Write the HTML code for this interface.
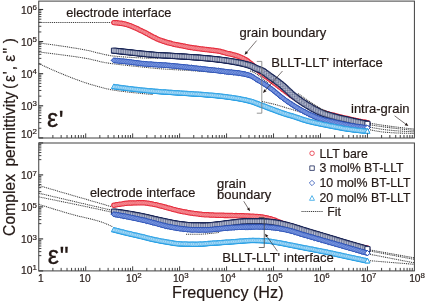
<!DOCTYPE html>
<html><head><meta charset="utf-8"><title>Complex permittivity</title>
<style>html,body{margin:0;padding:0;background:#fff;}svg{display:block;will-change:transform;}text{stroke:#231815;stroke-width:0.18px;}</style></head>
<body>
<svg width="425" height="304" viewBox="0 0 425 304" font-family="Liberation Sans, sans-serif" fill="#231815">
<rect width="425" height="304" fill="#fff"/>
<g id="fit-top">
<polyline points="38.75,22.50 111.50,22.50" fill="none" stroke="#3c3c3c" stroke-width="1.05" stroke-dasharray="1.05 0.85"/>
<polyline points="38.75,43.00 40.74,43.23 42.73,43.47 44.71,43.72 46.70,43.97 48.69,44.23 50.67,44.50 52.66,44.77 54.65,45.04 56.64,45.32 58.62,45.61 60.61,45.90 62.60,46.19 64.59,46.49 66.58,46.79 68.56,47.10 70.55,47.41 72.54,47.73 74.53,48.05 76.51,48.38 78.50,48.72 80.49,49.07 82.47,49.44 84.46,49.81 86.45,50.19 88.44,50.59 90.43,51.03 92.41,51.50 94.40,52.01 96.39,52.53 98.38,53.04 100.36,53.55 102.35,54.03 104.34,54.47 106.33,54.87 108.31,55.26 110.30,55.63 112.29,55.92 114.28,56.13 116.26,56.32 118.25,56.50 120.24,56.67 122.23,56.82 124.21,56.97 126.20,57.11 128.19,57.24 130.18,57.36 132.16,57.47 134.15,57.57 136.14,57.67 138.12,57.76 140.11,57.85 142.10,57.93 144.09,58.00 146.07,58.08 148.06,58.14 150.05,58.21 152.04,58.27 154.03,58.32 156.01,58.36 158.00,58.40" fill="none" stroke="#3c3c3c" stroke-width="1.05" stroke-dasharray="1.05 0.85"/>
<polyline points="38.75,52.00 40.74,52.22 42.73,52.45 44.72,52.68 46.72,52.92 48.71,53.16 50.70,53.40 52.69,53.65 54.68,53.90 56.67,54.16 58.67,54.42 60.66,54.68 62.65,54.95 64.64,55.22 66.63,55.49 68.62,55.76 70.62,56.04 72.61,56.31 74.60,56.60 76.59,56.89 78.58,57.19 80.57,57.49 82.56,57.81 84.56,58.14 86.55,58.49 88.54,58.85 90.53,59.26 92.52,59.72 94.51,60.20 96.51,60.70 98.50,61.20 100.49,61.67 102.48,62.12 104.47,62.51 106.46,62.84 108.46,63.14 110.45,63.42 112.44,63.68 114.43,63.93 116.42,64.18 118.41,64.42 120.40,64.66 122.40,64.89 124.39,65.11 126.38,65.34 128.37,65.55 130.36,65.77 132.35,65.98 134.35,66.19 136.34,66.40 138.33,66.61 140.32,66.82 142.31,67.02 144.30,67.23 146.29,67.44 148.29,67.66 150.28,67.87 152.27,68.07 154.26,68.27 156.25,68.45 158.24,68.62 160.24,68.77 162.23,68.92 164.22,69.06 166.21,69.19 168.20,69.31 170.19,69.43 172.19,69.55 174.18,69.66 176.17,69.77 178.16,69.88 180.15,69.99 182.14,70.10 184.13,70.21 186.13,70.32 188.12,70.43 190.11,70.55 192.10,70.67 194.09,70.79 196.08,70.92 198.08,71.06 200.07,71.21 202.06,71.36 204.05,71.52 206.04,71.69 208.03,71.86 210.03,72.04 212.02,72.23 214.01,72.41 216.00,72.60" fill="none" stroke="#3c3c3c" stroke-width="1.05" stroke-dasharray="1.05 0.85"/>
<polyline points="38.75,63.50 40.72,64.46 42.69,65.40 44.66,66.33 46.63,67.25 48.60,68.15 50.57,69.03 52.54,69.90 54.51,70.75 56.48,71.59 58.45,72.42 60.42,73.24 62.39,74.05 64.36,74.85 66.33,75.64 68.30,76.43 70.27,77.20 72.24,77.96 74.21,78.70 76.18,79.44 78.15,80.17 80.12,80.89 82.09,81.60 84.06,82.30 86.03,82.96 88.00,83.60 89.97,84.20 91.94,84.79 93.91,85.35 95.88,85.89 97.84,86.43 99.81,86.95 101.78,87.48 103.75,88.01 105.72,88.53 107.69,89.01 109.66,89.44 111.63,89.81 113.60,90.14 115.57,90.45 117.54,90.73 119.51,91.00 121.48,91.26 123.45,91.51 125.42,91.75 127.39,91.99 129.36,92.21 131.33,92.43 133.30,92.64 135.27,92.84 137.24,93.04 139.21,93.24 141.18,93.43 143.15,93.62 145.12,93.81 147.09,93.99 149.06,94.16 151.03,94.33 153.00,94.50" fill="none" stroke="#3c3c3c" stroke-width="1.05" stroke-dasharray="1.05 0.85"/>
<polyline points="370.00,123.20 371.91,123.52 373.83,123.83 375.74,124.14 377.65,124.44 379.57,124.74 381.48,125.03 383.39,125.31 385.30,125.59 387.22,125.86 389.13,126.12 391.04,126.38 392.96,126.62 394.87,126.87 396.78,127.10 398.70,127.34 400.61,127.57 402.52,127.79 404.43,128.01 406.35,128.22 408.26,128.42 410.17,128.62 412.09,128.81 414.00,129.00" fill="none" stroke="#3c3c3c" stroke-width="1.05" stroke-dasharray="1.05 0.85"/>
<polyline points="370.00,124.80 371.91,125.11 373.83,125.42 375.74,125.73 377.65,126.02 379.57,126.31 381.48,126.59 383.39,126.87 385.30,127.13 387.22,127.39 389.13,127.64 391.04,127.88 392.96,128.12 394.87,128.34 396.78,128.57 398.70,128.78 400.61,129.00 402.52,129.20 404.43,129.40 406.35,129.60 408.26,129.78 410.17,129.96 412.09,130.14 414.00,130.30" fill="none" stroke="#3c3c3c" stroke-width="1.05" stroke-dasharray="1.05 0.85"/>
<polyline points="370.00,127.20 371.91,127.56 373.83,127.90 375.74,128.24 377.65,128.56 379.57,128.87 381.48,129.16 383.39,129.43 385.30,129.69 387.22,129.92 389.13,130.13 391.04,130.32 392.96,130.48 394.87,130.64 396.78,130.79 398.70,130.94 400.61,131.08 402.52,131.21 404.43,131.33 406.35,131.43 408.26,131.52 410.17,131.60 412.09,131.66 414.00,131.70" fill="none" stroke="#3c3c3c" stroke-width="1.05" stroke-dasharray="1.05 0.85"/>
<polyline points="370.00,129.80 371.91,130.19 373.83,130.57 375.74,130.93 377.65,131.26 379.57,131.55 381.48,131.82 383.39,132.04 385.30,132.23 387.22,132.38 389.13,132.53 391.04,132.66 392.96,132.78 394.87,132.89 396.78,132.98 398.70,133.06 400.61,133.12 402.52,133.18 404.43,133.23 406.35,133.28 408.26,133.33 410.17,133.36 412.09,133.39 414.00,133.40" fill="none" stroke="#3c3c3c" stroke-width="1.05" stroke-dasharray="1.05 0.85"/>
<polyline points="250.00,71.00 251.80,71.51 253.60,72.26 255.40,73.17 257.20,74.29 259.00,75.79 260.80,77.34 262.60,78.77 264.40,80.19 266.20,81.60 268.00,83.00" fill="none" stroke="#3c3c3c" stroke-width="1.05" stroke-dasharray="1.05 0.85"/>
<polyline points="262.00,101.50 263.90,101.89 265.80,102.29 267.70,102.72 269.60,103.16 271.50,103.62 273.40,104.09 275.30,104.58 277.20,105.09 279.10,105.64 281.00,106.20 282.90,106.77 284.80,107.34 286.70,107.91 288.60,108.48 290.50,109.05 292.40,109.63 294.30,110.22 296.20,110.81 298.10,111.40 300.00,112.00" fill="none" stroke="#3c3c3c" stroke-width="1.05" stroke-dasharray="1.05 0.85"/>
<polyline points="300.00,101.00 301.97,102.43 303.94,103.81 305.91,105.12 307.89,106.37 309.86,107.55 311.83,108.64 313.80,109.68 315.77,110.68 317.74,111.65 319.71,112.56 321.69,113.38 323.66,114.09 325.63,114.68 327.60,115.19 329.57,115.67 331.54,116.10 333.51,116.50 335.49,116.87 337.46,117.23 339.43,117.57 341.40,117.90 343.37,118.23 345.34,118.56 347.31,118.89 349.29,119.21 351.26,119.53 353.23,119.84 355.20,120.14 357.17,120.43 359.14,120.72 361.11,121.00 363.09,121.26 365.06,121.52 367.03,121.77 369.00,122.00" fill="none" stroke="#3c3c3c" stroke-width="1.05" stroke-dasharray="1.05 0.85"/>
</g>
<g id="t-red"><path fill="#e62f3f" stroke="#e62f3f" stroke-width="1.05" d="M111.7 22.6a2.2 2.2 0 1 0 4.4 0a2.2 2.2 0 1 0 -4.4 0zM112.9 22.7a2.2 2.2 0 1 0 4.4 0a2.2 2.2 0 1 0 -4.4 0zM114 22.8a2.2 2.2 0 1 0 4.4 0a2.2 2.2 0 1 0 -4.4 0zM115.2 22.9a2.2 2.2 0 1 0 4.4 0a2.2 2.2 0 1 0 -4.4 0zM116.4 23a2.2 2.2 0 1 0 4.4 0a2.2 2.2 0 1 0 -4.4 0zM117.5 23.2a2.2 2.2 0 1 0 4.4 0a2.2 2.2 0 1 0 -4.4 0zM118.7 23.3a2.2 2.2 0 1 0 4.4 0a2.2 2.2 0 1 0 -4.4 0zM119.9 23.5a2.2 2.2 0 1 0 4.4 0a2.2 2.2 0 1 0 -4.4 0zM121.1 23.8a2.2 2.2 0 1 0 4.4 0a2.2 2.2 0 1 0 -4.4 0zM122.2 24a2.2 2.2 0 1 0 4.4 0a2.2 2.2 0 1 0 -4.4 0zM123.4 24.3a2.2 2.2 0 1 0 4.4 0a2.2 2.2 0 1 0 -4.4 0zM124.6 24.6a2.2 2.2 0 1 0 4.4 0a2.2 2.2 0 1 0 -4.4 0zM125.8 25a2.2 2.2 0 1 0 4.4 0a2.2 2.2 0 1 0 -4.4 0zM126.9 25.4a2.2 2.2 0 1 0 4.4 0a2.2 2.2 0 1 0 -4.4 0zM128.1 25.8a2.2 2.2 0 1 0 4.4 0a2.2 2.2 0 1 0 -4.4 0zM129.3 26.2a2.2 2.2 0 1 0 4.4 0a2.2 2.2 0 1 0 -4.4 0zM130.5 26.7a2.2 2.2 0 1 0 4.4 0a2.2 2.2 0 1 0 -4.4 0zM131.6 27.2a2.2 2.2 0 1 0 4.4 0a2.2 2.2 0 1 0 -4.4 0zM132.8 27.7a2.2 2.2 0 1 0 4.4 0a2.2 2.2 0 1 0 -4.4 0zM134 28.3a2.2 2.2 0 1 0 4.4 0a2.2 2.2 0 1 0 -4.4 0zM135.2 28.8a2.2 2.2 0 1 0 4.4 0a2.2 2.2 0 1 0 -4.4 0zM136.3 29.4a2.2 2.2 0 1 0 4.4 0a2.2 2.2 0 1 0 -4.4 0zM137.5 30a2.2 2.2 0 1 0 4.4 0a2.2 2.2 0 1 0 -4.4 0zM138.7 30.5a2.2 2.2 0 1 0 4.4 0a2.2 2.2 0 1 0 -4.4 0zM139.9 31.1a2.2 2.2 0 1 0 4.4 0a2.2 2.2 0 1 0 -4.4 0zM141 31.6a2.2 2.2 0 1 0 4.4 0a2.2 2.2 0 1 0 -4.4 0zM142.2 32.2a2.2 2.2 0 1 0 4.4 0a2.2 2.2 0 1 0 -4.4 0zM143.4 32.8a2.2 2.2 0 1 0 4.4 0a2.2 2.2 0 1 0 -4.4 0zM144.5 33.5a2.2 2.2 0 1 0 4.4 0a2.2 2.2 0 1 0 -4.4 0zM145.7 34.1a2.2 2.2 0 1 0 4.4 0a2.2 2.2 0 1 0 -4.4 0zM146.9 34.8a2.2 2.2 0 1 0 4.4 0a2.2 2.2 0 1 0 -4.4 0zM148.1 35.5a2.2 2.2 0 1 0 4.4 0a2.2 2.2 0 1 0 -4.4 0zM149.2 36.1a2.2 2.2 0 1 0 4.4 0a2.2 2.2 0 1 0 -4.4 0zM150.4 36.7a2.2 2.2 0 1 0 4.4 0a2.2 2.2 0 1 0 -4.4 0zM151.6 37.3a2.2 2.2 0 1 0 4.4 0a2.2 2.2 0 1 0 -4.4 0zM152.8 37.8a2.2 2.2 0 1 0 4.4 0a2.2 2.2 0 1 0 -4.4 0zM153.9 38.4a2.2 2.2 0 1 0 4.4 0a2.2 2.2 0 1 0 -4.4 0zM155.1 38.9a2.2 2.2 0 1 0 4.4 0a2.2 2.2 0 1 0 -4.4 0zM156.3 39.4a2.2 2.2 0 1 0 4.4 0a2.2 2.2 0 1 0 -4.4 0zM157.5 39.9a2.2 2.2 0 1 0 4.4 0a2.2 2.2 0 1 0 -4.4 0zM158.6 40.3a2.2 2.2 0 1 0 4.4 0a2.2 2.2 0 1 0 -4.4 0zM159.8 40.8a2.2 2.2 0 1 0 4.4 0a2.2 2.2 0 1 0 -4.4 0zM161 41.2a2.2 2.2 0 1 0 4.4 0a2.2 2.2 0 1 0 -4.4 0zM162.2 41.6a2.2 2.2 0 1 0 4.4 0a2.2 2.2 0 1 0 -4.4 0zM163.3 42a2.2 2.2 0 1 0 4.4 0a2.2 2.2 0 1 0 -4.4 0zM164.5 42.3a2.2 2.2 0 1 0 4.4 0a2.2 2.2 0 1 0 -4.4 0zM165.7 42.7a2.2 2.2 0 1 0 4.4 0a2.2 2.2 0 1 0 -4.4 0zM166.9 43a2.2 2.2 0 1 0 4.4 0a2.2 2.2 0 1 0 -4.4 0zM168 43.3a2.2 2.2 0 1 0 4.4 0a2.2 2.2 0 1 0 -4.4 0zM169.2 43.6a2.2 2.2 0 1 0 4.4 0a2.2 2.2 0 1 0 -4.4 0zM170.4 43.9a2.2 2.2 0 1 0 4.4 0a2.2 2.2 0 1 0 -4.4 0zM171.5 44.2a2.2 2.2 0 1 0 4.4 0a2.2 2.2 0 1 0 -4.4 0zM172.7 44.4a2.2 2.2 0 1 0 4.4 0a2.2 2.2 0 1 0 -4.4 0zM173.9 44.7a2.2 2.2 0 1 0 4.4 0a2.2 2.2 0 1 0 -4.4 0zM175.1 44.9a2.2 2.2 0 1 0 4.4 0a2.2 2.2 0 1 0 -4.4 0zM176.2 45.1a2.2 2.2 0 1 0 4.4 0a2.2 2.2 0 1 0 -4.4 0zM177.4 45.4a2.2 2.2 0 1 0 4.4 0a2.2 2.2 0 1 0 -4.4 0zM178.6 45.6a2.2 2.2 0 1 0 4.4 0a2.2 2.2 0 1 0 -4.4 0zM179.8 45.8a2.2 2.2 0 1 0 4.4 0a2.2 2.2 0 1 0 -4.4 0zM180.9 46.1a2.2 2.2 0 1 0 4.4 0a2.2 2.2 0 1 0 -4.4 0zM182.1 46.3a2.2 2.2 0 1 0 4.4 0a2.2 2.2 0 1 0 -4.4 0zM183.3 46.5a2.2 2.2 0 1 0 4.4 0a2.2 2.2 0 1 0 -4.4 0zM184.5 46.7a2.2 2.2 0 1 0 4.4 0a2.2 2.2 0 1 0 -4.4 0zM185.6 47a2.2 2.2 0 1 0 4.4 0a2.2 2.2 0 1 0 -4.4 0zM186.8 47.2a2.2 2.2 0 1 0 4.4 0a2.2 2.2 0 1 0 -4.4 0zM188 47.4a2.2 2.2 0 1 0 4.4 0a2.2 2.2 0 1 0 -4.4 0zM189.2 47.6a2.2 2.2 0 1 0 4.4 0a2.2 2.2 0 1 0 -4.4 0zM190.3 47.8a2.2 2.2 0 1 0 4.4 0a2.2 2.2 0 1 0 -4.4 0zM191.5 48a2.2 2.2 0 1 0 4.4 0a2.2 2.2 0 1 0 -4.4 0zM192.7 48.1a2.2 2.2 0 1 0 4.4 0a2.2 2.2 0 1 0 -4.4 0zM193.9 48.3a2.2 2.2 0 1 0 4.4 0a2.2 2.2 0 1 0 -4.4 0zM195 48.5a2.2 2.2 0 1 0 4.4 0a2.2 2.2 0 1 0 -4.4 0zM196.2 48.6a2.2 2.2 0 1 0 4.4 0a2.2 2.2 0 1 0 -4.4 0zM197.4 48.8a2.2 2.2 0 1 0 4.4 0a2.2 2.2 0 1 0 -4.4 0zM198.5 48.9a2.2 2.2 0 1 0 4.4 0a2.2 2.2 0 1 0 -4.4 0zM199.7 49a2.2 2.2 0 1 0 4.4 0a2.2 2.2 0 1 0 -4.4 0zM200.9 49.2a2.2 2.2 0 1 0 4.4 0a2.2 2.2 0 1 0 -4.4 0zM202.1 49.3a2.2 2.2 0 1 0 4.4 0a2.2 2.2 0 1 0 -4.4 0zM203.2 49.5a2.2 2.2 0 1 0 4.4 0a2.2 2.2 0 1 0 -4.4 0zM204.4 49.6a2.2 2.2 0 1 0 4.4 0a2.2 2.2 0 1 0 -4.4 0zM205.6 49.8a2.2 2.2 0 1 0 4.4 0a2.2 2.2 0 1 0 -4.4 0zM206.8 49.9a2.2 2.2 0 1 0 4.4 0a2.2 2.2 0 1 0 -4.4 0zM207.9 50a2.2 2.2 0 1 0 4.4 0a2.2 2.2 0 1 0 -4.4 0zM209.1 50.2a2.2 2.2 0 1 0 4.4 0a2.2 2.2 0 1 0 -4.4 0zM210.3 50.3a2.2 2.2 0 1 0 4.4 0a2.2 2.2 0 1 0 -4.4 0zM211.5 50.4a2.2 2.2 0 1 0 4.4 0a2.2 2.2 0 1 0 -4.4 0zM212.6 50.6a2.2 2.2 0 1 0 4.4 0a2.2 2.2 0 1 0 -4.4 0zM213.8 50.7a2.2 2.2 0 1 0 4.4 0a2.2 2.2 0 1 0 -4.4 0zM215 50.9a2.2 2.2 0 1 0 4.4 0a2.2 2.2 0 1 0 -4.4 0zM216.2 51.1a2.2 2.2 0 1 0 4.4 0a2.2 2.2 0 1 0 -4.4 0zM217.3 51.3a2.2 2.2 0 1 0 4.4 0a2.2 2.2 0 1 0 -4.4 0zM218.5 51.6a2.2 2.2 0 1 0 4.4 0a2.2 2.2 0 1 0 -4.4 0zM219.7 51.9a2.2 2.2 0 1 0 4.4 0a2.2 2.2 0 1 0 -4.4 0zM220.9 52.3a2.2 2.2 0 1 0 4.4 0a2.2 2.2 0 1 0 -4.4 0zM222 52.6a2.2 2.2 0 1 0 4.4 0a2.2 2.2 0 1 0 -4.4 0zM223.2 52.9a2.2 2.2 0 1 0 4.4 0a2.2 2.2 0 1 0 -4.4 0zM224.4 53.2a2.2 2.2 0 1 0 4.4 0a2.2 2.2 0 1 0 -4.4 0zM225.5 53.5a2.2 2.2 0 1 0 4.4 0a2.2 2.2 0 1 0 -4.4 0zM226.7 53.8a2.2 2.2 0 1 0 4.4 0a2.2 2.2 0 1 0 -4.4 0zM227.9 54a2.2 2.2 0 1 0 4.4 0a2.2 2.2 0 1 0 -4.4 0zM229.1 54.3a2.2 2.2 0 1 0 4.4 0a2.2 2.2 0 1 0 -4.4 0zM230.2 54.6a2.2 2.2 0 1 0 4.4 0a2.2 2.2 0 1 0 -4.4 0zM231.4 54.9a2.2 2.2 0 1 0 4.4 0a2.2 2.2 0 1 0 -4.4 0zM232.6 55.2a2.2 2.2 0 1 0 4.4 0a2.2 2.2 0 1 0 -4.4 0zM233.8 55.5a2.2 2.2 0 1 0 4.4 0a2.2 2.2 0 1 0 -4.4 0zM234.9 55.9a2.2 2.2 0 1 0 4.4 0a2.2 2.2 0 1 0 -4.4 0zM236.1 56.2a2.2 2.2 0 1 0 4.4 0a2.2 2.2 0 1 0 -4.4 0zM237.3 56.7a2.2 2.2 0 1 0 4.4 0a2.2 2.2 0 1 0 -4.4 0zM238.5 57.2a2.2 2.2 0 1 0 4.4 0a2.2 2.2 0 1 0 -4.4 0zM239.6 57.7a2.2 2.2 0 1 0 4.4 0a2.2 2.2 0 1 0 -4.4 0zM240.8 58.3a2.2 2.2 0 1 0 4.4 0a2.2 2.2 0 1 0 -4.4 0zM242 58.9a2.2 2.2 0 1 0 4.4 0a2.2 2.2 0 1 0 -4.4 0zM243.2 59.6a2.2 2.2 0 1 0 4.4 0a2.2 2.2 0 1 0 -4.4 0zM244.3 60.3a2.2 2.2 0 1 0 4.4 0a2.2 2.2 0 1 0 -4.4 0zM245.5 61.1a2.2 2.2 0 1 0 4.4 0a2.2 2.2 0 1 0 -4.4 0zM246.7 62a2.2 2.2 0 1 0 4.4 0a2.2 2.2 0 1 0 -4.4 0zM247.9 62.9a2.2 2.2 0 1 0 4.4 0a2.2 2.2 0 1 0 -4.4 0zM249 63.8a2.2 2.2 0 1 0 4.4 0a2.2 2.2 0 1 0 -4.4 0zM250.2 64.9a2.2 2.2 0 1 0 4.4 0a2.2 2.2 0 1 0 -4.4 0zM251.4 66a2.2 2.2 0 1 0 4.4 0a2.2 2.2 0 1 0 -4.4 0zM252.5 67.1a2.2 2.2 0 1 0 4.4 0a2.2 2.2 0 1 0 -4.4 0zM253.7 68.3a2.2 2.2 0 1 0 4.4 0a2.2 2.2 0 1 0 -4.4 0zM254.9 69.5a2.2 2.2 0 1 0 4.4 0a2.2 2.2 0 1 0 -4.4 0zM256.1 70.5a2.2 2.2 0 1 0 4.4 0a2.2 2.2 0 1 0 -4.4 0zM257.2 71.5a2.2 2.2 0 1 0 4.4 0a2.2 2.2 0 1 0 -4.4 0zM258.4 72.5a2.2 2.2 0 1 0 4.4 0a2.2 2.2 0 1 0 -4.4 0zM259.6 73.4a2.2 2.2 0 1 0 4.4 0a2.2 2.2 0 1 0 -4.4 0zM260.8 74.3a2.2 2.2 0 1 0 4.4 0a2.2 2.2 0 1 0 -4.4 0zM261.9 75.2a2.2 2.2 0 1 0 4.4 0a2.2 2.2 0 1 0 -4.4 0zM263.1 76.1a2.2 2.2 0 1 0 4.4 0a2.2 2.2 0 1 0 -4.4 0zM264.3 76.9a2.2 2.2 0 1 0 4.4 0a2.2 2.2 0 1 0 -4.4 0zM265.5 77.8a2.2 2.2 0 1 0 4.4 0a2.2 2.2 0 1 0 -4.4 0zM266.6 78.7a2.2 2.2 0 1 0 4.4 0a2.2 2.2 0 1 0 -4.4 0zM267.8 79.6a2.2 2.2 0 1 0 4.4 0a2.2 2.2 0 1 0 -4.4 0zM269 80.5a2.2 2.2 0 1 0 4.4 0a2.2 2.2 0 1 0 -4.4 0zM270.2 81.4a2.2 2.2 0 1 0 4.4 0a2.2 2.2 0 1 0 -4.4 0zM271.3 82.3a2.2 2.2 0 1 0 4.4 0a2.2 2.2 0 1 0 -4.4 0zM272.5 83.2a2.2 2.2 0 1 0 4.4 0a2.2 2.2 0 1 0 -4.4 0zM273.7 84.1a2.2 2.2 0 1 0 4.4 0a2.2 2.2 0 1 0 -4.4 0zM274.9 85a2.2 2.2 0 1 0 4.4 0a2.2 2.2 0 1 0 -4.4 0zM276 85.9a2.2 2.2 0 1 0 4.4 0a2.2 2.2 0 1 0 -4.4 0zM277.2 86.8a2.2 2.2 0 1 0 4.4 0a2.2 2.2 0 1 0 -4.4 0zM278.4 87.7a2.2 2.2 0 1 0 4.4 0a2.2 2.2 0 1 0 -4.4 0zM279.5 88.5a2.2 2.2 0 1 0 4.4 0a2.2 2.2 0 1 0 -4.4 0zM280.7 89.4a2.2 2.2 0 1 0 4.4 0a2.2 2.2 0 1 0 -4.4 0zM281.9 90.3a2.2 2.2 0 1 0 4.4 0a2.2 2.2 0 1 0 -4.4 0zM283.1 91.2a2.2 2.2 0 1 0 4.4 0a2.2 2.2 0 1 0 -4.4 0zM284.2 92a2.2 2.2 0 1 0 4.4 0a2.2 2.2 0 1 0 -4.4 0zM285.4 92.9a2.2 2.2 0 1 0 4.4 0a2.2 2.2 0 1 0 -4.4 0zM286.6 93.8a2.2 2.2 0 1 0 4.4 0a2.2 2.2 0 1 0 -4.4 0zM287.8 94.6a2.2 2.2 0 1 0 4.4 0a2.2 2.2 0 1 0 -4.4 0zM288.9 95.4a2.2 2.2 0 1 0 4.4 0a2.2 2.2 0 1 0 -4.4 0zM290.1 96.3a2.2 2.2 0 1 0 4.4 0a2.2 2.2 0 1 0 -4.4 0zM291.3 97a2.2 2.2 0 1 0 4.4 0a2.2 2.2 0 1 0 -4.4 0zM292.5 97.8a2.2 2.2 0 1 0 4.4 0a2.2 2.2 0 1 0 -4.4 0zM293.6 98.5a2.2 2.2 0 1 0 4.4 0a2.2 2.2 0 1 0 -4.4 0zM294.8 99.3a2.2 2.2 0 1 0 4.4 0a2.2 2.2 0 1 0 -4.4 0zM296 100a2.2 2.2 0 1 0 4.4 0a2.2 2.2 0 1 0 -4.4 0zM297.2 100.7a2.2 2.2 0 1 0 4.4 0a2.2 2.2 0 1 0 -4.4 0zM298.3 101.4a2.2 2.2 0 1 0 4.4 0a2.2 2.2 0 1 0 -4.4 0zM299.5 102.1a2.2 2.2 0 1 0 4.4 0a2.2 2.2 0 1 0 -4.4 0zM300.7 102.7a2.2 2.2 0 1 0 4.4 0a2.2 2.2 0 1 0 -4.4 0zM301.9 103.4a2.2 2.2 0 1 0 4.4 0a2.2 2.2 0 1 0 -4.4 0zM303 104a2.2 2.2 0 1 0 4.4 0a2.2 2.2 0 1 0 -4.4 0zM304.2 104.7a2.2 2.2 0 1 0 4.4 0a2.2 2.2 0 1 0 -4.4 0zM305.4 105.3a2.2 2.2 0 1 0 4.4 0a2.2 2.2 0 1 0 -4.4 0zM306.5 105.9a2.2 2.2 0 1 0 4.4 0a2.2 2.2 0 1 0 -4.4 0zM307.7 106.5a2.2 2.2 0 1 0 4.4 0a2.2 2.2 0 1 0 -4.4 0zM308.9 107.1a2.2 2.2 0 1 0 4.4 0a2.2 2.2 0 1 0 -4.4 0zM310.1 107.7a2.2 2.2 0 1 0 4.4 0a2.2 2.2 0 1 0 -4.4 0zM311.2 108.3a2.2 2.2 0 1 0 4.4 0a2.2 2.2 0 1 0 -4.4 0zM312.4 108.9a2.2 2.2 0 1 0 4.4 0a2.2 2.2 0 1 0 -4.4 0zM313.6 109.5a2.2 2.2 0 1 0 4.4 0a2.2 2.2 0 1 0 -4.4 0zM314.8 110a2.2 2.2 0 1 0 4.4 0a2.2 2.2 0 1 0 -4.4 0zM315.9 110.5a2.2 2.2 0 1 0 4.4 0a2.2 2.2 0 1 0 -4.4 0zM317.1 111a2.2 2.2 0 1 0 4.4 0a2.2 2.2 0 1 0 -4.4 0zM318.3 111.5a2.2 2.2 0 1 0 4.4 0a2.2 2.2 0 1 0 -4.4 0zM319.5 111.9a2.2 2.2 0 1 0 4.4 0a2.2 2.2 0 1 0 -4.4 0zM320.6 112.3a2.2 2.2 0 1 0 4.4 0a2.2 2.2 0 1 0 -4.4 0zM321.8 112.7a2.2 2.2 0 1 0 4.4 0a2.2 2.2 0 1 0 -4.4 0zM323 113.1a2.2 2.2 0 1 0 4.4 0a2.2 2.2 0 1 0 -4.4 0zM324.2 113.4a2.2 2.2 0 1 0 4.4 0a2.2 2.2 0 1 0 -4.4 0zM325.3 113.8a2.2 2.2 0 1 0 4.4 0a2.2 2.2 0 1 0 -4.4 0zM326.5 114.1a2.2 2.2 0 1 0 4.4 0a2.2 2.2 0 1 0 -4.4 0zM327.7 114.4a2.2 2.2 0 1 0 4.4 0a2.2 2.2 0 1 0 -4.4 0zM328.9 114.7a2.2 2.2 0 1 0 4.4 0a2.2 2.2 0 1 0 -4.4 0zM330 115a2.2 2.2 0 1 0 4.4 0a2.2 2.2 0 1 0 -4.4 0zM331.2 115.3a2.2 2.2 0 1 0 4.4 0a2.2 2.2 0 1 0 -4.4 0zM332.4 115.6a2.2 2.2 0 1 0 4.4 0a2.2 2.2 0 1 0 -4.4 0zM333.5 115.9a2.2 2.2 0 1 0 4.4 0a2.2 2.2 0 1 0 -4.4 0zM334.7 116.2a2.2 2.2 0 1 0 4.4 0a2.2 2.2 0 1 0 -4.4 0zM335.9 116.5a2.2 2.2 0 1 0 4.4 0a2.2 2.2 0 1 0 -4.4 0zM337.1 116.8a2.2 2.2 0 1 0 4.4 0a2.2 2.2 0 1 0 -4.4 0zM338.2 117.1a2.2 2.2 0 1 0 4.4 0a2.2 2.2 0 1 0 -4.4 0zM339.4 117.3a2.2 2.2 0 1 0 4.4 0a2.2 2.2 0 1 0 -4.4 0zM340.6 117.6a2.2 2.2 0 1 0 4.4 0a2.2 2.2 0 1 0 -4.4 0zM341.8 117.9a2.2 2.2 0 1 0 4.4 0a2.2 2.2 0 1 0 -4.4 0zM342.9 118.1a2.2 2.2 0 1 0 4.4 0a2.2 2.2 0 1 0 -4.4 0zM344.1 118.4a2.2 2.2 0 1 0 4.4 0a2.2 2.2 0 1 0 -4.4 0zM345.3 118.6a2.2 2.2 0 1 0 4.4 0a2.2 2.2 0 1 0 -4.4 0zM346.5 118.9a2.2 2.2 0 1 0 4.4 0a2.2 2.2 0 1 0 -4.4 0zM347.6 119.2a2.2 2.2 0 1 0 4.4 0a2.2 2.2 0 1 0 -4.4 0zM348.8 119.4a2.2 2.2 0 1 0 4.4 0a2.2 2.2 0 1 0 -4.4 0zM350 119.7a2.2 2.2 0 1 0 4.4 0a2.2 2.2 0 1 0 -4.4 0zM351.2 119.9a2.2 2.2 0 1 0 4.4 0a2.2 2.2 0 1 0 -4.4 0zM352.3 120.2a2.2 2.2 0 1 0 4.4 0a2.2 2.2 0 1 0 -4.4 0zM353.5 120.5a2.2 2.2 0 1 0 4.4 0a2.2 2.2 0 1 0 -4.4 0zM354.7 120.7a2.2 2.2 0 1 0 4.4 0a2.2 2.2 0 1 0 -4.4 0zM355.9 120.9a2.2 2.2 0 1 0 4.4 0a2.2 2.2 0 1 0 -4.4 0zM357 121.2a2.2 2.2 0 1 0 4.4 0a2.2 2.2 0 1 0 -4.4 0zM358.2 121.4a2.2 2.2 0 1 0 4.4 0a2.2 2.2 0 1 0 -4.4 0zM359.4 121.7a2.2 2.2 0 1 0 4.4 0a2.2 2.2 0 1 0 -4.4 0zM360.5 121.9a2.2 2.2 0 1 0 4.4 0a2.2 2.2 0 1 0 -4.4 0zM361.7 122.1a2.2 2.2 0 1 0 4.4 0a2.2 2.2 0 1 0 -4.4 0zM362.9 122.3a2.2 2.2 0 1 0 4.4 0a2.2 2.2 0 1 0 -4.4 0zM364.1 122.5a2.2 2.2 0 1 0 4.4 0a2.2 2.2 0 1 0 -4.4 0zM365.2 122.7a2.2 2.2 0 1 0 4.4 0a2.2 2.2 0 1 0 -4.4 0z"/>
<path fill="#f6979d" d="M112.2 22.6a1.7 1.7 0 1 0 3.4 0a1.7 1.7 0 1 0 -3.4 0zM113.4 22.7a1.7 1.7 0 1 0 3.4 0a1.7 1.7 0 1 0 -3.4 0zM114.6 22.8a1.7 1.7 0 1 0 3.4 0a1.7 1.7 0 1 0 -3.4 0zM115.7 22.9a1.7 1.7 0 1 0 3.4 0a1.7 1.7 0 1 0 -3.4 0zM116.9 23a1.7 1.7 0 1 0 3.4 0a1.7 1.7 0 1 0 -3.4 0zM118.1 23.2a1.7 1.7 0 1 0 3.4 0a1.7 1.7 0 1 0 -3.4 0zM119.2 23.3a1.7 1.7 0 1 0 3.4 0a1.7 1.7 0 1 0 -3.4 0zM120.4 23.5a1.7 1.7 0 1 0 3.4 0a1.7 1.7 0 1 0 -3.4 0zM121.6 23.8a1.7 1.7 0 1 0 3.4 0a1.7 1.7 0 1 0 -3.4 0zM122.8 24a1.7 1.7 0 1 0 3.4 0a1.7 1.7 0 1 0 -3.4 0zM123.9 24.3a1.7 1.7 0 1 0 3.4 0a1.7 1.7 0 1 0 -3.4 0zM125.1 24.6a1.7 1.7 0 1 0 3.4 0a1.7 1.7 0 1 0 -3.4 0zM126.3 25a1.7 1.7 0 1 0 3.4 0a1.7 1.7 0 1 0 -3.4 0zM127.5 25.4a1.7 1.7 0 1 0 3.4 0a1.7 1.7 0 1 0 -3.4 0zM128.6 25.8a1.7 1.7 0 1 0 3.4 0a1.7 1.7 0 1 0 -3.4 0zM129.8 26.2a1.7 1.7 0 1 0 3.4 0a1.7 1.7 0 1 0 -3.4 0zM131 26.7a1.7 1.7 0 1 0 3.4 0a1.7 1.7 0 1 0 -3.4 0zM132.2 27.2a1.7 1.7 0 1 0 3.4 0a1.7 1.7 0 1 0 -3.4 0zM133.3 27.7a1.7 1.7 0 1 0 3.4 0a1.7 1.7 0 1 0 -3.4 0zM134.5 28.3a1.7 1.7 0 1 0 3.4 0a1.7 1.7 0 1 0 -3.4 0zM135.7 28.8a1.7 1.7 0 1 0 3.4 0a1.7 1.7 0 1 0 -3.4 0zM136.9 29.4a1.7 1.7 0 1 0 3.4 0a1.7 1.7 0 1 0 -3.4 0zM138 30a1.7 1.7 0 1 0 3.4 0a1.7 1.7 0 1 0 -3.4 0zM139.2 30.5a1.7 1.7 0 1 0 3.4 0a1.7 1.7 0 1 0 -3.4 0zM140.4 31.1a1.7 1.7 0 1 0 3.4 0a1.7 1.7 0 1 0 -3.4 0zM141.6 31.6a1.7 1.7 0 1 0 3.4 0a1.7 1.7 0 1 0 -3.4 0zM142.7 32.2a1.7 1.7 0 1 0 3.4 0a1.7 1.7 0 1 0 -3.4 0zM143.9 32.8a1.7 1.7 0 1 0 3.4 0a1.7 1.7 0 1 0 -3.4 0zM145.1 33.5a1.7 1.7 0 1 0 3.4 0a1.7 1.7 0 1 0 -3.4 0zM146.2 34.1a1.7 1.7 0 1 0 3.4 0a1.7 1.7 0 1 0 -3.4 0zM147.4 34.8a1.7 1.7 0 1 0 3.4 0a1.7 1.7 0 1 0 -3.4 0zM148.6 35.5a1.7 1.7 0 1 0 3.4 0a1.7 1.7 0 1 0 -3.4 0zM149.8 36.1a1.7 1.7 0 1 0 3.4 0a1.7 1.7 0 1 0 -3.4 0zM150.9 36.7a1.7 1.7 0 1 0 3.4 0a1.7 1.7 0 1 0 -3.4 0zM152.1 37.3a1.7 1.7 0 1 0 3.4 0a1.7 1.7 0 1 0 -3.4 0zM153.3 37.8a1.7 1.7 0 1 0 3.4 0a1.7 1.7 0 1 0 -3.4 0zM154.5 38.4a1.7 1.7 0 1 0 3.4 0a1.7 1.7 0 1 0 -3.4 0zM155.6 38.9a1.7 1.7 0 1 0 3.4 0a1.7 1.7 0 1 0 -3.4 0zM156.8 39.4a1.7 1.7 0 1 0 3.4 0a1.7 1.7 0 1 0 -3.4 0zM158 39.9a1.7 1.7 0 1 0 3.4 0a1.7 1.7 0 1 0 -3.4 0zM159.2 40.3a1.7 1.7 0 1 0 3.4 0a1.7 1.7 0 1 0 -3.4 0zM160.3 40.8a1.7 1.7 0 1 0 3.4 0a1.7 1.7 0 1 0 -3.4 0zM161.5 41.2a1.7 1.7 0 1 0 3.4 0a1.7 1.7 0 1 0 -3.4 0zM162.7 41.6a1.7 1.7 0 1 0 3.4 0a1.7 1.7 0 1 0 -3.4 0zM163.9 42a1.7 1.7 0 1 0 3.4 0a1.7 1.7 0 1 0 -3.4 0zM165 42.3a1.7 1.7 0 1 0 3.4 0a1.7 1.7 0 1 0 -3.4 0zM166.2 42.7a1.7 1.7 0 1 0 3.4 0a1.7 1.7 0 1 0 -3.4 0zM167.4 43a1.7 1.7 0 1 0 3.4 0a1.7 1.7 0 1 0 -3.4 0zM168.6 43.3a1.7 1.7 0 1 0 3.4 0a1.7 1.7 0 1 0 -3.4 0zM169.7 43.6a1.7 1.7 0 1 0 3.4 0a1.7 1.7 0 1 0 -3.4 0zM170.9 43.9a1.7 1.7 0 1 0 3.4 0a1.7 1.7 0 1 0 -3.4 0zM172.1 44.2a1.7 1.7 0 1 0 3.4 0a1.7 1.7 0 1 0 -3.4 0zM173.2 44.4a1.7 1.7 0 1 0 3.4 0a1.7 1.7 0 1 0 -3.4 0zM174.4 44.7a1.7 1.7 0 1 0 3.4 0a1.7 1.7 0 1 0 -3.4 0zM175.6 44.9a1.7 1.7 0 1 0 3.4 0a1.7 1.7 0 1 0 -3.4 0zM176.8 45.1a1.7 1.7 0 1 0 3.4 0a1.7 1.7 0 1 0 -3.4 0zM177.9 45.4a1.7 1.7 0 1 0 3.4 0a1.7 1.7 0 1 0 -3.4 0zM179.1 45.6a1.7 1.7 0 1 0 3.4 0a1.7 1.7 0 1 0 -3.4 0zM180.3 45.8a1.7 1.7 0 1 0 3.4 0a1.7 1.7 0 1 0 -3.4 0zM181.5 46.1a1.7 1.7 0 1 0 3.4 0a1.7 1.7 0 1 0 -3.4 0zM182.6 46.3a1.7 1.7 0 1 0 3.4 0a1.7 1.7 0 1 0 -3.4 0zM183.8 46.5a1.7 1.7 0 1 0 3.4 0a1.7 1.7 0 1 0 -3.4 0zM185 46.7a1.7 1.7 0 1 0 3.4 0a1.7 1.7 0 1 0 -3.4 0zM186.2 47a1.7 1.7 0 1 0 3.4 0a1.7 1.7 0 1 0 -3.4 0zM187.3 47.2a1.7 1.7 0 1 0 3.4 0a1.7 1.7 0 1 0 -3.4 0zM188.5 47.4a1.7 1.7 0 1 0 3.4 0a1.7 1.7 0 1 0 -3.4 0zM189.7 47.6a1.7 1.7 0 1 0 3.4 0a1.7 1.7 0 1 0 -3.4 0zM190.9 47.8a1.7 1.7 0 1 0 3.4 0a1.7 1.7 0 1 0 -3.4 0zM192 48a1.7 1.7 0 1 0 3.4 0a1.7 1.7 0 1 0 -3.4 0zM193.2 48.1a1.7 1.7 0 1 0 3.4 0a1.7 1.7 0 1 0 -3.4 0zM194.4 48.3a1.7 1.7 0 1 0 3.4 0a1.7 1.7 0 1 0 -3.4 0zM195.6 48.5a1.7 1.7 0 1 0 3.4 0a1.7 1.7 0 1 0 -3.4 0zM196.7 48.6a1.7 1.7 0 1 0 3.4 0a1.7 1.7 0 1 0 -3.4 0zM197.9 48.8a1.7 1.7 0 1 0 3.4 0a1.7 1.7 0 1 0 -3.4 0zM199.1 48.9a1.7 1.7 0 1 0 3.4 0a1.7 1.7 0 1 0 -3.4 0zM200.2 49a1.7 1.7 0 1 0 3.4 0a1.7 1.7 0 1 0 -3.4 0zM201.4 49.2a1.7 1.7 0 1 0 3.4 0a1.7 1.7 0 1 0 -3.4 0zM202.6 49.3a1.7 1.7 0 1 0 3.4 0a1.7 1.7 0 1 0 -3.4 0zM203.8 49.5a1.7 1.7 0 1 0 3.4 0a1.7 1.7 0 1 0 -3.4 0zM204.9 49.6a1.7 1.7 0 1 0 3.4 0a1.7 1.7 0 1 0 -3.4 0zM206.1 49.8a1.7 1.7 0 1 0 3.4 0a1.7 1.7 0 1 0 -3.4 0zM207.3 49.9a1.7 1.7 0 1 0 3.4 0a1.7 1.7 0 1 0 -3.4 0zM208.5 50a1.7 1.7 0 1 0 3.4 0a1.7 1.7 0 1 0 -3.4 0zM209.6 50.2a1.7 1.7 0 1 0 3.4 0a1.7 1.7 0 1 0 -3.4 0zM210.8 50.3a1.7 1.7 0 1 0 3.4 0a1.7 1.7 0 1 0 -3.4 0zM212 50.4a1.7 1.7 0 1 0 3.4 0a1.7 1.7 0 1 0 -3.4 0zM213.2 50.6a1.7 1.7 0 1 0 3.4 0a1.7 1.7 0 1 0 -3.4 0zM214.3 50.7a1.7 1.7 0 1 0 3.4 0a1.7 1.7 0 1 0 -3.4 0zM215.5 50.9a1.7 1.7 0 1 0 3.4 0a1.7 1.7 0 1 0 -3.4 0zM216.7 51.1a1.7 1.7 0 1 0 3.4 0a1.7 1.7 0 1 0 -3.4 0zM217.9 51.3a1.7 1.7 0 1 0 3.4 0a1.7 1.7 0 1 0 -3.4 0zM219 51.6a1.7 1.7 0 1 0 3.4 0a1.7 1.7 0 1 0 -3.4 0zM220.2 51.9a1.7 1.7 0 1 0 3.4 0a1.7 1.7 0 1 0 -3.4 0zM221.4 52.3a1.7 1.7 0 1 0 3.4 0a1.7 1.7 0 1 0 -3.4 0zM222.6 52.6a1.7 1.7 0 1 0 3.4 0a1.7 1.7 0 1 0 -3.4 0zM223.7 52.9a1.7 1.7 0 1 0 3.4 0a1.7 1.7 0 1 0 -3.4 0zM224.9 53.2a1.7 1.7 0 1 0 3.4 0a1.7 1.7 0 1 0 -3.4 0zM226.1 53.5a1.7 1.7 0 1 0 3.4 0a1.7 1.7 0 1 0 -3.4 0zM227.2 53.8a1.7 1.7 0 1 0 3.4 0a1.7 1.7 0 1 0 -3.4 0zM228.4 54a1.7 1.7 0 1 0 3.4 0a1.7 1.7 0 1 0 -3.4 0zM229.6 54.3a1.7 1.7 0 1 0 3.4 0a1.7 1.7 0 1 0 -3.4 0zM230.8 54.6a1.7 1.7 0 1 0 3.4 0a1.7 1.7 0 1 0 -3.4 0zM231.9 54.9a1.7 1.7 0 1 0 3.4 0a1.7 1.7 0 1 0 -3.4 0zM233.1 55.2a1.7 1.7 0 1 0 3.4 0a1.7 1.7 0 1 0 -3.4 0zM234.3 55.5a1.7 1.7 0 1 0 3.4 0a1.7 1.7 0 1 0 -3.4 0zM235.5 55.9a1.7 1.7 0 1 0 3.4 0a1.7 1.7 0 1 0 -3.4 0zM236.6 56.2a1.7 1.7 0 1 0 3.4 0a1.7 1.7 0 1 0 -3.4 0zM237.8 56.7a1.7 1.7 0 1 0 3.4 0a1.7 1.7 0 1 0 -3.4 0zM239 57.2a1.7 1.7 0 1 0 3.4 0a1.7 1.7 0 1 0 -3.4 0zM240.2 57.7a1.7 1.7 0 1 0 3.4 0a1.7 1.7 0 1 0 -3.4 0zM241.3 58.3a1.7 1.7 0 1 0 3.4 0a1.7 1.7 0 1 0 -3.4 0zM242.5 58.9a1.7 1.7 0 1 0 3.4 0a1.7 1.7 0 1 0 -3.4 0zM243.7 59.6a1.7 1.7 0 1 0 3.4 0a1.7 1.7 0 1 0 -3.4 0zM244.9 60.3a1.7 1.7 0 1 0 3.4 0a1.7 1.7 0 1 0 -3.4 0zM246 61.1a1.7 1.7 0 1 0 3.4 0a1.7 1.7 0 1 0 -3.4 0zM247.2 62a1.7 1.7 0 1 0 3.4 0a1.7 1.7 0 1 0 -3.4 0zM248.4 62.9a1.7 1.7 0 1 0 3.4 0a1.7 1.7 0 1 0 -3.4 0zM249.6 63.8a1.7 1.7 0 1 0 3.4 0a1.7 1.7 0 1 0 -3.4 0zM250.7 64.9a1.7 1.7 0 1 0 3.4 0a1.7 1.7 0 1 0 -3.4 0zM251.9 66a1.7 1.7 0 1 0 3.4 0a1.7 1.7 0 1 0 -3.4 0zM253.1 67.1a1.7 1.7 0 1 0 3.4 0a1.7 1.7 0 1 0 -3.4 0zM254.2 68.3a1.7 1.7 0 1 0 3.4 0a1.7 1.7 0 1 0 -3.4 0zM255.4 69.5a1.7 1.7 0 1 0 3.4 0a1.7 1.7 0 1 0 -3.4 0zM256.6 70.5a1.7 1.7 0 1 0 3.4 0a1.7 1.7 0 1 0 -3.4 0zM257.8 71.5a1.7 1.7 0 1 0 3.4 0a1.7 1.7 0 1 0 -3.4 0zM258.9 72.5a1.7 1.7 0 1 0 3.4 0a1.7 1.7 0 1 0 -3.4 0zM260.1 73.4a1.7 1.7 0 1 0 3.4 0a1.7 1.7 0 1 0 -3.4 0zM261.3 74.3a1.7 1.7 0 1 0 3.4 0a1.7 1.7 0 1 0 -3.4 0zM262.5 75.2a1.7 1.7 0 1 0 3.4 0a1.7 1.7 0 1 0 -3.4 0zM263.6 76.1a1.7 1.7 0 1 0 3.4 0a1.7 1.7 0 1 0 -3.4 0zM264.8 76.9a1.7 1.7 0 1 0 3.4 0a1.7 1.7 0 1 0 -3.4 0zM266 77.8a1.7 1.7 0 1 0 3.4 0a1.7 1.7 0 1 0 -3.4 0zM267.2 78.7a1.7 1.7 0 1 0 3.4 0a1.7 1.7 0 1 0 -3.4 0zM268.3 79.6a1.7 1.7 0 1 0 3.4 0a1.7 1.7 0 1 0 -3.4 0zM269.5 80.5a1.7 1.7 0 1 0 3.4 0a1.7 1.7 0 1 0 -3.4 0zM270.7 81.4a1.7 1.7 0 1 0 3.4 0a1.7 1.7 0 1 0 -3.4 0zM271.9 82.3a1.7 1.7 0 1 0 3.4 0a1.7 1.7 0 1 0 -3.4 0zM273 83.2a1.7 1.7 0 1 0 3.4 0a1.7 1.7 0 1 0 -3.4 0zM274.2 84.1a1.7 1.7 0 1 0 3.4 0a1.7 1.7 0 1 0 -3.4 0zM275.4 85a1.7 1.7 0 1 0 3.4 0a1.7 1.7 0 1 0 -3.4 0zM276.6 85.9a1.7 1.7 0 1 0 3.4 0a1.7 1.7 0 1 0 -3.4 0zM277.7 86.8a1.7 1.7 0 1 0 3.4 0a1.7 1.7 0 1 0 -3.4 0zM278.9 87.7a1.7 1.7 0 1 0 3.4 0a1.7 1.7 0 1 0 -3.4 0zM280.1 88.5a1.7 1.7 0 1 0 3.4 0a1.7 1.7 0 1 0 -3.4 0zM281.2 89.4a1.7 1.7 0 1 0 3.4 0a1.7 1.7 0 1 0 -3.4 0zM282.4 90.3a1.7 1.7 0 1 0 3.4 0a1.7 1.7 0 1 0 -3.4 0zM283.6 91.2a1.7 1.7 0 1 0 3.4 0a1.7 1.7 0 1 0 -3.4 0zM284.8 92a1.7 1.7 0 1 0 3.4 0a1.7 1.7 0 1 0 -3.4 0zM285.9 92.9a1.7 1.7 0 1 0 3.4 0a1.7 1.7 0 1 0 -3.4 0zM287.1 93.8a1.7 1.7 0 1 0 3.4 0a1.7 1.7 0 1 0 -3.4 0zM288.3 94.6a1.7 1.7 0 1 0 3.4 0a1.7 1.7 0 1 0 -3.4 0zM289.5 95.4a1.7 1.7 0 1 0 3.4 0a1.7 1.7 0 1 0 -3.4 0zM290.6 96.3a1.7 1.7 0 1 0 3.4 0a1.7 1.7 0 1 0 -3.4 0zM291.8 97a1.7 1.7 0 1 0 3.4 0a1.7 1.7 0 1 0 -3.4 0zM293 97.8a1.7 1.7 0 1 0 3.4 0a1.7 1.7 0 1 0 -3.4 0zM294.2 98.5a1.7 1.7 0 1 0 3.4 0a1.7 1.7 0 1 0 -3.4 0zM295.3 99.3a1.7 1.7 0 1 0 3.4 0a1.7 1.7 0 1 0 -3.4 0zM296.5 100a1.7 1.7 0 1 0 3.4 0a1.7 1.7 0 1 0 -3.4 0zM297.7 100.7a1.7 1.7 0 1 0 3.4 0a1.7 1.7 0 1 0 -3.4 0zM298.9 101.4a1.7 1.7 0 1 0 3.4 0a1.7 1.7 0 1 0 -3.4 0zM300 102.1a1.7 1.7 0 1 0 3.4 0a1.7 1.7 0 1 0 -3.4 0zM301.2 102.7a1.7 1.7 0 1 0 3.4 0a1.7 1.7 0 1 0 -3.4 0zM302.4 103.4a1.7 1.7 0 1 0 3.4 0a1.7 1.7 0 1 0 -3.4 0zM303.6 104a1.7 1.7 0 1 0 3.4 0a1.7 1.7 0 1 0 -3.4 0zM304.7 104.7a1.7 1.7 0 1 0 3.4 0a1.7 1.7 0 1 0 -3.4 0zM305.9 105.3a1.7 1.7 0 1 0 3.4 0a1.7 1.7 0 1 0 -3.4 0zM307.1 105.9a1.7 1.7 0 1 0 3.4 0a1.7 1.7 0 1 0 -3.4 0zM308.2 106.5a1.7 1.7 0 1 0 3.4 0a1.7 1.7 0 1 0 -3.4 0zM309.4 107.1a1.7 1.7 0 1 0 3.4 0a1.7 1.7 0 1 0 -3.4 0zM310.6 107.7a1.7 1.7 0 1 0 3.4 0a1.7 1.7 0 1 0 -3.4 0zM311.8 108.3a1.7 1.7 0 1 0 3.4 0a1.7 1.7 0 1 0 -3.4 0zM312.9 108.9a1.7 1.7 0 1 0 3.4 0a1.7 1.7 0 1 0 -3.4 0zM314.1 109.5a1.7 1.7 0 1 0 3.4 0a1.7 1.7 0 1 0 -3.4 0zM315.3 110a1.7 1.7 0 1 0 3.4 0a1.7 1.7 0 1 0 -3.4 0zM316.5 110.5a1.7 1.7 0 1 0 3.4 0a1.7 1.7 0 1 0 -3.4 0zM317.6 111a1.7 1.7 0 1 0 3.4 0a1.7 1.7 0 1 0 -3.4 0zM318.8 111.5a1.7 1.7 0 1 0 3.4 0a1.7 1.7 0 1 0 -3.4 0zM320 111.9a1.7 1.7 0 1 0 3.4 0a1.7 1.7 0 1 0 -3.4 0zM321.2 112.3a1.7 1.7 0 1 0 3.4 0a1.7 1.7 0 1 0 -3.4 0zM322.3 112.7a1.7 1.7 0 1 0 3.4 0a1.7 1.7 0 1 0 -3.4 0zM323.5 113.1a1.7 1.7 0 1 0 3.4 0a1.7 1.7 0 1 0 -3.4 0zM324.7 113.4a1.7 1.7 0 1 0 3.4 0a1.7 1.7 0 1 0 -3.4 0zM325.9 113.8a1.7 1.7 0 1 0 3.4 0a1.7 1.7 0 1 0 -3.4 0zM327 114.1a1.7 1.7 0 1 0 3.4 0a1.7 1.7 0 1 0 -3.4 0zM328.2 114.4a1.7 1.7 0 1 0 3.4 0a1.7 1.7 0 1 0 -3.4 0zM329.4 114.7a1.7 1.7 0 1 0 3.4 0a1.7 1.7 0 1 0 -3.4 0zM330.6 115a1.7 1.7 0 1 0 3.4 0a1.7 1.7 0 1 0 -3.4 0zM331.7 115.3a1.7 1.7 0 1 0 3.4 0a1.7 1.7 0 1 0 -3.4 0zM332.9 115.6a1.7 1.7 0 1 0 3.4 0a1.7 1.7 0 1 0 -3.4 0zM334.1 115.9a1.7 1.7 0 1 0 3.4 0a1.7 1.7 0 1 0 -3.4 0zM335.2 116.2a1.7 1.7 0 1 0 3.4 0a1.7 1.7 0 1 0 -3.4 0zM336.4 116.5a1.7 1.7 0 1 0 3.4 0a1.7 1.7 0 1 0 -3.4 0zM337.6 116.8a1.7 1.7 0 1 0 3.4 0a1.7 1.7 0 1 0 -3.4 0zM338.8 117.1a1.7 1.7 0 1 0 3.4 0a1.7 1.7 0 1 0 -3.4 0zM339.9 117.3a1.7 1.7 0 1 0 3.4 0a1.7 1.7 0 1 0 -3.4 0zM341.1 117.6a1.7 1.7 0 1 0 3.4 0a1.7 1.7 0 1 0 -3.4 0zM342.3 117.9a1.7 1.7 0 1 0 3.4 0a1.7 1.7 0 1 0 -3.4 0zM343.5 118.1a1.7 1.7 0 1 0 3.4 0a1.7 1.7 0 1 0 -3.4 0zM344.6 118.4a1.7 1.7 0 1 0 3.4 0a1.7 1.7 0 1 0 -3.4 0zM345.8 118.6a1.7 1.7 0 1 0 3.4 0a1.7 1.7 0 1 0 -3.4 0zM347 118.9a1.7 1.7 0 1 0 3.4 0a1.7 1.7 0 1 0 -3.4 0zM348.2 119.2a1.7 1.7 0 1 0 3.4 0a1.7 1.7 0 1 0 -3.4 0zM349.3 119.4a1.7 1.7 0 1 0 3.4 0a1.7 1.7 0 1 0 -3.4 0zM350.5 119.7a1.7 1.7 0 1 0 3.4 0a1.7 1.7 0 1 0 -3.4 0zM351.7 119.9a1.7 1.7 0 1 0 3.4 0a1.7 1.7 0 1 0 -3.4 0zM352.9 120.2a1.7 1.7 0 1 0 3.4 0a1.7 1.7 0 1 0 -3.4 0zM354 120.5a1.7 1.7 0 1 0 3.4 0a1.7 1.7 0 1 0 -3.4 0zM355.2 120.7a1.7 1.7 0 1 0 3.4 0a1.7 1.7 0 1 0 -3.4 0zM356.4 120.9a1.7 1.7 0 1 0 3.4 0a1.7 1.7 0 1 0 -3.4 0zM357.6 121.2a1.7 1.7 0 1 0 3.4 0a1.7 1.7 0 1 0 -3.4 0zM358.7 121.4a1.7 1.7 0 1 0 3.4 0a1.7 1.7 0 1 0 -3.4 0zM359.9 121.7a1.7 1.7 0 1 0 3.4 0a1.7 1.7 0 1 0 -3.4 0zM361.1 121.9a1.7 1.7 0 1 0 3.4 0a1.7 1.7 0 1 0 -3.4 0zM362.2 122.1a1.7 1.7 0 1 0 3.4 0a1.7 1.7 0 1 0 -3.4 0zM363.4 122.3a1.7 1.7 0 1 0 3.4 0a1.7 1.7 0 1 0 -3.4 0zM364.6 122.5a1.7 1.7 0 1 0 3.4 0a1.7 1.7 0 1 0 -3.4 0zM365.8 122.7a1.7 1.7 0 1 0 3.4 0a1.7 1.7 0 1 0 -3.4 0z"/>
<path fill="none" stroke="#e62f3f" stroke-opacity="0.45" stroke-width="0.6" d="M111.9 22.6a2 2 0 1 0 4 0a2 2 0 1 0 -4 0zM114.2 22.8a2 2 0 1 0 4 0a2 2 0 1 0 -4 0zM116.6 23a2 2 0 1 0 4 0a2 2 0 1 0 -4 0zM118.9 23.3a2 2 0 1 0 4 0a2 2 0 1 0 -4 0zM121.3 23.8a2 2 0 1 0 4 0a2 2 0 1 0 -4 0zM123.6 24.3a2 2 0 1 0 4 0a2 2 0 1 0 -4 0zM126 25a2 2 0 1 0 4 0a2 2 0 1 0 -4 0zM128.3 25.8a2 2 0 1 0 4 0a2 2 0 1 0 -4 0zM130.7 26.7a2 2 0 1 0 4 0a2 2 0 1 0 -4 0zM133 27.7a2 2 0 1 0 4 0a2 2 0 1 0 -4 0zM135.4 28.8a2 2 0 1 0 4 0a2 2 0 1 0 -4 0zM137.7 30a2 2 0 1 0 4 0a2 2 0 1 0 -4 0zM140.1 31.1a2 2 0 1 0 4 0a2 2 0 1 0 -4 0zM142.4 32.2a2 2 0 1 0 4 0a2 2 0 1 0 -4 0zM144.7 33.5a2 2 0 1 0 4 0a2 2 0 1 0 -4 0zM147.1 34.8a2 2 0 1 0 4 0a2 2 0 1 0 -4 0zM149.4 36.1a2 2 0 1 0 4 0a2 2 0 1 0 -4 0zM151.8 37.3a2 2 0 1 0 4 0a2 2 0 1 0 -4 0zM154.1 38.4a2 2 0 1 0 4 0a2 2 0 1 0 -4 0zM156.5 39.4a2 2 0 1 0 4 0a2 2 0 1 0 -4 0zM158.8 40.3a2 2 0 1 0 4 0a2 2 0 1 0 -4 0zM161.2 41.2a2 2 0 1 0 4 0a2 2 0 1 0 -4 0zM163.5 42a2 2 0 1 0 4 0a2 2 0 1 0 -4 0zM165.9 42.7a2 2 0 1 0 4 0a2 2 0 1 0 -4 0zM168.2 43.3a2 2 0 1 0 4 0a2 2 0 1 0 -4 0zM170.6 43.9a2 2 0 1 0 4 0a2 2 0 1 0 -4 0zM172.9 44.4a2 2 0 1 0 4 0a2 2 0 1 0 -4 0zM175.3 44.9a2 2 0 1 0 4 0a2 2 0 1 0 -4 0zM177.6 45.4a2 2 0 1 0 4 0a2 2 0 1 0 -4 0zM180 45.8a2 2 0 1 0 4 0a2 2 0 1 0 -4 0zM182.3 46.3a2 2 0 1 0 4 0a2 2 0 1 0 -4 0zM184.7 46.7a2 2 0 1 0 4 0a2 2 0 1 0 -4 0zM187 47.2a2 2 0 1 0 4 0a2 2 0 1 0 -4 0zM189.4 47.6a2 2 0 1 0 4 0a2 2 0 1 0 -4 0zM191.7 48a2 2 0 1 0 4 0a2 2 0 1 0 -4 0zM194.1 48.3a2 2 0 1 0 4 0a2 2 0 1 0 -4 0zM196.4 48.6a2 2 0 1 0 4 0a2 2 0 1 0 -4 0zM198.7 48.9a2 2 0 1 0 4 0a2 2 0 1 0 -4 0zM201.1 49.2a2 2 0 1 0 4 0a2 2 0 1 0 -4 0zM203.4 49.5a2 2 0 1 0 4 0a2 2 0 1 0 -4 0zM205.8 49.8a2 2 0 1 0 4 0a2 2 0 1 0 -4 0zM208.1 50a2 2 0 1 0 4 0a2 2 0 1 0 -4 0zM210.5 50.3a2 2 0 1 0 4 0a2 2 0 1 0 -4 0zM212.8 50.6a2 2 0 1 0 4 0a2 2 0 1 0 -4 0zM215.2 50.9a2 2 0 1 0 4 0a2 2 0 1 0 -4 0zM217.5 51.3a2 2 0 1 0 4 0a2 2 0 1 0 -4 0zM219.9 51.9a2 2 0 1 0 4 0a2 2 0 1 0 -4 0zM222.2 52.6a2 2 0 1 0 4 0a2 2 0 1 0 -4 0zM224.6 53.2a2 2 0 1 0 4 0a2 2 0 1 0 -4 0zM226.9 53.8a2 2 0 1 0 4 0a2 2 0 1 0 -4 0zM229.3 54.3a2 2 0 1 0 4 0a2 2 0 1 0 -4 0zM231.6 54.9a2 2 0 1 0 4 0a2 2 0 1 0 -4 0zM234 55.5a2 2 0 1 0 4 0a2 2 0 1 0 -4 0zM236.3 56.2a2 2 0 1 0 4 0a2 2 0 1 0 -4 0zM238.7 57.2a2 2 0 1 0 4 0a2 2 0 1 0 -4 0zM241 58.3a2 2 0 1 0 4 0a2 2 0 1 0 -4 0zM243.4 59.6a2 2 0 1 0 4 0a2 2 0 1 0 -4 0zM245.7 61.1a2 2 0 1 0 4 0a2 2 0 1 0 -4 0zM248.1 62.9a2 2 0 1 0 4 0a2 2 0 1 0 -4 0zM250.4 64.9a2 2 0 1 0 4 0a2 2 0 1 0 -4 0zM252.7 67.1a2 2 0 1 0 4 0a2 2 0 1 0 -4 0zM255.1 69.5a2 2 0 1 0 4 0a2 2 0 1 0 -4 0zM257.4 71.5a2 2 0 1 0 4 0a2 2 0 1 0 -4 0zM259.8 73.4a2 2 0 1 0 4 0a2 2 0 1 0 -4 0zM262.1 75.2a2 2 0 1 0 4 0a2 2 0 1 0 -4 0zM264.5 76.9a2 2 0 1 0 4 0a2 2 0 1 0 -4 0zM266.8 78.7a2 2 0 1 0 4 0a2 2 0 1 0 -4 0zM269.2 80.5a2 2 0 1 0 4 0a2 2 0 1 0 -4 0zM271.5 82.3a2 2 0 1 0 4 0a2 2 0 1 0 -4 0zM273.9 84.1a2 2 0 1 0 4 0a2 2 0 1 0 -4 0zM276.2 85.9a2 2 0 1 0 4 0a2 2 0 1 0 -4 0zM278.6 87.7a2 2 0 1 0 4 0a2 2 0 1 0 -4 0zM280.9 89.4a2 2 0 1 0 4 0a2 2 0 1 0 -4 0zM283.3 91.2a2 2 0 1 0 4 0a2 2 0 1 0 -4 0zM285.6 92.9a2 2 0 1 0 4 0a2 2 0 1 0 -4 0zM288 94.6a2 2 0 1 0 4 0a2 2 0 1 0 -4 0zM290.3 96.3a2 2 0 1 0 4 0a2 2 0 1 0 -4 0zM292.7 97.8a2 2 0 1 0 4 0a2 2 0 1 0 -4 0zM295 99.3a2 2 0 1 0 4 0a2 2 0 1 0 -4 0zM297.4 100.7a2 2 0 1 0 4 0a2 2 0 1 0 -4 0zM299.7 102.1a2 2 0 1 0 4 0a2 2 0 1 0 -4 0zM302.1 103.4a2 2 0 1 0 4 0a2 2 0 1 0 -4 0zM304.4 104.7a2 2 0 1 0 4 0a2 2 0 1 0 -4 0zM306.7 105.9a2 2 0 1 0 4 0a2 2 0 1 0 -4 0zM309.1 107.1a2 2 0 1 0 4 0a2 2 0 1 0 -4 0zM311.4 108.3a2 2 0 1 0 4 0a2 2 0 1 0 -4 0zM313.8 109.5a2 2 0 1 0 4 0a2 2 0 1 0 -4 0zM316.1 110.5a2 2 0 1 0 4 0a2 2 0 1 0 -4 0zM318.5 111.5a2 2 0 1 0 4 0a2 2 0 1 0 -4 0zM320.8 112.3a2 2 0 1 0 4 0a2 2 0 1 0 -4 0zM323.2 113.1a2 2 0 1 0 4 0a2 2 0 1 0 -4 0zM325.5 113.8a2 2 0 1 0 4 0a2 2 0 1 0 -4 0zM327.9 114.4a2 2 0 1 0 4 0a2 2 0 1 0 -4 0zM330.2 115a2 2 0 1 0 4 0a2 2 0 1 0 -4 0zM332.6 115.6a2 2 0 1 0 4 0a2 2 0 1 0 -4 0zM334.9 116.2a2 2 0 1 0 4 0a2 2 0 1 0 -4 0zM337.3 116.8a2 2 0 1 0 4 0a2 2 0 1 0 -4 0zM339.6 117.3a2 2 0 1 0 4 0a2 2 0 1 0 -4 0zM342 117.9a2 2 0 1 0 4 0a2 2 0 1 0 -4 0zM344.3 118.4a2 2 0 1 0 4 0a2 2 0 1 0 -4 0zM346.7 118.9a2 2 0 1 0 4 0a2 2 0 1 0 -4 0zM349 119.4a2 2 0 1 0 4 0a2 2 0 1 0 -4 0zM351.4 119.9a2 2 0 1 0 4 0a2 2 0 1 0 -4 0zM353.7 120.5a2 2 0 1 0 4 0a2 2 0 1 0 -4 0zM356.1 120.9a2 2 0 1 0 4 0a2 2 0 1 0 -4 0zM358.4 121.4a2 2 0 1 0 4 0a2 2 0 1 0 -4 0zM360.7 121.9a2 2 0 1 0 4 0a2 2 0 1 0 -4 0zM363.1 122.3a2 2 0 1 0 4 0a2 2 0 1 0 -4 0zM365.4 122.7a2 2 0 1 0 4 0a2 2 0 1 0 -4 0z"/>
<path d="M365.2 122.7a2.2 2.2 0 1 0 4.4 0a2.2 2.2 0 1 0 -4.4 0z" fill="#fff" stroke="#e62f3f" stroke-width="1.05"/></g>
<g id="t-navy"><path fill="#1b2759" stroke="#1b2759" stroke-width="0.95" d="M111.4 48.2h5v5h-5zM112.6 48.3h5v5h-5zM113.7 48.4h5v5h-5zM114.9 48.5h5v5h-5zM116.1 48.7h5v5h-5zM117.2 48.8h5v5h-5zM118.4 48.9h5v5h-5zM119.6 49h5v5h-5zM120.8 49.2h5v5h-5zM121.9 49.3h5v5h-5zM123.1 49.4h5v5h-5zM124.3 49.6h5v5h-5zM125.5 49.7h5v5h-5zM126.6 49.8h5v5h-5zM127.8 49.9h5v5h-5zM129 50.1h5v5h-5zM130.2 50.2h5v5h-5zM131.3 50.3h5v5h-5zM132.5 50.5h5v5h-5zM133.7 50.6h5v5h-5zM134.9 50.7h5v5h-5zM136 50.8h5v5h-5zM137.2 51h5v5h-5zM138.4 51.1h5v5h-5zM139.6 51.2h5v5h-5zM140.7 51.3h5v5h-5zM141.9 51.4h5v5h-5zM143.1 51.5h5v5h-5zM144.2 51.7h5v5h-5zM145.4 51.8h5v5h-5zM146.6 51.9h5v5h-5zM147.8 52h5v5h-5zM148.9 52.1h5v5h-5zM150.1 52.2h5v5h-5zM151.3 52.3h5v5h-5zM152.5 52.4h5v5h-5zM153.6 52.5h5v5h-5zM154.8 52.6h5v5h-5zM156 52.6h5v5h-5zM157.2 52.7h5v5h-5zM158.3 52.8h5v5h-5zM159.5 52.8h5v5h-5zM160.7 52.9h5v5h-5zM161.9 53h5v5h-5zM163 53h5v5h-5zM164.2 53.1h5v5h-5zM165.4 53.1h5v5h-5zM166.6 53.2h5v5h-5zM167.7 53.3h5v5h-5zM168.9 53.3h5v5h-5zM170.1 53.4h5v5h-5zM171.2 53.5h5v5h-5zM172.4 53.6h5v5h-5zM173.6 53.6h5v5h-5zM174.8 53.7h5v5h-5zM175.9 53.8h5v5h-5zM177.1 53.8h5v5h-5zM178.3 53.9h5v5h-5zM179.5 54h5v5h-5zM180.6 54.1h5v5h-5zM181.8 54.1h5v5h-5zM183 54.2h5v5h-5zM184.2 54.3h5v5h-5zM185.3 54.4h5v5h-5zM186.5 54.5h5v5h-5zM187.7 54.5h5v5h-5zM188.9 54.6h5v5h-5zM190 54.7h5v5h-5zM191.2 54.8h5v5h-5zM192.4 54.9h5v5h-5zM193.6 54.9h5v5h-5zM194.7 55h5v5h-5zM195.9 55.1h5v5h-5zM197.1 55.2h5v5h-5zM198.2 55.3h5v5h-5zM199.4 55.4h5v5h-5zM200.6 55.5h5v5h-5zM201.8 55.6h5v5h-5zM202.9 55.7h5v5h-5zM204.1 55.8h5v5h-5zM205.3 55.9h5v5h-5zM206.5 56h5v5h-5zM207.6 56.1h5v5h-5zM208.8 56.3h5v5h-5zM210 56.4h5v5h-5zM211.2 56.5h5v5h-5zM212.3 56.6h5v5h-5zM213.5 56.8h5v5h-5zM214.7 56.9h5v5h-5zM215.9 57h5v5h-5zM217 57.2h5v5h-5zM218.2 57.3h5v5h-5zM219.4 57.5h5v5h-5zM220.6 57.6h5v5h-5zM221.7 57.8h5v5h-5zM222.9 58h5v5h-5zM224.1 58.1h5v5h-5zM225.2 58.3h5v5h-5zM226.4 58.5h5v5h-5zM227.6 58.7h5v5h-5zM228.8 58.9h5v5h-5zM229.9 59h5v5h-5zM231.1 59.2h5v5h-5zM232.3 59.5h5v5h-5zM233.5 59.7h5v5h-5zM234.6 59.9h5v5h-5zM235.8 60.1h5v5h-5zM237 60.4h5v5h-5zM238.2 60.6h5v5h-5zM239.3 60.9h5v5h-5zM240.5 61.1h5v5h-5zM241.7 61.4h5v5h-5zM242.9 61.7h5v5h-5zM244 62h5v5h-5zM245.2 62.3h5v5h-5zM246.4 62.7h5v5h-5zM247.6 63.1h5v5h-5zM248.7 63.5h5v5h-5zM249.9 64h5v5h-5zM251.1 64.6h5v5h-5zM252.2 65.3h5v5h-5zM253.4 65.8h5v5h-5zM254.6 66.3h5v5h-5zM255.8 66.7h5v5h-5zM256.9 67.2h5v5h-5zM258.1 67.6h5v5h-5zM259.3 68.2h5v5h-5zM260.5 68.8h5v5h-5zM261.6 69.6h5v5h-5zM262.8 70.5h5v5h-5zM264 71.3h5v5h-5zM265.2 72.2h5v5h-5zM266.3 73.1h5v5h-5zM267.5 73.9h5v5h-5zM268.7 74.7h5v5h-5zM269.9 75.5h5v5h-5zM271 76.4h5v5h-5zM272.2 77.2h5v5h-5zM273.4 78.1h5v5h-5zM274.6 78.9h5v5h-5zM275.7 79.8h5v5h-5zM276.9 80.7h5v5h-5zM278.1 81.6h5v5h-5zM279.2 82.6h5v5h-5zM280.4 83.6h5v5h-5zM281.6 84.6h5v5h-5zM282.8 85.7h5v5h-5zM283.9 86.8h5v5h-5zM285.1 87.9h5v5h-5zM286.3 89h5v5h-5zM287.5 90.1h5v5h-5zM288.6 91.2h5v5h-5zM289.8 92.2h5v5h-5zM291 93.2h5v5h-5zM292.2 94.1h5v5h-5zM293.3 95h5v5h-5zM294.5 95.9h5v5h-5zM295.7 96.7h5v5h-5zM296.9 97.6h5v5h-5zM298 98.4h5v5h-5zM299.2 99.2h5v5h-5zM300.4 100h5v5h-5zM301.6 100.7h5v5h-5zM302.7 101.5h5v5h-5zM303.9 102.2h5v5h-5zM305.1 102.9h5v5h-5zM306.2 103.6h5v5h-5zM307.4 104.3h5v5h-5zM308.6 105h5v5h-5zM309.8 105.7h5v5h-5zM310.9 106.4h5v5h-5zM312.1 107h5v5h-5zM313.3 107.6h5v5h-5zM314.5 108.2h5v5h-5zM315.6 108.8h5v5h-5zM316.8 109.4h5v5h-5zM318 109.9h5v5h-5zM319.2 110.3h5v5h-5zM320.3 110.8h5v5h-5zM321.5 111.2h5v5h-5zM322.7 111.6h5v5h-5zM323.9 112h5v5h-5zM325 112.3h5v5h-5zM326.2 112.7h5v5h-5zM327.4 113h5v5h-5zM328.6 113.4h5v5h-5zM329.7 113.7h5v5h-5zM330.9 114h5v5h-5zM332.1 114.3h5v5h-5zM333.2 114.6h5v5h-5zM334.4 114.9h5v5h-5zM335.6 115.2h5v5h-5zM336.8 115.5h5v5h-5zM337.9 115.8h5v5h-5zM339.1 116h5v5h-5zM340.3 116.3h5v5h-5zM341.5 116.6h5v5h-5zM342.6 116.8h5v5h-5zM343.8 117.1h5v5h-5zM345 117.3h5v5h-5zM346.2 117.6h5v5h-5zM347.3 117.9h5v5h-5zM348.5 118.1h5v5h-5zM349.7 118.4h5v5h-5zM350.9 118.6h5v5h-5zM352 118.9h5v5h-5zM353.2 119.2h5v5h-5zM354.4 119.4h5v5h-5zM355.6 119.6h5v5h-5zM356.7 119.9h5v5h-5zM357.9 120.1h5v5h-5zM359.1 120.4h5v5h-5zM360.2 120.6h5v5h-5zM361.4 120.8h5v5h-5zM362.6 121h5v5h-5zM363.8 121.2h5v5h-5zM364.9 121.4h5v5h-5z"/>
<path fill="#b4bace" d="M111.9 48.6h4v4h-4zM113 48.8h4v4h-4zM114.2 48.9h4v4h-4zM115.4 49h4v4h-4zM116.6 49.1h4v4h-4zM117.7 49.3h4v4h-4zM118.9 49.4h4v4h-4zM120.1 49.5h4v4h-4zM121.2 49.6h4v4h-4zM122.4 49.8h4v4h-4zM123.6 49.9h4v4h-4zM124.8 50h4v4h-4zM125.9 50.2h4v4h-4zM127.1 50.3h4v4h-4zM128.3 50.4h4v4h-4zM129.5 50.5h4v4h-4zM130.6 50.7h4v4h-4zM131.8 50.8h4v4h-4zM133 50.9h4v4h-4zM134.2 51.1h4v4h-4zM135.3 51.2h4v4h-4zM136.5 51.3h4v4h-4zM137.7 51.4h4v4h-4zM138.9 51.6h4v4h-4zM140 51.7h4v4h-4zM141.2 51.8h4v4h-4zM142.4 51.9h4v4h-4zM143.6 52h4v4h-4zM144.7 52.1h4v4h-4zM145.9 52.2h4v4h-4zM147.1 52.4h4v4h-4zM148.2 52.5h4v4h-4zM149.4 52.6h4v4h-4zM150.6 52.7h4v4h-4zM151.8 52.8h4v4h-4zM152.9 52.9h4v4h-4zM154.1 52.9h4v4h-4zM155.3 53h4v4h-4zM156.5 53.1h4v4h-4zM157.6 53.2h4v4h-4zM158.8 53.2h4v4h-4zM160 53.3h4v4h-4zM161.2 53.4h4v4h-4zM162.3 53.4h4v4h-4zM163.5 53.5h4v4h-4zM164.7 53.5h4v4h-4zM165.9 53.6h4v4h-4zM167 53.7h4v4h-4zM168.2 53.7h4v4h-4zM169.4 53.8h4v4h-4zM170.6 53.9h4v4h-4zM171.7 54h4v4h-4zM172.9 54h4v4h-4zM174.1 54.1h4v4h-4zM175.2 54.2h4v4h-4zM176.4 54.2h4v4h-4zM177.6 54.3h4v4h-4zM178.8 54.4h4v4h-4zM179.9 54.5h4v4h-4zM181.1 54.5h4v4h-4zM182.3 54.6h4v4h-4zM183.5 54.7h4v4h-4zM184.6 54.8h4v4h-4zM185.8 54.8h4v4h-4zM187 54.9h4v4h-4zM188.2 55h4v4h-4zM189.3 55.1h4v4h-4zM190.5 55.2h4v4h-4zM191.7 55.3h4v4h-4zM192.9 55.3h4v4h-4zM194 55.4h4v4h-4zM195.2 55.5h4v4h-4zM196.4 55.6h4v4h-4zM197.6 55.7h4v4h-4zM198.7 55.8h4v4h-4zM199.9 55.9h4v4h-4zM201.1 56h4v4h-4zM202.2 56.1h4v4h-4zM203.4 56.2h4v4h-4zM204.6 56.3h4v4h-4zM205.8 56.4h4v4h-4zM206.9 56.5h4v4h-4zM208.1 56.6h4v4h-4zM209.3 56.7h4v4h-4zM210.5 56.9h4v4h-4zM211.6 57h4v4h-4zM212.8 57.1h4v4h-4zM214 57.2h4v4h-4zM215.2 57.4h4v4h-4zM216.3 57.5h4v4h-4zM217.5 57.6h4v4h-4zM218.7 57.8h4v4h-4zM219.9 57.9h4v4h-4zM221 58.1h4v4h-4zM222.2 58.3h4v4h-4zM223.4 58.4h4v4h-4zM224.5 58.6h4v4h-4zM225.7 58.8h4v4h-4zM226.9 59h4v4h-4zM228.1 59.1h4v4h-4zM229.2 59.3h4v4h-4zM230.4 59.5h4v4h-4zM231.6 59.7h4v4h-4zM232.8 59.9h4v4h-4zM233.9 60.1h4v4h-4zM235.1 60.4h4v4h-4zM236.3 60.6h4v4h-4zM237.5 60.8h4v4h-4zM238.6 61.1h4v4h-4zM239.8 61.3h4v4h-4zM241 61.6h4v4h-4zM242.2 61.9h4v4h-4zM243.3 62.2h4v4h-4zM244.5 62.5h4v4h-4zM245.7 62.8h4v4h-4zM246.9 63.2h4v4h-4zM248 63.5h4v4h-4zM249.2 63.9h4v4h-4zM250.4 64.5h4v4h-4zM251.5 65.1h4v4h-4zM252.7 65.8h4v4h-4zM253.9 66.3h4v4h-4zM255.1 66.7h4v4h-4zM256.2 67.2h4v4h-4zM257.4 67.6h4v4h-4zM258.6 68.1h4v4h-4zM259.8 68.7h4v4h-4zM260.9 69.3h4v4h-4zM262.1 70.1h4v4h-4zM263.3 70.9h4v4h-4zM264.5 71.8h4v4h-4zM265.6 72.7h4v4h-4zM266.8 73.5h4v4h-4zM268 74.4h4v4h-4zM269.2 75.2h4v4h-4zM270.3 76h4v4h-4zM271.5 76.8h4v4h-4zM272.7 77.7h4v4h-4zM273.9 78.5h4v4h-4zM275 79.4h4v4h-4zM276.2 80.3h4v4h-4zM277.4 81.2h4v4h-4zM278.5 82.1h4v4h-4zM279.7 83h4v4h-4zM280.9 84h4v4h-4zM282.1 85.1h4v4h-4zM283.2 86.2h4v4h-4zM284.4 87.3h4v4h-4zM285.6 88.4h4v4h-4zM286.8 89.5h4v4h-4zM287.9 90.6h4v4h-4zM289.1 91.6h4v4h-4zM290.3 92.7h4v4h-4zM291.5 93.7h4v4h-4zM292.6 94.6h4v4h-4zM293.8 95.5h4v4h-4zM295 96.4h4v4h-4zM296.2 97.2h4v4h-4zM297.3 98.1h4v4h-4zM298.5 98.9h4v4h-4zM299.7 99.7h4v4h-4zM300.9 100.5h4v4h-4zM302 101.2h4v4h-4zM303.2 102h4v4h-4zM304.4 102.7h4v4h-4zM305.5 103.4h4v4h-4zM306.7 104.1h4v4h-4zM307.9 104.8h4v4h-4zM309.1 105.5h4v4h-4zM310.2 106.2h4v4h-4zM311.4 106.8h4v4h-4zM312.6 107.5h4v4h-4zM313.8 108.1h4v4h-4zM314.9 108.7h4v4h-4zM316.1 109.3h4v4h-4zM317.3 109.8h4v4h-4zM318.5 110.3h4v4h-4zM319.6 110.8h4v4h-4zM320.8 111.3h4v4h-4zM322 111.7h4v4h-4zM323.2 112.1h4v4h-4zM324.3 112.5h4v4h-4zM325.5 112.8h4v4h-4zM326.7 113.2h4v4h-4zM327.9 113.5h4v4h-4zM329 113.8h4v4h-4zM330.2 114.2h4v4h-4zM331.4 114.5h4v4h-4zM332.5 114.8h4v4h-4zM333.7 115.1h4v4h-4zM334.9 115.4h4v4h-4zM336.1 115.7h4v4h-4zM337.2 116h4v4h-4zM338.4 116.2h4v4h-4zM339.6 116.5h4v4h-4zM340.8 116.8h4v4h-4zM341.9 117h4v4h-4zM343.1 117.3h4v4h-4zM344.3 117.6h4v4h-4zM345.5 117.8h4v4h-4zM346.6 118.1h4v4h-4zM347.8 118.3h4v4h-4zM349 118.6h4v4h-4zM350.2 118.9h4v4h-4zM351.3 119.1h4v4h-4zM352.5 119.4h4v4h-4zM353.7 119.6h4v4h-4zM354.9 119.9h4v4h-4zM356 120.1h4v4h-4zM357.2 120.4h4v4h-4zM358.4 120.6h4v4h-4zM359.5 120.8h4v4h-4zM360.7 121h4v4h-4zM361.9 121.3h4v4h-4zM363.1 121.5h4v4h-4zM364.2 121.7h4v4h-4zM365.4 121.9h4v4h-4z"/>
<path fill="none" stroke="#1b2759" stroke-opacity="0.42" stroke-width="0.6" d="M111.6 48.4h4.6v4.6h-4.6zM113.9 48.6h4.6v4.6h-4.6zM116.3 48.9h4.6v4.6h-4.6zM118.6 49.1h4.6v4.6h-4.6zM121 49.4h4.6v4.6h-4.6zM123.3 49.6h4.6v4.6h-4.6zM125.7 49.9h4.6v4.6h-4.6zM128 50.1h4.6v4.6h-4.6zM130.4 50.4h4.6v4.6h-4.6zM132.7 50.7h4.6v4.6h-4.6zM135.1 50.9h4.6v4.6h-4.6zM137.4 51.2h4.6v4.6h-4.6zM139.8 51.4h4.6v4.6h-4.6zM142.1 51.6h4.6v4.6h-4.6zM144.4 51.9h4.6v4.6h-4.6zM146.8 52.1h4.6v4.6h-4.6zM149.1 52.3h4.6v4.6h-4.6zM151.5 52.5h4.6v4.6h-4.6zM153.8 52.7h4.6v4.6h-4.6zM156.2 52.8h4.6v4.6h-4.6zM158.5 53h4.6v4.6h-4.6zM160.9 53.1h4.6v4.6h-4.6zM163.2 53.2h4.6v4.6h-4.6zM165.6 53.3h4.6v4.6h-4.6zM167.9 53.5h4.6v4.6h-4.6zM170.3 53.6h4.6v4.6h-4.6zM172.6 53.8h4.6v4.6h-4.6zM175 53.9h4.6v4.6h-4.6zM177.3 54h4.6v4.6h-4.6zM179.7 54.2h4.6v4.6h-4.6zM182 54.3h4.6v4.6h-4.6zM184.4 54.5h4.6v4.6h-4.6zM186.7 54.7h4.6v4.6h-4.6zM189.1 54.8h4.6v4.6h-4.6zM191.4 55h4.6v4.6h-4.6zM193.8 55.1h4.6v4.6h-4.6zM196.1 55.3h4.6v4.6h-4.6zM198.4 55.5h4.6v4.6h-4.6zM200.8 55.7h4.6v4.6h-4.6zM203.1 55.9h4.6v4.6h-4.6zM205.5 56.1h4.6v4.6h-4.6zM207.8 56.3h4.6v4.6h-4.6zM210.2 56.6h4.6v4.6h-4.6zM212.5 56.8h4.6v4.6h-4.6zM214.9 57.1h4.6v4.6h-4.6zM217.2 57.4h4.6v4.6h-4.6zM219.6 57.7h4.6v4.6h-4.6zM221.9 58h4.6v4.6h-4.6zM224.3 58.3h4.6v4.6h-4.6zM226.6 58.7h4.6v4.6h-4.6zM229 59.1h4.6v4.6h-4.6zM231.3 59.4h4.6v4.6h-4.6zM233.7 59.9h4.6v4.6h-4.6zM236 60.3h4.6v4.6h-4.6zM238.4 60.8h4.6v4.6h-4.6zM240.7 61.3h4.6v4.6h-4.6zM243.1 61.9h4.6v4.6h-4.6zM245.4 62.5h4.6v4.6h-4.6zM247.8 63.3h4.6v4.6h-4.6zM250.1 64.2h4.6v4.6h-4.6zM252.4 65.5h4.6v4.6h-4.6zM254.8 66.5h4.6v4.6h-4.6zM257.1 67.4h4.6v4.6h-4.6zM259.5 68.4h4.6v4.6h-4.6zM261.8 69.8h4.6v4.6h-4.6zM264.2 71.5h4.6v4.6h-4.6zM266.5 73.3h4.6v4.6h-4.6zM268.9 74.9h4.6v4.6h-4.6zM271.2 76.6h4.6v4.6h-4.6zM273.6 78.3h4.6v4.6h-4.6zM275.9 80h4.6v4.6h-4.6zM278.3 81.8h4.6v4.6h-4.6zM280.6 83.8h4.6v4.6h-4.6zM283 85.9h4.6v4.6h-4.6zM285.3 88.1h4.6v4.6h-4.6zM287.7 90.3h4.6v4.6h-4.6zM290 92.4h4.6v4.6h-4.6zM292.4 94.3h4.6v4.6h-4.6zM294.7 96.1h4.6v4.6h-4.6zM297.1 97.8h4.6v4.6h-4.6zM299.4 99.4h4.6v4.6h-4.6zM301.8 100.9h4.6v4.6h-4.6zM304.1 102.4h4.6v4.6h-4.6zM306.4 103.8h4.6v4.6h-4.6zM308.8 105.2h4.6v4.6h-4.6zM311.1 106.6h4.6v4.6h-4.6zM313.5 107.8h4.6v4.6h-4.6zM315.8 109h4.6v4.6h-4.6zM318.2 110.1h4.6v4.6h-4.6zM320.5 111h4.6v4.6h-4.6zM322.9 111.8h4.6v4.6h-4.6zM325.2 112.5h4.6v4.6h-4.6zM327.6 113.2h4.6v4.6h-4.6zM329.9 113.9h4.6v4.6h-4.6zM332.3 114.5h4.6v4.6h-4.6zM334.6 115.1h4.6v4.6h-4.6zM337 115.7h4.6v4.6h-4.6zM339.3 116.2h4.6v4.6h-4.6zM341.7 116.8h4.6v4.6h-4.6zM344 117.3h4.6v4.6h-4.6zM346.4 117.8h4.6v4.6h-4.6zM348.7 118.3h4.6v4.6h-4.6zM351.1 118.8h4.6v4.6h-4.6zM353.4 119.4h4.6v4.6h-4.6zM355.8 119.8h4.6v4.6h-4.6zM358.1 120.3h4.6v4.6h-4.6zM360.4 120.8h4.6v4.6h-4.6zM362.8 121.2h4.6v4.6h-4.6zM365.1 121.6h4.6v4.6h-4.6z"/>
<path d="M364.9 121.4h5v5h-5z" fill="#fff" stroke="#1b2759" stroke-width="0.95"/></g>
<g id="t-blue"><path fill="#2f55b8" stroke="#2f55b8" stroke-width="1.0" d="M111.2 60.4l2.7 -2.7l2.7 2.7l-2.7 2.7zM112.4 60.5l2.7 -2.7l2.7 2.7l-2.7 2.7zM113.5 60.6l2.7 -2.7l2.7 2.7l-2.7 2.7zM114.7 60.7l2.7 -2.7l2.7 2.7l-2.7 2.7zM115.9 60.8l2.7 -2.7l2.7 2.7l-2.7 2.7zM117 61l2.7 -2.7l2.7 2.7l-2.7 2.7zM118.2 61.1l2.7 -2.7l2.7 2.7l-2.7 2.7zM119.4 61.2l2.7 -2.7l2.7 2.7l-2.7 2.7zM120.6 61.3l2.7 -2.7l2.7 2.7l-2.7 2.7zM121.7 61.4l2.7 -2.7l2.7 2.7l-2.7 2.7zM122.9 61.5l2.7 -2.7l2.7 2.7l-2.7 2.7zM124.1 61.7l2.7 -2.7l2.7 2.7l-2.7 2.7zM125.3 61.8l2.7 -2.7l2.7 2.7l-2.7 2.7zM126.4 61.9l2.7 -2.7l2.7 2.7l-2.7 2.7zM127.6 62.1l2.7 -2.7l2.7 2.7l-2.7 2.7zM128.8 62.2l2.7 -2.7l2.7 2.7l-2.7 2.7zM130 62.4l2.7 -2.7l2.7 2.7l-2.7 2.7zM131.1 62.5l2.7 -2.7l2.7 2.7l-2.7 2.7zM132.3 62.7l2.7 -2.7l2.7 2.7l-2.7 2.7zM133.5 62.8l2.7 -2.7l2.7 2.7l-2.7 2.7zM134.7 63l2.7 -2.7l2.7 2.7l-2.7 2.7zM135.8 63.1l2.7 -2.7l2.7 2.7l-2.7 2.7zM137 63.3l2.7 -2.7l2.7 2.7l-2.7 2.7zM138.2 63.4l2.7 -2.7l2.7 2.7l-2.7 2.7zM139.4 63.6l2.7 -2.7l2.7 2.7l-2.7 2.7zM140.5 63.7l2.7 -2.7l2.7 2.7l-2.7 2.7zM141.7 63.8l2.7 -2.7l2.7 2.7l-2.7 2.7zM142.9 63.9l2.7 -2.7l2.7 2.7l-2.7 2.7zM144 64l2.7 -2.7l2.7 2.7l-2.7 2.7zM145.2 64.1l2.7 -2.7l2.7 2.7l-2.7 2.7zM146.4 64.2l2.7 -2.7l2.7 2.7l-2.7 2.7zM147.6 64.2l2.7 -2.7l2.7 2.7l-2.7 2.7zM148.7 64.3l2.7 -2.7l2.7 2.7l-2.7 2.7zM149.9 64.4l2.7 -2.7l2.7 2.7l-2.7 2.7zM151.1 64.5l2.7 -2.7l2.7 2.7l-2.7 2.7zM152.3 64.6l2.7 -2.7l2.7 2.7l-2.7 2.7zM153.4 64.6l2.7 -2.7l2.7 2.7l-2.7 2.7zM154.6 64.7l2.7 -2.7l2.7 2.7l-2.7 2.7zM155.8 64.8l2.7 -2.7l2.7 2.7l-2.7 2.7zM157 64.8l2.7 -2.7l2.7 2.7l-2.7 2.7zM158.1 64.9l2.7 -2.7l2.7 2.7l-2.7 2.7zM159.3 65l2.7 -2.7l2.7 2.7l-2.7 2.7zM160.5 65.1l2.7 -2.7l2.7 2.7l-2.7 2.7zM161.7 65.2l2.7 -2.7l2.7 2.7l-2.7 2.7zM162.8 65.2l2.7 -2.7l2.7 2.7l-2.7 2.7zM164 65.3l2.7 -2.7l2.7 2.7l-2.7 2.7zM165.2 65.4l2.7 -2.7l2.7 2.7l-2.7 2.7zM166.4 65.5l2.7 -2.7l2.7 2.7l-2.7 2.7zM167.5 65.6l2.7 -2.7l2.7 2.7l-2.7 2.7zM168.7 65.7l2.7 -2.7l2.7 2.7l-2.7 2.7zM169.9 65.8l2.7 -2.7l2.7 2.7l-2.7 2.7zM171 65.9l2.7 -2.7l2.7 2.7l-2.7 2.7zM172.2 66l2.7 -2.7l2.7 2.7l-2.7 2.7zM173.4 66.1l2.7 -2.7l2.7 2.7l-2.7 2.7zM174.6 66.3l2.7 -2.7l2.7 2.7l-2.7 2.7zM175.7 66.4l2.7 -2.7l2.7 2.7l-2.7 2.7zM176.9 66.5l2.7 -2.7l2.7 2.7l-2.7 2.7zM178.1 66.6l2.7 -2.7l2.7 2.7l-2.7 2.7zM179.3 66.7l2.7 -2.7l2.7 2.7l-2.7 2.7zM180.4 66.8l2.7 -2.7l2.7 2.7l-2.7 2.7zM181.6 67l2.7 -2.7l2.7 2.7l-2.7 2.7zM182.8 67.1l2.7 -2.7l2.7 2.7l-2.7 2.7zM184 67.2l2.7 -2.7l2.7 2.7l-2.7 2.7zM185.1 67.3l2.7 -2.7l2.7 2.7l-2.7 2.7zM186.3 67.5l2.7 -2.7l2.7 2.7l-2.7 2.7zM187.5 67.6l2.7 -2.7l2.7 2.7l-2.7 2.7zM188.7 67.7l2.7 -2.7l2.7 2.7l-2.7 2.7zM189.8 67.8l2.7 -2.7l2.7 2.7l-2.7 2.7zM191 68l2.7 -2.7l2.7 2.7l-2.7 2.7zM192.2 68.1l2.7 -2.7l2.7 2.7l-2.7 2.7zM193.4 68.2l2.7 -2.7l2.7 2.7l-2.7 2.7zM194.5 68.4l2.7 -2.7l2.7 2.7l-2.7 2.7zM195.7 68.5l2.7 -2.7l2.7 2.7l-2.7 2.7zM196.9 68.6l2.7 -2.7l2.7 2.7l-2.7 2.7zM198 68.7l2.7 -2.7l2.7 2.7l-2.7 2.7zM199.2 68.9l2.7 -2.7l2.7 2.7l-2.7 2.7zM200.4 69l2.7 -2.7l2.7 2.7l-2.7 2.7zM201.6 69.1l2.7 -2.7l2.7 2.7l-2.7 2.7zM202.7 69.3l2.7 -2.7l2.7 2.7l-2.7 2.7zM203.9 69.4l2.7 -2.7l2.7 2.7l-2.7 2.7zM205.1 69.5l2.7 -2.7l2.7 2.7l-2.7 2.7zM206.3 69.7l2.7 -2.7l2.7 2.7l-2.7 2.7zM207.4 69.8l2.7 -2.7l2.7 2.7l-2.7 2.7zM208.6 69.9l2.7 -2.7l2.7 2.7l-2.7 2.7zM209.8 70.1l2.7 -2.7l2.7 2.7l-2.7 2.7zM211 70.2l2.7 -2.7l2.7 2.7l-2.7 2.7zM212.1 70.3l2.7 -2.7l2.7 2.7l-2.7 2.7zM213.3 70.4l2.7 -2.7l2.7 2.7l-2.7 2.7zM214.5 70.6l2.7 -2.7l2.7 2.7l-2.7 2.7zM215.7 70.7l2.7 -2.7l2.7 2.7l-2.7 2.7zM216.8 70.9l2.7 -2.7l2.7 2.7l-2.7 2.7zM218 71l2.7 -2.7l2.7 2.7l-2.7 2.7zM219.2 71.2l2.7 -2.7l2.7 2.7l-2.7 2.7zM220.4 71.3l2.7 -2.7l2.7 2.7l-2.7 2.7zM221.5 71.5l2.7 -2.7l2.7 2.7l-2.7 2.7zM222.7 71.6l2.7 -2.7l2.7 2.7l-2.7 2.7zM223.9 71.8l2.7 -2.7l2.7 2.7l-2.7 2.7zM225 71.9l2.7 -2.7l2.7 2.7l-2.7 2.7zM226.2 72l2.7 -2.7l2.7 2.7l-2.7 2.7zM227.4 72.1l2.7 -2.7l2.7 2.7l-2.7 2.7zM228.6 72.2l2.7 -2.7l2.7 2.7l-2.7 2.7zM229.7 72.4l2.7 -2.7l2.7 2.7l-2.7 2.7zM230.9 72.5l2.7 -2.7l2.7 2.7l-2.7 2.7zM232.1 72.6l2.7 -2.7l2.7 2.7l-2.7 2.7zM233.3 72.7l2.7 -2.7l2.7 2.7l-2.7 2.7zM234.4 72.9l2.7 -2.7l2.7 2.7l-2.7 2.7zM235.6 73l2.7 -2.7l2.7 2.7l-2.7 2.7zM236.8 73.2l2.7 -2.7l2.7 2.7l-2.7 2.7zM238 73.4l2.7 -2.7l2.7 2.7l-2.7 2.7zM239.1 73.6l2.7 -2.7l2.7 2.7l-2.7 2.7zM240.3 73.8l2.7 -2.7l2.7 2.7l-2.7 2.7zM241.5 74l2.7 -2.7l2.7 2.7l-2.7 2.7zM242.7 74.3l2.7 -2.7l2.7 2.7l-2.7 2.7zM243.8 74.6l2.7 -2.7l2.7 2.7l-2.7 2.7zM245 74.9l2.7 -2.7l2.7 2.7l-2.7 2.7zM246.2 75.2l2.7 -2.7l2.7 2.7l-2.7 2.7zM247.4 75.6l2.7 -2.7l2.7 2.7l-2.7 2.7zM248.5 76l2.7 -2.7l2.7 2.7l-2.7 2.7zM249.7 76.6l2.7 -2.7l2.7 2.7l-2.7 2.7zM250.9 77.4l2.7 -2.7l2.7 2.7l-2.7 2.7zM252 78.2l2.7 -2.7l2.7 2.7l-2.7 2.7zM253.2 79l2.7 -2.7l2.7 2.7l-2.7 2.7zM254.4 79.7l2.7 -2.7l2.7 2.7l-2.7 2.7zM255.6 80.4l2.7 -2.7l2.7 2.7l-2.7 2.7zM256.7 81.1l2.7 -2.7l2.7 2.7l-2.7 2.7zM257.9 81.8l2.7 -2.7l2.7 2.7l-2.7 2.7zM259.1 82.5l2.7 -2.7l2.7 2.7l-2.7 2.7zM260.3 83.2l2.7 -2.7l2.7 2.7l-2.7 2.7zM261.4 84l2.7 -2.7l2.7 2.7l-2.7 2.7zM262.6 84.7l2.7 -2.7l2.7 2.7l-2.7 2.7zM263.8 85.5l2.7 -2.7l2.7 2.7l-2.7 2.7zM265 86.2l2.7 -2.7l2.7 2.7l-2.7 2.7zM266.1 87l2.7 -2.7l2.7 2.7l-2.7 2.7zM267.3 87.9l2.7 -2.7l2.7 2.7l-2.7 2.7zM268.5 88.8l2.7 -2.7l2.7 2.7l-2.7 2.7zM269.7 89.7l2.7 -2.7l2.7 2.7l-2.7 2.7zM270.8 90.6l2.7 -2.7l2.7 2.7l-2.7 2.7zM272 91.5l2.7 -2.7l2.7 2.7l-2.7 2.7zM273.2 92.5l2.7 -2.7l2.7 2.7l-2.7 2.7zM274.4 93.5l2.7 -2.7l2.7 2.7l-2.7 2.7zM275.5 94.5l2.7 -2.7l2.7 2.7l-2.7 2.7zM276.7 95.5l2.7 -2.7l2.7 2.7l-2.7 2.7zM277.9 96.4l2.7 -2.7l2.7 2.7l-2.7 2.7zM279 97.3l2.7 -2.7l2.7 2.7l-2.7 2.7zM280.2 98.2l2.7 -2.7l2.7 2.7l-2.7 2.7zM281.4 99.1l2.7 -2.7l2.7 2.7l-2.7 2.7zM282.6 99.9l2.7 -2.7l2.7 2.7l-2.7 2.7zM283.7 100.8l2.7 -2.7l2.7 2.7l-2.7 2.7zM284.9 101.6l2.7 -2.7l2.7 2.7l-2.7 2.7zM286.1 102.4l2.7 -2.7l2.7 2.7l-2.7 2.7zM287.3 103.2l2.7 -2.7l2.7 2.7l-2.7 2.7zM288.4 104l2.7 -2.7l2.7 2.7l-2.7 2.7zM289.6 104.7l2.7 -2.7l2.7 2.7l-2.7 2.7zM290.8 105.5l2.7 -2.7l2.7 2.7l-2.7 2.7zM292 106.2l2.7 -2.7l2.7 2.7l-2.7 2.7zM293.1 106.9l2.7 -2.7l2.7 2.7l-2.7 2.7zM294.3 107.6l2.7 -2.7l2.7 2.7l-2.7 2.7zM295.5 108.3l2.7 -2.7l2.7 2.7l-2.7 2.7zM296.7 109l2.7 -2.7l2.7 2.7l-2.7 2.7zM297.8 109.7l2.7 -2.7l2.7 2.7l-2.7 2.7zM299 110.3l2.7 -2.7l2.7 2.7l-2.7 2.7zM300.2 111l2.7 -2.7l2.7 2.7l-2.7 2.7zM301.4 111.6l2.7 -2.7l2.7 2.7l-2.7 2.7zM302.5 112.2l2.7 -2.7l2.7 2.7l-2.7 2.7zM303.7 112.8l2.7 -2.7l2.7 2.7l-2.7 2.7zM304.9 113.4l2.7 -2.7l2.7 2.7l-2.7 2.7zM306 114l2.7 -2.7l2.7 2.7l-2.7 2.7zM307.2 114.5l2.7 -2.7l2.7 2.7l-2.7 2.7zM308.4 115.1l2.7 -2.7l2.7 2.7l-2.7 2.7zM309.6 115.6l2.7 -2.7l2.7 2.7l-2.7 2.7zM310.7 116.2l2.7 -2.7l2.7 2.7l-2.7 2.7zM311.9 116.7l2.7 -2.7l2.7 2.7l-2.7 2.7zM313.1 117.2l2.7 -2.7l2.7 2.7l-2.7 2.7zM314.3 117.7l2.7 -2.7l2.7 2.7l-2.7 2.7zM315.4 118.1l2.7 -2.7l2.7 2.7l-2.7 2.7zM316.6 118.6l2.7 -2.7l2.7 2.7l-2.7 2.7zM317.8 118.9l2.7 -2.7l2.7 2.7l-2.7 2.7zM319 119.3l2.7 -2.7l2.7 2.7l-2.7 2.7zM320.1 119.6l2.7 -2.7l2.7 2.7l-2.7 2.7zM321.3 120l2.7 -2.7l2.7 2.7l-2.7 2.7zM322.5 120.3l2.7 -2.7l2.7 2.7l-2.7 2.7zM323.7 120.5l2.7 -2.7l2.7 2.7l-2.7 2.7zM324.8 120.8l2.7 -2.7l2.7 2.7l-2.7 2.7zM326 121.1l2.7 -2.7l2.7 2.7l-2.7 2.7zM327.2 121.3l2.7 -2.7l2.7 2.7l-2.7 2.7zM328.4 121.6l2.7 -2.7l2.7 2.7l-2.7 2.7zM329.5 121.8l2.7 -2.7l2.7 2.7l-2.7 2.7zM330.7 122.1l2.7 -2.7l2.7 2.7l-2.7 2.7zM331.9 122.3l2.7 -2.7l2.7 2.7l-2.7 2.7zM333 122.6l2.7 -2.7l2.7 2.7l-2.7 2.7zM334.2 122.8l2.7 -2.7l2.7 2.7l-2.7 2.7zM335.4 123.1l2.7 -2.7l2.7 2.7l-2.7 2.7zM336.6 123.4l2.7 -2.7l2.7 2.7l-2.7 2.7zM337.7 123.6l2.7 -2.7l2.7 2.7l-2.7 2.7zM338.9 123.9l2.7 -2.7l2.7 2.7l-2.7 2.7zM340.1 124.1l2.7 -2.7l2.7 2.7l-2.7 2.7zM341.3 124.4l2.7 -2.7l2.7 2.7l-2.7 2.7zM342.4 124.6l2.7 -2.7l2.7 2.7l-2.7 2.7zM343.6 124.9l2.7 -2.7l2.7 2.7l-2.7 2.7zM344.8 125.1l2.7 -2.7l2.7 2.7l-2.7 2.7zM346 125.3l2.7 -2.7l2.7 2.7l-2.7 2.7zM347.1 125.5l2.7 -2.7l2.7 2.7l-2.7 2.7zM348.3 125.7l2.7 -2.7l2.7 2.7l-2.7 2.7zM349.5 125.9l2.7 -2.7l2.7 2.7l-2.7 2.7zM350.7 126.1l2.7 -2.7l2.7 2.7l-2.7 2.7zM351.8 126.3l2.7 -2.7l2.7 2.7l-2.7 2.7zM353 126.5l2.7 -2.7l2.7 2.7l-2.7 2.7zM354.2 126.6l2.7 -2.7l2.7 2.7l-2.7 2.7zM355.4 126.8l2.7 -2.7l2.7 2.7l-2.7 2.7zM356.5 127l2.7 -2.7l2.7 2.7l-2.7 2.7zM357.7 127.1l2.7 -2.7l2.7 2.7l-2.7 2.7zM358.9 127.2l2.7 -2.7l2.7 2.7l-2.7 2.7zM360 127.4l2.7 -2.7l2.7 2.7l-2.7 2.7zM361.2 127.5l2.7 -2.7l2.7 2.7l-2.7 2.7zM362.4 127.6l2.7 -2.7l2.7 2.7l-2.7 2.7zM363.6 127.7l2.7 -2.7l2.7 2.7l-2.7 2.7zM364.7 127.8l2.7 -2.7l2.7 2.7l-2.7 2.7z"/>
<path fill="#7a97e0" d="M111.8 60.4l2.1 -2.1l2.1 2.1l-2.1 2.1zM113 60.5l2.1 -2.1l2.1 2.1l-2.1 2.1zM114.1 60.6l2.1 -2.1l2.1 2.1l-2.1 2.1zM115.3 60.7l2.1 -2.1l2.1 2.1l-2.1 2.1zM116.5 60.8l2.1 -2.1l2.1 2.1l-2.1 2.1zM117.6 61l2.1 -2.1l2.1 2.1l-2.1 2.1zM118.8 61.1l2.1 -2.1l2.1 2.1l-2.1 2.1zM120 61.2l2.1 -2.1l2.1 2.1l-2.1 2.1zM121.2 61.3l2.1 -2.1l2.1 2.1l-2.1 2.1zM122.3 61.4l2.1 -2.1l2.1 2.1l-2.1 2.1zM123.5 61.5l2.1 -2.1l2.1 2.1l-2.1 2.1zM124.7 61.7l2.1 -2.1l2.1 2.1l-2.1 2.1zM125.9 61.8l2.1 -2.1l2.1 2.1l-2.1 2.1zM127 61.9l2.1 -2.1l2.1 2.1l-2.1 2.1zM128.2 62.1l2.1 -2.1l2.1 2.1l-2.1 2.1zM129.4 62.2l2.1 -2.1l2.1 2.1l-2.1 2.1zM130.6 62.4l2.1 -2.1l2.1 2.1l-2.1 2.1zM131.7 62.5l2.1 -2.1l2.1 2.1l-2.1 2.1zM132.9 62.7l2.1 -2.1l2.1 2.1l-2.1 2.1zM134.1 62.8l2.1 -2.1l2.1 2.1l-2.1 2.1zM135.3 63l2.1 -2.1l2.1 2.1l-2.1 2.1zM136.4 63.1l2.1 -2.1l2.1 2.1l-2.1 2.1zM137.6 63.3l2.1 -2.1l2.1 2.1l-2.1 2.1zM138.8 63.4l2.1 -2.1l2.1 2.1l-2.1 2.1zM140 63.6l2.1 -2.1l2.1 2.1l-2.1 2.1zM141.1 63.7l2.1 -2.1l2.1 2.1l-2.1 2.1zM142.3 63.8l2.1 -2.1l2.1 2.1l-2.1 2.1zM143.5 63.9l2.1 -2.1l2.1 2.1l-2.1 2.1zM144.6 64l2.1 -2.1l2.1 2.1l-2.1 2.1zM145.8 64.1l2.1 -2.1l2.1 2.1l-2.1 2.1zM147 64.2l2.1 -2.1l2.1 2.1l-2.1 2.1zM148.2 64.2l2.1 -2.1l2.1 2.1l-2.1 2.1zM149.3 64.3l2.1 -2.1l2.1 2.1l-2.1 2.1zM150.5 64.4l2.1 -2.1l2.1 2.1l-2.1 2.1zM151.7 64.5l2.1 -2.1l2.1 2.1l-2.1 2.1zM152.9 64.6l2.1 -2.1l2.1 2.1l-2.1 2.1zM154 64.6l2.1 -2.1l2.1 2.1l-2.1 2.1zM155.2 64.7l2.1 -2.1l2.1 2.1l-2.1 2.1zM156.4 64.8l2.1 -2.1l2.1 2.1l-2.1 2.1zM157.6 64.8l2.1 -2.1l2.1 2.1l-2.1 2.1zM158.7 64.9l2.1 -2.1l2.1 2.1l-2.1 2.1zM159.9 65l2.1 -2.1l2.1 2.1l-2.1 2.1zM161.1 65.1l2.1 -2.1l2.1 2.1l-2.1 2.1zM162.3 65.2l2.1 -2.1l2.1 2.1l-2.1 2.1zM163.4 65.2l2.1 -2.1l2.1 2.1l-2.1 2.1zM164.6 65.3l2.1 -2.1l2.1 2.1l-2.1 2.1zM165.8 65.4l2.1 -2.1l2.1 2.1l-2.1 2.1zM167 65.5l2.1 -2.1l2.1 2.1l-2.1 2.1zM168.1 65.6l2.1 -2.1l2.1 2.1l-2.1 2.1zM169.3 65.7l2.1 -2.1l2.1 2.1l-2.1 2.1zM170.5 65.8l2.1 -2.1l2.1 2.1l-2.1 2.1zM171.6 65.9l2.1 -2.1l2.1 2.1l-2.1 2.1zM172.8 66l2.1 -2.1l2.1 2.1l-2.1 2.1zM174 66.1l2.1 -2.1l2.1 2.1l-2.1 2.1zM175.2 66.3l2.1 -2.1l2.1 2.1l-2.1 2.1zM176.3 66.4l2.1 -2.1l2.1 2.1l-2.1 2.1zM177.5 66.5l2.1 -2.1l2.1 2.1l-2.1 2.1zM178.7 66.6l2.1 -2.1l2.1 2.1l-2.1 2.1zM179.9 66.7l2.1 -2.1l2.1 2.1l-2.1 2.1zM181 66.8l2.1 -2.1l2.1 2.1l-2.1 2.1zM182.2 67l2.1 -2.1l2.1 2.1l-2.1 2.1zM183.4 67.1l2.1 -2.1l2.1 2.1l-2.1 2.1zM184.6 67.2l2.1 -2.1l2.1 2.1l-2.1 2.1zM185.7 67.3l2.1 -2.1l2.1 2.1l-2.1 2.1zM186.9 67.5l2.1 -2.1l2.1 2.1l-2.1 2.1zM188.1 67.6l2.1 -2.1l2.1 2.1l-2.1 2.1zM189.3 67.7l2.1 -2.1l2.1 2.1l-2.1 2.1zM190.4 67.8l2.1 -2.1l2.1 2.1l-2.1 2.1zM191.6 68l2.1 -2.1l2.1 2.1l-2.1 2.1zM192.8 68.1l2.1 -2.1l2.1 2.1l-2.1 2.1zM194 68.2l2.1 -2.1l2.1 2.1l-2.1 2.1zM195.1 68.4l2.1 -2.1l2.1 2.1l-2.1 2.1zM196.3 68.5l2.1 -2.1l2.1 2.1l-2.1 2.1zM197.5 68.6l2.1 -2.1l2.1 2.1l-2.1 2.1zM198.6 68.7l2.1 -2.1l2.1 2.1l-2.1 2.1zM199.8 68.9l2.1 -2.1l2.1 2.1l-2.1 2.1zM201 69l2.1 -2.1l2.1 2.1l-2.1 2.1zM202.2 69.1l2.1 -2.1l2.1 2.1l-2.1 2.1zM203.3 69.3l2.1 -2.1l2.1 2.1l-2.1 2.1zM204.5 69.4l2.1 -2.1l2.1 2.1l-2.1 2.1zM205.7 69.5l2.1 -2.1l2.1 2.1l-2.1 2.1zM206.9 69.7l2.1 -2.1l2.1 2.1l-2.1 2.1zM208 69.8l2.1 -2.1l2.1 2.1l-2.1 2.1zM209.2 69.9l2.1 -2.1l2.1 2.1l-2.1 2.1zM210.4 70.1l2.1 -2.1l2.1 2.1l-2.1 2.1zM211.6 70.2l2.1 -2.1l2.1 2.1l-2.1 2.1zM212.7 70.3l2.1 -2.1l2.1 2.1l-2.1 2.1zM213.9 70.4l2.1 -2.1l2.1 2.1l-2.1 2.1zM215.1 70.6l2.1 -2.1l2.1 2.1l-2.1 2.1zM216.3 70.7l2.1 -2.1l2.1 2.1l-2.1 2.1zM217.4 70.9l2.1 -2.1l2.1 2.1l-2.1 2.1zM218.6 71l2.1 -2.1l2.1 2.1l-2.1 2.1zM219.8 71.2l2.1 -2.1l2.1 2.1l-2.1 2.1zM221 71.3l2.1 -2.1l2.1 2.1l-2.1 2.1zM222.1 71.5l2.1 -2.1l2.1 2.1l-2.1 2.1zM223.3 71.6l2.1 -2.1l2.1 2.1l-2.1 2.1zM224.5 71.8l2.1 -2.1l2.1 2.1l-2.1 2.1zM225.6 71.9l2.1 -2.1l2.1 2.1l-2.1 2.1zM226.8 72l2.1 -2.1l2.1 2.1l-2.1 2.1zM228 72.1l2.1 -2.1l2.1 2.1l-2.1 2.1zM229.2 72.2l2.1 -2.1l2.1 2.1l-2.1 2.1zM230.3 72.4l2.1 -2.1l2.1 2.1l-2.1 2.1zM231.5 72.5l2.1 -2.1l2.1 2.1l-2.1 2.1zM232.7 72.6l2.1 -2.1l2.1 2.1l-2.1 2.1zM233.9 72.7l2.1 -2.1l2.1 2.1l-2.1 2.1zM235 72.9l2.1 -2.1l2.1 2.1l-2.1 2.1zM236.2 73l2.1 -2.1l2.1 2.1l-2.1 2.1zM237.4 73.2l2.1 -2.1l2.1 2.1l-2.1 2.1zM238.6 73.4l2.1 -2.1l2.1 2.1l-2.1 2.1zM239.7 73.6l2.1 -2.1l2.1 2.1l-2.1 2.1zM240.9 73.8l2.1 -2.1l2.1 2.1l-2.1 2.1zM242.1 74l2.1 -2.1l2.1 2.1l-2.1 2.1zM243.3 74.3l2.1 -2.1l2.1 2.1l-2.1 2.1zM244.4 74.6l2.1 -2.1l2.1 2.1l-2.1 2.1zM245.6 74.9l2.1 -2.1l2.1 2.1l-2.1 2.1zM246.8 75.2l2.1 -2.1l2.1 2.1l-2.1 2.1zM248 75.6l2.1 -2.1l2.1 2.1l-2.1 2.1zM249.1 76l2.1 -2.1l2.1 2.1l-2.1 2.1zM250.3 76.6l2.1 -2.1l2.1 2.1l-2.1 2.1zM251.5 77.4l2.1 -2.1l2.1 2.1l-2.1 2.1zM252.6 78.2l2.1 -2.1l2.1 2.1l-2.1 2.1zM253.8 79l2.1 -2.1l2.1 2.1l-2.1 2.1zM255 79.7l2.1 -2.1l2.1 2.1l-2.1 2.1zM256.2 80.4l2.1 -2.1l2.1 2.1l-2.1 2.1zM257.3 81.1l2.1 -2.1l2.1 2.1l-2.1 2.1zM258.5 81.8l2.1 -2.1l2.1 2.1l-2.1 2.1zM259.7 82.5l2.1 -2.1l2.1 2.1l-2.1 2.1zM260.9 83.2l2.1 -2.1l2.1 2.1l-2.1 2.1zM262 84l2.1 -2.1l2.1 2.1l-2.1 2.1zM263.2 84.7l2.1 -2.1l2.1 2.1l-2.1 2.1zM264.4 85.5l2.1 -2.1l2.1 2.1l-2.1 2.1zM265.6 86.2l2.1 -2.1l2.1 2.1l-2.1 2.1zM266.7 87l2.1 -2.1l2.1 2.1l-2.1 2.1zM267.9 87.9l2.1 -2.1l2.1 2.1l-2.1 2.1zM269.1 88.8l2.1 -2.1l2.1 2.1l-2.1 2.1zM270.3 89.7l2.1 -2.1l2.1 2.1l-2.1 2.1zM271.4 90.6l2.1 -2.1l2.1 2.1l-2.1 2.1zM272.6 91.5l2.1 -2.1l2.1 2.1l-2.1 2.1zM273.8 92.5l2.1 -2.1l2.1 2.1l-2.1 2.1zM275 93.5l2.1 -2.1l2.1 2.1l-2.1 2.1zM276.1 94.5l2.1 -2.1l2.1 2.1l-2.1 2.1zM277.3 95.5l2.1 -2.1l2.1 2.1l-2.1 2.1zM278.5 96.4l2.1 -2.1l2.1 2.1l-2.1 2.1zM279.6 97.3l2.1 -2.1l2.1 2.1l-2.1 2.1zM280.8 98.2l2.1 -2.1l2.1 2.1l-2.1 2.1zM282 99.1l2.1 -2.1l2.1 2.1l-2.1 2.1zM283.2 99.9l2.1 -2.1l2.1 2.1l-2.1 2.1zM284.3 100.8l2.1 -2.1l2.1 2.1l-2.1 2.1zM285.5 101.6l2.1 -2.1l2.1 2.1l-2.1 2.1zM286.7 102.4l2.1 -2.1l2.1 2.1l-2.1 2.1zM287.9 103.2l2.1 -2.1l2.1 2.1l-2.1 2.1zM289 104l2.1 -2.1l2.1 2.1l-2.1 2.1zM290.2 104.7l2.1 -2.1l2.1 2.1l-2.1 2.1zM291.4 105.5l2.1 -2.1l2.1 2.1l-2.1 2.1zM292.6 106.2l2.1 -2.1l2.1 2.1l-2.1 2.1zM293.7 106.9l2.1 -2.1l2.1 2.1l-2.1 2.1zM294.9 107.6l2.1 -2.1l2.1 2.1l-2.1 2.1zM296.1 108.3l2.1 -2.1l2.1 2.1l-2.1 2.1zM297.3 109l2.1 -2.1l2.1 2.1l-2.1 2.1zM298.4 109.7l2.1 -2.1l2.1 2.1l-2.1 2.1zM299.6 110.3l2.1 -2.1l2.1 2.1l-2.1 2.1zM300.8 111l2.1 -2.1l2.1 2.1l-2.1 2.1zM302 111.6l2.1 -2.1l2.1 2.1l-2.1 2.1zM303.1 112.2l2.1 -2.1l2.1 2.1l-2.1 2.1zM304.3 112.8l2.1 -2.1l2.1 2.1l-2.1 2.1zM305.5 113.4l2.1 -2.1l2.1 2.1l-2.1 2.1zM306.6 114l2.1 -2.1l2.1 2.1l-2.1 2.1zM307.8 114.5l2.1 -2.1l2.1 2.1l-2.1 2.1zM309 115.1l2.1 -2.1l2.1 2.1l-2.1 2.1zM310.2 115.6l2.1 -2.1l2.1 2.1l-2.1 2.1zM311.3 116.2l2.1 -2.1l2.1 2.1l-2.1 2.1zM312.5 116.7l2.1 -2.1l2.1 2.1l-2.1 2.1zM313.7 117.2l2.1 -2.1l2.1 2.1l-2.1 2.1zM314.9 117.7l2.1 -2.1l2.1 2.1l-2.1 2.1zM316 118.1l2.1 -2.1l2.1 2.1l-2.1 2.1zM317.2 118.6l2.1 -2.1l2.1 2.1l-2.1 2.1zM318.4 118.9l2.1 -2.1l2.1 2.1l-2.1 2.1zM319.6 119.3l2.1 -2.1l2.1 2.1l-2.1 2.1zM320.7 119.6l2.1 -2.1l2.1 2.1l-2.1 2.1zM321.9 120l2.1 -2.1l2.1 2.1l-2.1 2.1zM323.1 120.3l2.1 -2.1l2.1 2.1l-2.1 2.1zM324.3 120.5l2.1 -2.1l2.1 2.1l-2.1 2.1zM325.4 120.8l2.1 -2.1l2.1 2.1l-2.1 2.1zM326.6 121.1l2.1 -2.1l2.1 2.1l-2.1 2.1zM327.8 121.3l2.1 -2.1l2.1 2.1l-2.1 2.1zM329 121.6l2.1 -2.1l2.1 2.1l-2.1 2.1zM330.1 121.8l2.1 -2.1l2.1 2.1l-2.1 2.1zM331.3 122.1l2.1 -2.1l2.1 2.1l-2.1 2.1zM332.5 122.3l2.1 -2.1l2.1 2.1l-2.1 2.1zM333.6 122.6l2.1 -2.1l2.1 2.1l-2.1 2.1zM334.8 122.8l2.1 -2.1l2.1 2.1l-2.1 2.1zM336 123.1l2.1 -2.1l2.1 2.1l-2.1 2.1zM337.2 123.4l2.1 -2.1l2.1 2.1l-2.1 2.1zM338.3 123.6l2.1 -2.1l2.1 2.1l-2.1 2.1zM339.5 123.9l2.1 -2.1l2.1 2.1l-2.1 2.1zM340.7 124.1l2.1 -2.1l2.1 2.1l-2.1 2.1zM341.9 124.4l2.1 -2.1l2.1 2.1l-2.1 2.1zM343 124.6l2.1 -2.1l2.1 2.1l-2.1 2.1zM344.2 124.9l2.1 -2.1l2.1 2.1l-2.1 2.1zM345.4 125.1l2.1 -2.1l2.1 2.1l-2.1 2.1zM346.6 125.3l2.1 -2.1l2.1 2.1l-2.1 2.1zM347.7 125.5l2.1 -2.1l2.1 2.1l-2.1 2.1zM348.9 125.7l2.1 -2.1l2.1 2.1l-2.1 2.1zM350.1 125.9l2.1 -2.1l2.1 2.1l-2.1 2.1zM351.3 126.1l2.1 -2.1l2.1 2.1l-2.1 2.1zM352.4 126.3l2.1 -2.1l2.1 2.1l-2.1 2.1zM353.6 126.5l2.1 -2.1l2.1 2.1l-2.1 2.1zM354.8 126.6l2.1 -2.1l2.1 2.1l-2.1 2.1zM356 126.8l2.1 -2.1l2.1 2.1l-2.1 2.1zM357.1 127l2.1 -2.1l2.1 2.1l-2.1 2.1zM358.3 127.1l2.1 -2.1l2.1 2.1l-2.1 2.1zM359.5 127.2l2.1 -2.1l2.1 2.1l-2.1 2.1zM360.6 127.4l2.1 -2.1l2.1 2.1l-2.1 2.1zM361.8 127.5l2.1 -2.1l2.1 2.1l-2.1 2.1zM363 127.6l2.1 -2.1l2.1 2.1l-2.1 2.1zM364.2 127.7l2.1 -2.1l2.1 2.1l-2.1 2.1zM365.3 127.8l2.1 -2.1l2.1 2.1l-2.1 2.1z"/>
<path fill="none" stroke="#2f55b8" stroke-opacity="0.5" stroke-width="0.6" d="M111.4 60.4l2.5 -2.5l2.5 2.5l-2.5 2.5zM113.8 60.6l2.5 -2.5l2.5 2.5l-2.5 2.5zM116.1 60.8l2.5 -2.5l2.5 2.5l-2.5 2.5zM118.5 61.1l2.5 -2.5l2.5 2.5l-2.5 2.5zM120.8 61.3l2.5 -2.5l2.5 2.5l-2.5 2.5zM123.2 61.5l2.5 -2.5l2.5 2.5l-2.5 2.5zM125.5 61.8l2.5 -2.5l2.5 2.5l-2.5 2.5zM127.9 62.1l2.5 -2.5l2.5 2.5l-2.5 2.5zM130.2 62.4l2.5 -2.5l2.5 2.5l-2.5 2.5zM132.6 62.7l2.5 -2.5l2.5 2.5l-2.5 2.5zM134.9 63l2.5 -2.5l2.5 2.5l-2.5 2.5zM137.2 63.3l2.5 -2.5l2.5 2.5l-2.5 2.5zM139.6 63.6l2.5 -2.5l2.5 2.5l-2.5 2.5zM141.9 63.8l2.5 -2.5l2.5 2.5l-2.5 2.5zM144.3 64l2.5 -2.5l2.5 2.5l-2.5 2.5zM146.6 64.2l2.5 -2.5l2.5 2.5l-2.5 2.5zM149 64.3l2.5 -2.5l2.5 2.5l-2.5 2.5zM151.3 64.5l2.5 -2.5l2.5 2.5l-2.5 2.5zM153.7 64.6l2.5 -2.5l2.5 2.5l-2.5 2.5zM156 64.8l2.5 -2.5l2.5 2.5l-2.5 2.5zM158.4 64.9l2.5 -2.5l2.5 2.5l-2.5 2.5zM160.7 65.1l2.5 -2.5l2.5 2.5l-2.5 2.5zM163.1 65.2l2.5 -2.5l2.5 2.5l-2.5 2.5zM165.4 65.4l2.5 -2.5l2.5 2.5l-2.5 2.5zM167.8 65.6l2.5 -2.5l2.5 2.5l-2.5 2.5zM170.1 65.8l2.5 -2.5l2.5 2.5l-2.5 2.5zM172.5 66l2.5 -2.5l2.5 2.5l-2.5 2.5zM174.8 66.3l2.5 -2.5l2.5 2.5l-2.5 2.5zM177.2 66.5l2.5 -2.5l2.5 2.5l-2.5 2.5zM179.5 66.7l2.5 -2.5l2.5 2.5l-2.5 2.5zM181.9 67l2.5 -2.5l2.5 2.5l-2.5 2.5zM184.2 67.2l2.5 -2.5l2.5 2.5l-2.5 2.5zM186.5 67.5l2.5 -2.5l2.5 2.5l-2.5 2.5zM188.9 67.7l2.5 -2.5l2.5 2.5l-2.5 2.5zM191.2 68l2.5 -2.5l2.5 2.5l-2.5 2.5zM193.6 68.2l2.5 -2.5l2.5 2.5l-2.5 2.5zM195.9 68.5l2.5 -2.5l2.5 2.5l-2.5 2.5zM198.3 68.7l2.5 -2.5l2.5 2.5l-2.5 2.5zM200.6 69l2.5 -2.5l2.5 2.5l-2.5 2.5zM203 69.3l2.5 -2.5l2.5 2.5l-2.5 2.5zM205.3 69.5l2.5 -2.5l2.5 2.5l-2.5 2.5zM207.7 69.8l2.5 -2.5l2.5 2.5l-2.5 2.5zM210 70.1l2.5 -2.5l2.5 2.5l-2.5 2.5zM212.4 70.3l2.5 -2.5l2.5 2.5l-2.5 2.5zM214.7 70.6l2.5 -2.5l2.5 2.5l-2.5 2.5zM217.1 70.9l2.5 -2.5l2.5 2.5l-2.5 2.5zM219.4 71.2l2.5 -2.5l2.5 2.5l-2.5 2.5zM221.8 71.5l2.5 -2.5l2.5 2.5l-2.5 2.5zM224.1 71.8l2.5 -2.5l2.5 2.5l-2.5 2.5zM226.5 72l2.5 -2.5l2.5 2.5l-2.5 2.5zM228.8 72.2l2.5 -2.5l2.5 2.5l-2.5 2.5zM231.2 72.5l2.5 -2.5l2.5 2.5l-2.5 2.5zM233.5 72.7l2.5 -2.5l2.5 2.5l-2.5 2.5zM235.9 73l2.5 -2.5l2.5 2.5l-2.5 2.5zM238.2 73.4l2.5 -2.5l2.5 2.5l-2.5 2.5zM240.5 73.8l2.5 -2.5l2.5 2.5l-2.5 2.5zM242.9 74.3l2.5 -2.5l2.5 2.5l-2.5 2.5zM245.2 74.9l2.5 -2.5l2.5 2.5l-2.5 2.5zM247.6 75.6l2.5 -2.5l2.5 2.5l-2.5 2.5zM249.9 76.6l2.5 -2.5l2.5 2.5l-2.5 2.5zM252.3 78.2l2.5 -2.5l2.5 2.5l-2.5 2.5zM254.6 79.7l2.5 -2.5l2.5 2.5l-2.5 2.5zM257 81.1l2.5 -2.5l2.5 2.5l-2.5 2.5zM259.3 82.5l2.5 -2.5l2.5 2.5l-2.5 2.5zM261.7 84l2.5 -2.5l2.5 2.5l-2.5 2.5zM264 85.5l2.5 -2.5l2.5 2.5l-2.5 2.5zM266.4 87l2.5 -2.5l2.5 2.5l-2.5 2.5zM268.7 88.8l2.5 -2.5l2.5 2.5l-2.5 2.5zM271.1 90.6l2.5 -2.5l2.5 2.5l-2.5 2.5zM273.4 92.5l2.5 -2.5l2.5 2.5l-2.5 2.5zM275.8 94.5l2.5 -2.5l2.5 2.5l-2.5 2.5zM278.1 96.4l2.5 -2.5l2.5 2.5l-2.5 2.5zM280.5 98.2l2.5 -2.5l2.5 2.5l-2.5 2.5zM282.8 99.9l2.5 -2.5l2.5 2.5l-2.5 2.5zM285.2 101.6l2.5 -2.5l2.5 2.5l-2.5 2.5zM287.5 103.2l2.5 -2.5l2.5 2.5l-2.5 2.5zM289.9 104.7l2.5 -2.5l2.5 2.5l-2.5 2.5zM292.2 106.2l2.5 -2.5l2.5 2.5l-2.5 2.5zM294.5 107.6l2.5 -2.5l2.5 2.5l-2.5 2.5zM296.9 109l2.5 -2.5l2.5 2.5l-2.5 2.5zM299.2 110.3l2.5 -2.5l2.5 2.5l-2.5 2.5zM301.6 111.6l2.5 -2.5l2.5 2.5l-2.5 2.5zM303.9 112.8l2.5 -2.5l2.5 2.5l-2.5 2.5zM306.3 114l2.5 -2.5l2.5 2.5l-2.5 2.5zM308.6 115.1l2.5 -2.5l2.5 2.5l-2.5 2.5zM311 116.2l2.5 -2.5l2.5 2.5l-2.5 2.5zM313.3 117.2l2.5 -2.5l2.5 2.5l-2.5 2.5zM315.7 118.1l2.5 -2.5l2.5 2.5l-2.5 2.5zM318 118.9l2.5 -2.5l2.5 2.5l-2.5 2.5zM320.4 119.6l2.5 -2.5l2.5 2.5l-2.5 2.5zM322.7 120.3l2.5 -2.5l2.5 2.5l-2.5 2.5zM325.1 120.8l2.5 -2.5l2.5 2.5l-2.5 2.5zM327.4 121.3l2.5 -2.5l2.5 2.5l-2.5 2.5zM329.8 121.8l2.5 -2.5l2.5 2.5l-2.5 2.5zM332.1 122.3l2.5 -2.5l2.5 2.5l-2.5 2.5zM334.5 122.8l2.5 -2.5l2.5 2.5l-2.5 2.5zM336.8 123.4l2.5 -2.5l2.5 2.5l-2.5 2.5zM339.2 123.9l2.5 -2.5l2.5 2.5l-2.5 2.5zM341.5 124.4l2.5 -2.5l2.5 2.5l-2.5 2.5zM343.9 124.9l2.5 -2.5l2.5 2.5l-2.5 2.5zM346.2 125.3l2.5 -2.5l2.5 2.5l-2.5 2.5zM348.5 125.7l2.5 -2.5l2.5 2.5l-2.5 2.5zM350.9 126.1l2.5 -2.5l2.5 2.5l-2.5 2.5zM353.2 126.5l2.5 -2.5l2.5 2.5l-2.5 2.5zM355.6 126.8l2.5 -2.5l2.5 2.5l-2.5 2.5zM357.9 127.1l2.5 -2.5l2.5 2.5l-2.5 2.5zM360.3 127.4l2.5 -2.5l2.5 2.5l-2.5 2.5zM362.6 127.6l2.5 -2.5l2.5 2.5l-2.5 2.5zM365 127.8l2.5 -2.5l2.5 2.5l-2.5 2.5z"/>
<path d="M364.7 127.8l2.7 -2.7l2.7 2.7l-2.7 2.7z" fill="#fff" stroke="#2f55b8" stroke-width="1.0"/></g>
<g id="t-lb"><path fill="#2ea3e6" stroke="#2ea3e6" stroke-width="1.0" d="M111.4 88.6l2.5 -4.7l2.5 4.7zM112.5 88.8l2.5 -4.7l2.5 4.7zM113.7 89l2.5 -4.7l2.5 4.7zM114.9 89.1l2.5 -4.7l2.5 4.7zM116.1 89.3l2.5 -4.7l2.5 4.7zM117.2 89.5l2.5 -4.7l2.5 4.7zM118.4 89.6l2.5 -4.7l2.5 4.7zM119.6 89.8l2.5 -4.7l2.5 4.7zM120.8 90l2.5 -4.7l2.5 4.7zM121.9 90.1l2.5 -4.7l2.5 4.7zM123.1 90.3l2.5 -4.7l2.5 4.7zM124.3 90.4l2.5 -4.7l2.5 4.7zM125.4 90.5l2.5 -4.7l2.5 4.7zM126.6 90.7l2.5 -4.7l2.5 4.7zM127.8 90.8l2.5 -4.7l2.5 4.7zM129 91l2.5 -4.7l2.5 4.7zM130.1 91.1l2.5 -4.7l2.5 4.7zM131.3 91.2l2.5 -4.7l2.5 4.7zM132.5 91.4l2.5 -4.7l2.5 4.7zM133.7 91.5l2.5 -4.7l2.5 4.7zM134.8 91.6l2.5 -4.7l2.5 4.7zM136 91.8l2.5 -4.7l2.5 4.7zM137.2 91.9l2.5 -4.7l2.5 4.7zM138.4 92l2.5 -4.7l2.5 4.7zM139.5 92.1l2.5 -4.7l2.5 4.7zM140.7 92.3l2.5 -4.7l2.5 4.7zM141.9 92.4l2.5 -4.7l2.5 4.7zM143.1 92.5l2.5 -4.7l2.5 4.7zM144.2 92.6l2.5 -4.7l2.5 4.7zM145.4 92.7l2.5 -4.7l2.5 4.7zM146.6 92.8l2.5 -4.7l2.5 4.7zM147.8 92.9l2.5 -4.7l2.5 4.7zM148.9 93l2.5 -4.7l2.5 4.7zM150.1 93.1l2.5 -4.7l2.5 4.7zM151.3 93.2l2.5 -4.7l2.5 4.7zM152.4 93.3l2.5 -4.7l2.5 4.7zM153.6 93.4l2.5 -4.7l2.5 4.7zM154.8 93.5l2.5 -4.7l2.5 4.7zM156 93.6l2.5 -4.7l2.5 4.7zM157.1 93.7l2.5 -4.7l2.5 4.7zM158.3 93.8l2.5 -4.7l2.5 4.7zM159.5 93.9l2.5 -4.7l2.5 4.7zM160.7 94l2.5 -4.7l2.5 4.7zM161.8 94l2.5 -4.7l2.5 4.7zM163 94.1l2.5 -4.7l2.5 4.7zM164.2 94.2l2.5 -4.7l2.5 4.7zM165.4 94.3l2.5 -4.7l2.5 4.7zM166.5 94.4l2.5 -4.7l2.5 4.7zM167.7 94.4l2.5 -4.7l2.5 4.7zM168.9 94.5l2.5 -4.7l2.5 4.7zM170.1 94.6l2.5 -4.7l2.5 4.7zM171.2 94.7l2.5 -4.7l2.5 4.7zM172.4 94.8l2.5 -4.7l2.5 4.7zM173.6 94.8l2.5 -4.7l2.5 4.7zM174.8 94.9l2.5 -4.7l2.5 4.7zM175.9 95l2.5 -4.7l2.5 4.7zM177.1 95.1l2.5 -4.7l2.5 4.7zM178.3 95.2l2.5 -4.7l2.5 4.7zM179.4 95.2l2.5 -4.7l2.5 4.7zM180.6 95.3l2.5 -4.7l2.5 4.7zM181.8 95.4l2.5 -4.7l2.5 4.7zM183 95.5l2.5 -4.7l2.5 4.7zM184.1 95.5l2.5 -4.7l2.5 4.7zM185.3 95.6l2.5 -4.7l2.5 4.7zM186.5 95.7l2.5 -4.7l2.5 4.7zM187.7 95.8l2.5 -4.7l2.5 4.7zM188.8 95.8l2.5 -4.7l2.5 4.7zM190 95.9l2.5 -4.7l2.5 4.7zM191.2 96l2.5 -4.7l2.5 4.7zM192.4 96.1l2.5 -4.7l2.5 4.7zM193.5 96.1l2.5 -4.7l2.5 4.7zM194.7 96.2l2.5 -4.7l2.5 4.7zM195.9 96.3l2.5 -4.7l2.5 4.7zM197.1 96.4l2.5 -4.7l2.5 4.7zM198.2 96.4l2.5 -4.7l2.5 4.7zM199.4 96.5l2.5 -4.7l2.5 4.7zM200.6 96.6l2.5 -4.7l2.5 4.7zM201.8 96.7l2.5 -4.7l2.5 4.7zM202.9 96.8l2.5 -4.7l2.5 4.7zM204.1 96.9l2.5 -4.7l2.5 4.7zM205.3 97l2.5 -4.7l2.5 4.7zM206.4 97.1l2.5 -4.7l2.5 4.7zM207.6 97.2l2.5 -4.7l2.5 4.7zM208.8 97.3l2.5 -4.7l2.5 4.7zM210 97.4l2.5 -4.7l2.5 4.7zM211.1 97.5l2.5 -4.7l2.5 4.7zM212.3 97.6l2.5 -4.7l2.5 4.7zM213.5 97.7l2.5 -4.7l2.5 4.7zM214.7 97.8l2.5 -4.7l2.5 4.7zM215.8 97.9l2.5 -4.7l2.5 4.7zM217 98.1l2.5 -4.7l2.5 4.7zM218.2 98.2l2.5 -4.7l2.5 4.7zM219.4 98.3l2.5 -4.7l2.5 4.7zM220.5 98.5l2.5 -4.7l2.5 4.7zM221.7 98.6l2.5 -4.7l2.5 4.7zM222.9 98.7l2.5 -4.7l2.5 4.7zM224.1 98.9l2.5 -4.7l2.5 4.7zM225.2 99l2.5 -4.7l2.5 4.7zM226.4 99.2l2.5 -4.7l2.5 4.7zM227.6 99.4l2.5 -4.7l2.5 4.7zM228.8 99.5l2.5 -4.7l2.5 4.7zM229.9 99.7l2.5 -4.7l2.5 4.7zM231.1 99.9l2.5 -4.7l2.5 4.7zM232.3 100l2.5 -4.7l2.5 4.7zM233.4 100.2l2.5 -4.7l2.5 4.7zM234.6 100.4l2.5 -4.7l2.5 4.7zM235.8 100.6l2.5 -4.7l2.5 4.7zM237 100.8l2.5 -4.7l2.5 4.7zM238.1 101l2.5 -4.7l2.5 4.7zM239.3 101.3l2.5 -4.7l2.5 4.7zM240.5 101.5l2.5 -4.7l2.5 4.7zM241.7 101.7l2.5 -4.7l2.5 4.7zM242.8 102l2.5 -4.7l2.5 4.7zM244 102.2l2.5 -4.7l2.5 4.7zM245.2 102.5l2.5 -4.7l2.5 4.7zM246.4 102.8l2.5 -4.7l2.5 4.7zM247.5 103.1l2.5 -4.7l2.5 4.7zM248.7 103.4l2.5 -4.7l2.5 4.7zM249.9 103.7l2.5 -4.7l2.5 4.7zM251.1 104.1l2.5 -4.7l2.5 4.7zM252.2 104.5l2.5 -4.7l2.5 4.7zM253.4 104.9l2.5 -4.7l2.5 4.7zM254.6 105.4l2.5 -4.7l2.5 4.7zM255.8 105.8l2.5 -4.7l2.5 4.7zM256.9 106.3l2.5 -4.7l2.5 4.7zM258.1 106.7l2.5 -4.7l2.5 4.7zM259.3 107.2l2.5 -4.7l2.5 4.7zM260.4 107.6l2.5 -4.7l2.5 4.7zM261.6 108l2.5 -4.7l2.5 4.7zM262.8 108.5l2.5 -4.7l2.5 4.7zM264 108.9l2.5 -4.7l2.5 4.7zM265.1 109.4l2.5 -4.7l2.5 4.7zM266.3 109.8l2.5 -4.7l2.5 4.7zM267.5 110.3l2.5 -4.7l2.5 4.7zM268.7 110.7l2.5 -4.7l2.5 4.7zM269.8 111.2l2.5 -4.7l2.5 4.7zM271 111.6l2.5 -4.7l2.5 4.7zM272.2 112l2.5 -4.7l2.5 4.7zM273.4 112.5l2.5 -4.7l2.5 4.7zM274.5 112.9l2.5 -4.7l2.5 4.7zM275.7 113.3l2.5 -4.7l2.5 4.7zM276.9 113.8l2.5 -4.7l2.5 4.7zM278.1 114.2l2.5 -4.7l2.5 4.7zM279.2 114.6l2.5 -4.7l2.5 4.7zM280.4 115l2.5 -4.7l2.5 4.7zM281.6 115.4l2.5 -4.7l2.5 4.7zM282.8 115.8l2.5 -4.7l2.5 4.7zM283.9 116.2l2.5 -4.7l2.5 4.7zM285.1 116.6l2.5 -4.7l2.5 4.7zM286.3 116.9l2.5 -4.7l2.5 4.7zM287.4 117.3l2.5 -4.7l2.5 4.7zM288.6 117.6l2.5 -4.7l2.5 4.7zM289.8 117.9l2.5 -4.7l2.5 4.7zM291 118.3l2.5 -4.7l2.5 4.7zM292.1 118.6l2.5 -4.7l2.5 4.7zM293.3 119l2.5 -4.7l2.5 4.7zM294.5 119.4l2.5 -4.7l2.5 4.7zM295.7 119.8l2.5 -4.7l2.5 4.7zM296.8 120.2l2.5 -4.7l2.5 4.7zM298 120.6l2.5 -4.7l2.5 4.7zM299.2 121l2.5 -4.7l2.5 4.7zM300.4 121.4l2.5 -4.7l2.5 4.7zM301.5 121.8l2.5 -4.7l2.5 4.7zM302.7 122.2l2.5 -4.7l2.5 4.7zM303.9 122.5l2.5 -4.7l2.5 4.7zM305.1 122.9l2.5 -4.7l2.5 4.7zM306.2 123.2l2.5 -4.7l2.5 4.7zM307.4 123.5l2.5 -4.7l2.5 4.7zM308.6 123.8l2.5 -4.7l2.5 4.7zM309.8 124.1l2.5 -4.7l2.5 4.7zM310.9 124.3l2.5 -4.7l2.5 4.7zM312.1 124.6l2.5 -4.7l2.5 4.7zM313.3 124.9l2.5 -4.7l2.5 4.7zM314.4 125.1l2.5 -4.7l2.5 4.7zM315.6 125.4l2.5 -4.7l2.5 4.7zM316.8 125.6l2.5 -4.7l2.5 4.7zM318 125.9l2.5 -4.7l2.5 4.7zM319.1 126.1l2.5 -4.7l2.5 4.7zM320.3 126.4l2.5 -4.7l2.5 4.7zM321.5 126.6l2.5 -4.7l2.5 4.7zM322.7 126.8l2.5 -4.7l2.5 4.7zM323.8 127.1l2.5 -4.7l2.5 4.7zM325 127.3l2.5 -4.7l2.5 4.7zM326.2 127.5l2.5 -4.7l2.5 4.7zM327.4 127.8l2.5 -4.7l2.5 4.7zM328.5 128l2.5 -4.7l2.5 4.7zM329.7 128.2l2.5 -4.7l2.5 4.7zM330.9 128.4l2.5 -4.7l2.5 4.7zM332.1 128.7l2.5 -4.7l2.5 4.7zM333.2 128.9l2.5 -4.7l2.5 4.7zM334.4 129.1l2.5 -4.7l2.5 4.7zM335.6 129.3l2.5 -4.7l2.5 4.7zM336.8 129.6l2.5 -4.7l2.5 4.7zM337.9 129.8l2.5 -4.7l2.5 4.7zM339.1 130l2.5 -4.7l2.5 4.7zM340.3 130.2l2.5 -4.7l2.5 4.7zM341.4 130.4l2.5 -4.7l2.5 4.7zM342.6 130.7l2.5 -4.7l2.5 4.7zM343.8 130.9l2.5 -4.7l2.5 4.7zM345 131l2.5 -4.7l2.5 4.7zM346.1 131.2l2.5 -4.7l2.5 4.7zM347.3 131.4l2.5 -4.7l2.5 4.7zM348.5 131.5l2.5 -4.7l2.5 4.7zM349.7 131.7l2.5 -4.7l2.5 4.7zM350.8 131.9l2.5 -4.7l2.5 4.7zM352 132l2.5 -4.7l2.5 4.7zM353.2 132.1l2.5 -4.7l2.5 4.7zM354.4 132.3l2.5 -4.7l2.5 4.7zM355.5 132.4l2.5 -4.7l2.5 4.7zM356.7 132.5l2.5 -4.7l2.5 4.7zM357.9 132.7l2.5 -4.7l2.5 4.7zM359.1 132.8l2.5 -4.7l2.5 4.7zM360.2 132.9l2.5 -4.7l2.5 4.7zM361.4 133l2.5 -4.7l2.5 4.7zM362.6 133.1l2.5 -4.7l2.5 4.7zM363.7 133.1l2.5 -4.7l2.5 4.7zM364.9 133.2l2.5 -4.7l2.5 4.7z"/>
<path fill="#aedcf7" d="M111.9 88.1l2 -3.6l2 3.6zM113.1 88.3l2 -3.6l2 3.6zM114.3 88.5l2 -3.6l2 3.6zM115.4 88.7l2 -3.6l2 3.6zM116.6 88.8l2 -3.6l2 3.6zM117.8 89l2 -3.6l2 3.6zM119 89.2l2 -3.6l2 3.6zM120.1 89.3l2 -3.6l2 3.6zM121.3 89.5l2 -3.6l2 3.6zM122.5 89.6l2 -3.6l2 3.6zM123.7 89.8l2 -3.6l2 3.6zM124.8 89.9l2 -3.6l2 3.6zM126 90.1l2 -3.6l2 3.6zM127.2 90.2l2 -3.6l2 3.6zM128.4 90.4l2 -3.6l2 3.6zM129.5 90.5l2 -3.6l2 3.6zM130.7 90.6l2 -3.6l2 3.6zM131.9 90.8l2 -3.6l2 3.6zM133.1 90.9l2 -3.6l2 3.6zM134.2 91l2 -3.6l2 3.6zM135.4 91.2l2 -3.6l2 3.6zM136.6 91.3l2 -3.6l2 3.6zM137.7 91.4l2 -3.6l2 3.6zM138.9 91.5l2 -3.6l2 3.6zM140.1 91.7l2 -3.6l2 3.6zM141.3 91.8l2 -3.6l2 3.6zM142.4 91.9l2 -3.6l2 3.6zM143.6 92l2 -3.6l2 3.6zM144.8 92.1l2 -3.6l2 3.6zM146 92.2l2 -3.6l2 3.6zM147.1 92.4l2 -3.6l2 3.6zM148.3 92.5l2 -3.6l2 3.6zM149.5 92.6l2 -3.6l2 3.6zM150.7 92.7l2 -3.6l2 3.6zM151.8 92.8l2 -3.6l2 3.6zM153 92.9l2 -3.6l2 3.6zM154.2 93l2 -3.6l2 3.6zM155.4 93.1l2 -3.6l2 3.6zM156.5 93.1l2 -3.6l2 3.6zM157.7 93.2l2 -3.6l2 3.6zM158.9 93.3l2 -3.6l2 3.6zM160.1 93.4l2 -3.6l2 3.6zM161.2 93.5l2 -3.6l2 3.6zM162.4 93.6l2 -3.6l2 3.6zM163.6 93.7l2 -3.6l2 3.6zM164.7 93.7l2 -3.6l2 3.6zM165.9 93.8l2 -3.6l2 3.6zM167.1 93.9l2 -3.6l2 3.6zM168.3 94l2 -3.6l2 3.6zM169.4 94l2 -3.6l2 3.6zM170.6 94.1l2 -3.6l2 3.6zM171.8 94.2l2 -3.6l2 3.6zM173 94.3l2 -3.6l2 3.6zM174.1 94.4l2 -3.6l2 3.6zM175.3 94.4l2 -3.6l2 3.6zM176.5 94.5l2 -3.6l2 3.6zM177.7 94.6l2 -3.6l2 3.6zM178.8 94.7l2 -3.6l2 3.6zM180 94.8l2 -3.6l2 3.6zM181.2 94.8l2 -3.6l2 3.6zM182.4 94.9l2 -3.6l2 3.6zM183.5 95l2 -3.6l2 3.6zM184.7 95.1l2 -3.6l2 3.6zM185.9 95.1l2 -3.6l2 3.6zM187 95.2l2 -3.6l2 3.6zM188.2 95.3l2 -3.6l2 3.6zM189.4 95.4l2 -3.6l2 3.6zM190.6 95.4l2 -3.6l2 3.6zM191.7 95.5l2 -3.6l2 3.6zM192.9 95.6l2 -3.6l2 3.6zM194.1 95.7l2 -3.6l2 3.6zM195.3 95.7l2 -3.6l2 3.6zM196.4 95.8l2 -3.6l2 3.6zM197.6 95.9l2 -3.6l2 3.6zM198.8 96l2 -3.6l2 3.6zM200 96l2 -3.6l2 3.6zM201.1 96.1l2 -3.6l2 3.6zM202.3 96.2l2 -3.6l2 3.6zM203.5 96.3l2 -3.6l2 3.6zM204.7 96.4l2 -3.6l2 3.6zM205.8 96.5l2 -3.6l2 3.6zM207 96.6l2 -3.6l2 3.6zM208.2 96.7l2 -3.6l2 3.6zM209.4 96.8l2 -3.6l2 3.6zM210.5 96.9l2 -3.6l2 3.6zM211.7 97l2 -3.6l2 3.6zM212.9 97.1l2 -3.6l2 3.6zM214 97.2l2 -3.6l2 3.6zM215.2 97.3l2 -3.6l2 3.6zM216.4 97.5l2 -3.6l2 3.6zM217.6 97.6l2 -3.6l2 3.6zM218.7 97.7l2 -3.6l2 3.6zM219.9 97.8l2 -3.6l2 3.6zM221.1 98l2 -3.6l2 3.6zM222.3 98.1l2 -3.6l2 3.6zM223.4 98.3l2 -3.6l2 3.6zM224.6 98.4l2 -3.6l2 3.6zM225.8 98.6l2 -3.6l2 3.6zM227 98.7l2 -3.6l2 3.6zM228.1 98.9l2 -3.6l2 3.6zM229.3 99l2 -3.6l2 3.6zM230.5 99.2l2 -3.6l2 3.6zM231.7 99.4l2 -3.6l2 3.6zM232.8 99.6l2 -3.6l2 3.6zM234 99.8l2 -3.6l2 3.6zM235.2 99.9l2 -3.6l2 3.6zM236.4 100.1l2 -3.6l2 3.6zM237.5 100.3l2 -3.6l2 3.6zM238.7 100.6l2 -3.6l2 3.6zM239.9 100.8l2 -3.6l2 3.6zM241 101l2 -3.6l2 3.6zM242.2 101.2l2 -3.6l2 3.6zM243.4 101.5l2 -3.6l2 3.6zM244.6 101.8l2 -3.6l2 3.6zM245.7 102l2 -3.6l2 3.6zM246.9 102.3l2 -3.6l2 3.6zM248.1 102.6l2 -3.6l2 3.6zM249.3 102.9l2 -3.6l2 3.6zM250.4 103.2l2 -3.6l2 3.6zM251.6 103.6l2 -3.6l2 3.6zM252.8 104l2 -3.6l2 3.6zM254 104.5l2 -3.6l2 3.6zM255.1 104.9l2 -3.6l2 3.6zM256.3 105.4l2 -3.6l2 3.6zM257.5 105.8l2 -3.6l2 3.6zM258.7 106.3l2 -3.6l2 3.6zM259.8 106.7l2 -3.6l2 3.6zM261 107.1l2 -3.6l2 3.6zM262.2 107.6l2 -3.6l2 3.6zM263.4 108l2 -3.6l2 3.6zM264.5 108.4l2 -3.6l2 3.6zM265.7 108.9l2 -3.6l2 3.6zM266.9 109.3l2 -3.6l2 3.6zM268 109.8l2 -3.6l2 3.6zM269.2 110.2l2 -3.6l2 3.6zM270.4 110.7l2 -3.6l2 3.6zM271.6 111.1l2 -3.6l2 3.6zM272.7 111.6l2 -3.6l2 3.6zM273.9 112l2 -3.6l2 3.6zM275.1 112.4l2 -3.6l2 3.6zM276.3 112.9l2 -3.6l2 3.6zM277.4 113.3l2 -3.6l2 3.6zM278.6 113.7l2 -3.6l2 3.6zM279.8 114.1l2 -3.6l2 3.6zM281 114.6l2 -3.6l2 3.6zM282.1 115l2 -3.6l2 3.6zM283.3 115.4l2 -3.6l2 3.6zM284.5 115.7l2 -3.6l2 3.6zM285.7 116.1l2 -3.6l2 3.6zM286.8 116.4l2 -3.6l2 3.6zM288 116.8l2 -3.6l2 3.6zM289.2 117.1l2 -3.6l2 3.6zM290.4 117.5l2 -3.6l2 3.6zM291.5 117.8l2 -3.6l2 3.6zM292.7 118.2l2 -3.6l2 3.6zM293.9 118.5l2 -3.6l2 3.6zM295 118.9l2 -3.6l2 3.6zM296.2 119.3l2 -3.6l2 3.6zM297.4 119.7l2 -3.6l2 3.6zM298.6 120.1l2 -3.6l2 3.6zM299.7 120.5l2 -3.6l2 3.6zM300.9 120.9l2 -3.6l2 3.6zM302.1 121.3l2 -3.6l2 3.6zM303.3 121.7l2 -3.6l2 3.6zM304.4 122.1l2 -3.6l2 3.6zM305.6 122.4l2 -3.6l2 3.6zM306.8 122.7l2 -3.6l2 3.6zM308 123l2 -3.6l2 3.6zM309.1 123.3l2 -3.6l2 3.6zM310.3 123.6l2 -3.6l2 3.6zM311.5 123.9l2 -3.6l2 3.6zM312.7 124.1l2 -3.6l2 3.6zM313.8 124.4l2 -3.6l2 3.6zM315 124.6l2 -3.6l2 3.6zM316.2 124.9l2 -3.6l2 3.6zM317.4 125.1l2 -3.6l2 3.6zM318.5 125.4l2 -3.6l2 3.6zM319.7 125.6l2 -3.6l2 3.6zM320.9 125.9l2 -3.6l2 3.6zM322 126.1l2 -3.6l2 3.6zM323.2 126.4l2 -3.6l2 3.6zM324.4 126.6l2 -3.6l2 3.6zM325.6 126.8l2 -3.6l2 3.6zM326.7 127.1l2 -3.6l2 3.6zM327.9 127.3l2 -3.6l2 3.6zM329.1 127.5l2 -3.6l2 3.6zM330.3 127.7l2 -3.6l2 3.6zM331.4 128l2 -3.6l2 3.6zM332.6 128.2l2 -3.6l2 3.6zM333.8 128.4l2 -3.6l2 3.6zM335 128.6l2 -3.6l2 3.6zM336.1 128.9l2 -3.6l2 3.6zM337.3 129.1l2 -3.6l2 3.6zM338.5 129.3l2 -3.6l2 3.6zM339.7 129.5l2 -3.6l2 3.6zM340.8 129.8l2 -3.6l2 3.6zM342 130l2 -3.6l2 3.6zM343.2 130.2l2 -3.6l2 3.6zM344.4 130.4l2 -3.6l2 3.6zM345.5 130.6l2 -3.6l2 3.6zM346.7 130.7l2 -3.6l2 3.6zM347.9 130.9l2 -3.6l2 3.6zM349 131.1l2 -3.6l2 3.6zM350.2 131.2l2 -3.6l2 3.6zM351.4 131.4l2 -3.6l2 3.6zM352.6 131.5l2 -3.6l2 3.6zM353.7 131.7l2 -3.6l2 3.6zM354.9 131.8l2 -3.6l2 3.6zM356.1 131.9l2 -3.6l2 3.6zM357.3 132.1l2 -3.6l2 3.6zM358.4 132.2l2 -3.6l2 3.6zM359.6 132.3l2 -3.6l2 3.6zM360.8 132.4l2 -3.6l2 3.6zM362 132.5l2 -3.6l2 3.6zM363.1 132.6l2 -3.6l2 3.6zM364.3 132.7l2 -3.6l2 3.6zM365.5 132.7l2 -3.6l2 3.6z"/>
<path fill="none" stroke="#2ea3e6" stroke-opacity="0.45" stroke-width="0.6" d="M111.6 88.4l2.3 -4.2l2.3 4.2zM113.9 88.8l2.3 -4.2l2.3 4.2zM116.3 89.1l2.3 -4.2l2.3 4.2zM118.6 89.4l2.3 -4.2l2.3 4.2zM121 89.8l2.3 -4.2l2.3 4.2zM123.3 90.1l2.3 -4.2l2.3 4.2zM125.7 90.4l2.3 -4.2l2.3 4.2zM128 90.6l2.3 -4.2l2.3 4.2zM130.4 90.9l2.3 -4.2l2.3 4.2zM132.7 91.2l2.3 -4.2l2.3 4.2zM135.1 91.4l2.3 -4.2l2.3 4.2zM137.4 91.7l2.3 -4.2l2.3 4.2zM139.8 91.9l2.3 -4.2l2.3 4.2zM142.1 92.2l2.3 -4.2l2.3 4.2zM144.5 92.4l2.3 -4.2l2.3 4.2zM146.8 92.6l2.3 -4.2l2.3 4.2zM149.1 92.9l2.3 -4.2l2.3 4.2zM151.5 93.1l2.3 -4.2l2.3 4.2zM153.8 93.2l2.3 -4.2l2.3 4.2zM156.2 93.4l2.3 -4.2l2.3 4.2zM158.5 93.6l2.3 -4.2l2.3 4.2zM160.9 93.8l2.3 -4.2l2.3 4.2zM163.2 93.9l2.3 -4.2l2.3 4.2zM165.6 94.1l2.3 -4.2l2.3 4.2zM167.9 94.3l2.3 -4.2l2.3 4.2zM170.3 94.4l2.3 -4.2l2.3 4.2zM172.6 94.6l2.3 -4.2l2.3 4.2zM175 94.7l2.3 -4.2l2.3 4.2zM177.3 94.9l2.3 -4.2l2.3 4.2zM179.7 95.1l2.3 -4.2l2.3 4.2zM182 95.2l2.3 -4.2l2.3 4.2zM184.4 95.4l2.3 -4.2l2.3 4.2zM186.7 95.5l2.3 -4.2l2.3 4.2zM189.1 95.6l2.3 -4.2l2.3 4.2zM191.4 95.8l2.3 -4.2l2.3 4.2zM193.8 95.9l2.3 -4.2l2.3 4.2zM196.1 96.1l2.3 -4.2l2.3 4.2zM198.5 96.2l2.3 -4.2l2.3 4.2zM200.8 96.4l2.3 -4.2l2.3 4.2zM203.1 96.6l2.3 -4.2l2.3 4.2zM205.5 96.8l2.3 -4.2l2.3 4.2zM207.8 97l2.3 -4.2l2.3 4.2zM210.2 97.2l2.3 -4.2l2.3 4.2zM212.5 97.4l2.3 -4.2l2.3 4.2zM214.9 97.6l2.3 -4.2l2.3 4.2zM217.2 97.9l2.3 -4.2l2.3 4.2zM219.6 98.1l2.3 -4.2l2.3 4.2zM221.9 98.4l2.3 -4.2l2.3 4.2zM224.3 98.7l2.3 -4.2l2.3 4.2zM226.6 99l2.3 -4.2l2.3 4.2zM229 99.3l2.3 -4.2l2.3 4.2zM231.3 99.7l2.3 -4.2l2.3 4.2zM233.7 100l2.3 -4.2l2.3 4.2zM236 100.4l2.3 -4.2l2.3 4.2zM238.4 100.8l2.3 -4.2l2.3 4.2zM240.7 101.3l2.3 -4.2l2.3 4.2zM243.1 101.8l2.3 -4.2l2.3 4.2zM245.4 102.3l2.3 -4.2l2.3 4.2zM247.8 102.9l2.3 -4.2l2.3 4.2zM250.1 103.5l2.3 -4.2l2.3 4.2zM252.5 104.3l2.3 -4.2l2.3 4.2zM254.8 105.2l2.3 -4.2l2.3 4.2zM257.1 106.1l2.3 -4.2l2.3 4.2zM259.5 107l2.3 -4.2l2.3 4.2zM261.8 107.9l2.3 -4.2l2.3 4.2zM264.2 108.7l2.3 -4.2l2.3 4.2zM266.5 109.6l2.3 -4.2l2.3 4.2zM268.9 110.5l2.3 -4.2l2.3 4.2zM271.2 111.4l2.3 -4.2l2.3 4.2zM273.6 112.3l2.3 -4.2l2.3 4.2zM275.9 113.1l2.3 -4.2l2.3 4.2zM278.3 114l2.3 -4.2l2.3 4.2zM280.6 114.8l2.3 -4.2l2.3 4.2zM283 115.6l2.3 -4.2l2.3 4.2zM285.3 116.4l2.3 -4.2l2.3 4.2zM287.7 117.1l2.3 -4.2l2.3 4.2zM290 117.7l2.3 -4.2l2.3 4.2zM292.4 118.4l2.3 -4.2l2.3 4.2zM294.7 119.2l2.3 -4.2l2.3 4.2zM297.1 120l2.3 -4.2l2.3 4.2zM299.4 120.8l2.3 -4.2l2.3 4.2zM301.8 121.6l2.3 -4.2l2.3 4.2zM304.1 122.3l2.3 -4.2l2.3 4.2zM306.5 123l2.3 -4.2l2.3 4.2zM308.8 123.6l2.3 -4.2l2.3 4.2zM311.1 124.1l2.3 -4.2l2.3 4.2zM313.5 124.7l2.3 -4.2l2.3 4.2zM315.8 125.2l2.3 -4.2l2.3 4.2zM318.2 125.7l2.3 -4.2l2.3 4.2zM320.5 126.2l2.3 -4.2l2.3 4.2zM322.9 126.7l2.3 -4.2l2.3 4.2zM325.2 127.1l2.3 -4.2l2.3 4.2zM327.6 127.6l2.3 -4.2l2.3 4.2zM329.9 128l2.3 -4.2l2.3 4.2zM332.3 128.5l2.3 -4.2l2.3 4.2zM334.6 128.9l2.3 -4.2l2.3 4.2zM337 129.4l2.3 -4.2l2.3 4.2zM339.3 129.8l2.3 -4.2l2.3 4.2zM341.7 130.3l2.3 -4.2l2.3 4.2zM344 130.7l2.3 -4.2l2.3 4.2zM346.4 131l2.3 -4.2l2.3 4.2zM348.7 131.4l2.3 -4.2l2.3 4.2zM351.1 131.7l2.3 -4.2l2.3 4.2zM353.4 132l2.3 -4.2l2.3 4.2zM355.8 132.2l2.3 -4.2l2.3 4.2zM358.1 132.5l2.3 -4.2l2.3 4.2zM360.5 132.7l2.3 -4.2l2.3 4.2zM362.8 132.9l2.3 -4.2l2.3 4.2zM365.1 133l2.3 -4.2l2.3 4.2z"/>
<path d="M364.9 133.2l2.5 -4.7l2.5 4.7z" fill="#fff" stroke="#2ea3e6" stroke-width="1.0"/></g>
<polyline points="298.00,93.60 299.99,94.99 301.99,96.37 303.98,97.74 305.97,99.12 307.97,100.50 309.96,101.85 311.95,103.18 313.95,104.45 315.94,105.67 317.93,106.84 319.93,107.99 321.92,109.10 323.91,110.17 325.91,111.20 327.90,112.20" fill="none" stroke="#3c3c3c" stroke-width="1.05" stroke-dasharray="1.05 0.85"/>
<path d="M256.8 61.4H261.8V113.2H256.8" fill="none" stroke="#7a7a7a" stroke-width="0.8"/>
<g id="fit-bot">
<polyline points="38.75,185.50 40.70,186.07 42.66,186.65 44.61,187.22 46.56,187.79 48.51,188.37 50.47,188.94 52.42,189.51 54.37,190.08 56.32,190.66 58.28,191.23 60.23,191.80 62.18,192.37 64.14,192.94 66.09,193.51 68.04,194.07 69.99,194.64 71.95,195.21 73.90,195.78 75.85,196.35 77.80,196.91 79.76,197.48 81.71,198.05 83.66,198.61 85.61,199.18 87.57,199.74 89.52,200.31 91.47,200.87 93.43,201.44 95.38,202.00 97.33,202.57 99.28,203.13 101.24,203.69 103.19,204.25 105.14,204.82 107.09,205.38 109.05,205.94 111.00,206.50" fill="none" stroke="#3c3c3c" stroke-width="1.05" stroke-dasharray="1.05 0.85"/>
<polyline points="38.75,193.20 40.73,193.67 42.71,194.13 44.69,194.60 46.67,195.06 48.65,195.53 50.63,195.99 52.61,196.46 54.59,196.92 56.57,197.39 58.55,197.85 60.53,198.32 62.51,198.78 64.49,199.24 66.47,199.71 68.45,200.17 70.43,200.63 72.41,201.09 74.39,201.56 76.36,202.02 78.34,202.48 80.32,202.94 82.30,203.40 84.28,203.86 86.26,204.33 88.24,204.79 90.22,205.25 92.20,205.71 94.18,206.17 96.16,206.63 98.14,207.09 100.12,207.55 102.10,208.01 104.08,208.47 106.06,208.92 108.04,209.38 110.02,209.84 112.00,210.30" fill="none" stroke="#3c3c3c" stroke-width="1.05" stroke-dasharray="1.05 0.85"/>
<polyline points="38.75,196.90 40.73,197.30 42.71,197.69 44.69,198.09 46.67,198.49 48.65,198.89 50.63,199.29 52.61,199.69 54.59,200.09 56.57,200.50 58.55,200.90 60.53,201.31 62.51,201.71 64.49,202.12 66.47,202.53 68.45,202.94 70.43,203.35 72.41,203.76 74.39,204.17 76.36,204.59 78.34,205.00 80.32,205.41 82.30,205.83 84.28,206.25 86.26,206.67 88.24,207.09 90.22,207.51 92.20,207.93 94.18,208.35 96.16,208.78 98.14,209.20 100.12,209.63 102.10,210.05 104.08,210.48 106.06,210.91 108.04,211.34 110.02,211.77 112.00,212.20" fill="none" stroke="#3c3c3c" stroke-width="1.05" stroke-dasharray="1.05 0.85"/>
<polyline points="38.75,204.25 40.74,204.91 42.73,205.56 44.71,206.20 46.70,206.83 48.69,207.46 50.68,208.09 52.66,208.70 54.65,209.31 56.64,209.92 58.63,210.52 60.62,211.11 62.60,211.69 64.59,212.27 66.58,212.84 68.57,213.41 70.56,213.97 72.54,214.52 74.53,215.07 76.52,215.61 78.51,216.11 80.49,216.59 82.48,217.05 84.47,217.51 86.46,217.96 88.45,218.41 90.43,218.88 92.42,219.37 94.41,219.87 96.40,220.42 98.39,221.00 100.37,221.62 102.36,222.32 104.35,223.08 106.34,223.91 108.32,224.77 110.31,225.68 112.30,226.60" fill="none" stroke="#3c3c3c" stroke-width="1.05" stroke-dasharray="1.05 0.85"/>
<polyline points="186.00,234.30 187.94,234.30 189.88,234.29 191.82,234.28 193.76,234.27 195.71,234.25 197.65,234.23 199.59,234.21 201.53,234.16 203.47,234.06 205.41,233.91 207.35,233.74 209.29,233.56 211.24,233.38 213.18,233.17 215.12,232.94 217.06,232.68 219.00,232.40" fill="none" stroke="#3c3c3c" stroke-width="1.05" stroke-dasharray="1.05 0.85"/>
<polyline points="370.00,249.90 414.00,257.80" fill="none" stroke="#3c3c3c" stroke-width="1.05" stroke-dasharray="1.05 0.85"/>
<polyline points="370.00,251.00 414.00,259.30" fill="none" stroke="#3c3c3c" stroke-width="1.05" stroke-dasharray="1.05 0.85"/>
<polyline points="370.00,254.30 414.00,262.80" fill="none" stroke="#3c3c3c" stroke-width="1.05" stroke-dasharray="1.05 0.85"/>
<polyline points="370.00,260.70 414.00,264.30" fill="none" stroke="#3c3c3c" stroke-width="1.05" stroke-dasharray="1.05 0.85"/>
</g>
<g id="b-red"><path fill="#e62f3f" stroke="#e62f3f" stroke-width="1.05" d="M111.7 205.3a2.2 2.2 0 1 0 4.4 0a2.2 2.2 0 1 0 -4.4 0zM112.9 205.1a2.2 2.2 0 1 0 4.4 0a2.2 2.2 0 1 0 -4.4 0zM114 204.8a2.2 2.2 0 1 0 4.4 0a2.2 2.2 0 1 0 -4.4 0zM115.2 204.6a2.2 2.2 0 1 0 4.4 0a2.2 2.2 0 1 0 -4.4 0zM116.4 204.4a2.2 2.2 0 1 0 4.4 0a2.2 2.2 0 1 0 -4.4 0zM117.5 204.2a2.2 2.2 0 1 0 4.4 0a2.2 2.2 0 1 0 -4.4 0zM118.7 204.1a2.2 2.2 0 1 0 4.4 0a2.2 2.2 0 1 0 -4.4 0zM119.9 203.9a2.2 2.2 0 1 0 4.4 0a2.2 2.2 0 1 0 -4.4 0zM121.1 203.7a2.2 2.2 0 1 0 4.4 0a2.2 2.2 0 1 0 -4.4 0zM122.2 203.5a2.2 2.2 0 1 0 4.4 0a2.2 2.2 0 1 0 -4.4 0zM123.4 203.4a2.2 2.2 0 1 0 4.4 0a2.2 2.2 0 1 0 -4.4 0zM124.6 203.2a2.2 2.2 0 1 0 4.4 0a2.2 2.2 0 1 0 -4.4 0zM125.8 203.1a2.2 2.2 0 1 0 4.4 0a2.2 2.2 0 1 0 -4.4 0zM126.9 203a2.2 2.2 0 1 0 4.4 0a2.2 2.2 0 1 0 -4.4 0zM128.1 203a2.2 2.2 0 1 0 4.4 0a2.2 2.2 0 1 0 -4.4 0zM129.3 203a2.2 2.2 0 1 0 4.4 0a2.2 2.2 0 1 0 -4.4 0zM130.5 202.9a2.2 2.2 0 1 0 4.4 0a2.2 2.2 0 1 0 -4.4 0zM131.6 202.9a2.2 2.2 0 1 0 4.4 0a2.2 2.2 0 1 0 -4.4 0zM132.8 202.9a2.2 2.2 0 1 0 4.4 0a2.2 2.2 0 1 0 -4.4 0zM134 202.9a2.2 2.2 0 1 0 4.4 0a2.2 2.2 0 1 0 -4.4 0zM135.2 202.8a2.2 2.2 0 1 0 4.4 0a2.2 2.2 0 1 0 -4.4 0zM136.3 202.8a2.2 2.2 0 1 0 4.4 0a2.2 2.2 0 1 0 -4.4 0zM137.5 202.8a2.2 2.2 0 1 0 4.4 0a2.2 2.2 0 1 0 -4.4 0zM138.7 202.8a2.2 2.2 0 1 0 4.4 0a2.2 2.2 0 1 0 -4.4 0zM139.9 202.8a2.2 2.2 0 1 0 4.4 0a2.2 2.2 0 1 0 -4.4 0zM141 202.8a2.2 2.2 0 1 0 4.4 0a2.2 2.2 0 1 0 -4.4 0zM142.2 202.9a2.2 2.2 0 1 0 4.4 0a2.2 2.2 0 1 0 -4.4 0zM143.4 203a2.2 2.2 0 1 0 4.4 0a2.2 2.2 0 1 0 -4.4 0zM144.5 203.1a2.2 2.2 0 1 0 4.4 0a2.2 2.2 0 1 0 -4.4 0zM145.7 203.3a2.2 2.2 0 1 0 4.4 0a2.2 2.2 0 1 0 -4.4 0zM146.9 203.5a2.2 2.2 0 1 0 4.4 0a2.2 2.2 0 1 0 -4.4 0zM148.1 203.7a2.2 2.2 0 1 0 4.4 0a2.2 2.2 0 1 0 -4.4 0zM149.2 203.9a2.2 2.2 0 1 0 4.4 0a2.2 2.2 0 1 0 -4.4 0zM150.4 204.1a2.2 2.2 0 1 0 4.4 0a2.2 2.2 0 1 0 -4.4 0zM151.6 204.4a2.2 2.2 0 1 0 4.4 0a2.2 2.2 0 1 0 -4.4 0zM152.8 204.6a2.2 2.2 0 1 0 4.4 0a2.2 2.2 0 1 0 -4.4 0zM153.9 204.8a2.2 2.2 0 1 0 4.4 0a2.2 2.2 0 1 0 -4.4 0zM155.1 205.1a2.2 2.2 0 1 0 4.4 0a2.2 2.2 0 1 0 -4.4 0zM156.3 205.4a2.2 2.2 0 1 0 4.4 0a2.2 2.2 0 1 0 -4.4 0zM157.5 205.7a2.2 2.2 0 1 0 4.4 0a2.2 2.2 0 1 0 -4.4 0zM158.6 206a2.2 2.2 0 1 0 4.4 0a2.2 2.2 0 1 0 -4.4 0zM159.8 206.3a2.2 2.2 0 1 0 4.4 0a2.2 2.2 0 1 0 -4.4 0zM161 206.6a2.2 2.2 0 1 0 4.4 0a2.2 2.2 0 1 0 -4.4 0zM162.2 207a2.2 2.2 0 1 0 4.4 0a2.2 2.2 0 1 0 -4.4 0zM163.3 207.3a2.2 2.2 0 1 0 4.4 0a2.2 2.2 0 1 0 -4.4 0zM164.5 207.6a2.2 2.2 0 1 0 4.4 0a2.2 2.2 0 1 0 -4.4 0zM165.7 207.9a2.2 2.2 0 1 0 4.4 0a2.2 2.2 0 1 0 -4.4 0zM166.9 208.2a2.2 2.2 0 1 0 4.4 0a2.2 2.2 0 1 0 -4.4 0zM168 208.5a2.2 2.2 0 1 0 4.4 0a2.2 2.2 0 1 0 -4.4 0zM169.2 208.8a2.2 2.2 0 1 0 4.4 0a2.2 2.2 0 1 0 -4.4 0zM170.4 209.2a2.2 2.2 0 1 0 4.4 0a2.2 2.2 0 1 0 -4.4 0zM171.5 209.5a2.2 2.2 0 1 0 4.4 0a2.2 2.2 0 1 0 -4.4 0zM172.7 209.8a2.2 2.2 0 1 0 4.4 0a2.2 2.2 0 1 0 -4.4 0zM173.9 210.1a2.2 2.2 0 1 0 4.4 0a2.2 2.2 0 1 0 -4.4 0zM175.1 210.4a2.2 2.2 0 1 0 4.4 0a2.2 2.2 0 1 0 -4.4 0zM176.2 210.7a2.2 2.2 0 1 0 4.4 0a2.2 2.2 0 1 0 -4.4 0zM177.4 210.9a2.2 2.2 0 1 0 4.4 0a2.2 2.2 0 1 0 -4.4 0zM178.6 211.2a2.2 2.2 0 1 0 4.4 0a2.2 2.2 0 1 0 -4.4 0zM179.8 211.4a2.2 2.2 0 1 0 4.4 0a2.2 2.2 0 1 0 -4.4 0zM180.9 211.7a2.2 2.2 0 1 0 4.4 0a2.2 2.2 0 1 0 -4.4 0zM182.1 211.9a2.2 2.2 0 1 0 4.4 0a2.2 2.2 0 1 0 -4.4 0zM183.3 212.1a2.2 2.2 0 1 0 4.4 0a2.2 2.2 0 1 0 -4.4 0zM184.5 212.3a2.2 2.2 0 1 0 4.4 0a2.2 2.2 0 1 0 -4.4 0zM185.6 212.6a2.2 2.2 0 1 0 4.4 0a2.2 2.2 0 1 0 -4.4 0zM186.8 212.8a2.2 2.2 0 1 0 4.4 0a2.2 2.2 0 1 0 -4.4 0zM188 213a2.2 2.2 0 1 0 4.4 0a2.2 2.2 0 1 0 -4.4 0zM189.2 213.1a2.2 2.2 0 1 0 4.4 0a2.2 2.2 0 1 0 -4.4 0zM190.3 213.3a2.2 2.2 0 1 0 4.4 0a2.2 2.2 0 1 0 -4.4 0zM191.5 213.5a2.2 2.2 0 1 0 4.4 0a2.2 2.2 0 1 0 -4.4 0zM192.7 213.6a2.2 2.2 0 1 0 4.4 0a2.2 2.2 0 1 0 -4.4 0zM193.9 213.8a2.2 2.2 0 1 0 4.4 0a2.2 2.2 0 1 0 -4.4 0zM195 213.9a2.2 2.2 0 1 0 4.4 0a2.2 2.2 0 1 0 -4.4 0zM196.2 214.1a2.2 2.2 0 1 0 4.4 0a2.2 2.2 0 1 0 -4.4 0zM197.4 214.2a2.2 2.2 0 1 0 4.4 0a2.2 2.2 0 1 0 -4.4 0zM198.5 214.3a2.2 2.2 0 1 0 4.4 0a2.2 2.2 0 1 0 -4.4 0zM199.7 214.5a2.2 2.2 0 1 0 4.4 0a2.2 2.2 0 1 0 -4.4 0zM200.9 214.6a2.2 2.2 0 1 0 4.4 0a2.2 2.2 0 1 0 -4.4 0zM202.1 214.7a2.2 2.2 0 1 0 4.4 0a2.2 2.2 0 1 0 -4.4 0zM203.2 214.7a2.2 2.2 0 1 0 4.4 0a2.2 2.2 0 1 0 -4.4 0zM204.4 214.8a2.2 2.2 0 1 0 4.4 0a2.2 2.2 0 1 0 -4.4 0zM205.6 214.8a2.2 2.2 0 1 0 4.4 0a2.2 2.2 0 1 0 -4.4 0zM206.8 214.9a2.2 2.2 0 1 0 4.4 0a2.2 2.2 0 1 0 -4.4 0zM207.9 215a2.2 2.2 0 1 0 4.4 0a2.2 2.2 0 1 0 -4.4 0zM209.1 215a2.2 2.2 0 1 0 4.4 0a2.2 2.2 0 1 0 -4.4 0zM210.3 215a2.2 2.2 0 1 0 4.4 0a2.2 2.2 0 1 0 -4.4 0zM211.5 215.1a2.2 2.2 0 1 0 4.4 0a2.2 2.2 0 1 0 -4.4 0zM212.6 215.1a2.2 2.2 0 1 0 4.4 0a2.2 2.2 0 1 0 -4.4 0zM213.8 215.2a2.2 2.2 0 1 0 4.4 0a2.2 2.2 0 1 0 -4.4 0zM215 215.2a2.2 2.2 0 1 0 4.4 0a2.2 2.2 0 1 0 -4.4 0zM216.2 215.2a2.2 2.2 0 1 0 4.4 0a2.2 2.2 0 1 0 -4.4 0zM217.3 215.3a2.2 2.2 0 1 0 4.4 0a2.2 2.2 0 1 0 -4.4 0zM218.5 215.3a2.2 2.2 0 1 0 4.4 0a2.2 2.2 0 1 0 -4.4 0zM219.7 215.3a2.2 2.2 0 1 0 4.4 0a2.2 2.2 0 1 0 -4.4 0zM220.9 215.3a2.2 2.2 0 1 0 4.4 0a2.2 2.2 0 1 0 -4.4 0zM222 215.4a2.2 2.2 0 1 0 4.4 0a2.2 2.2 0 1 0 -4.4 0zM223.2 215.4a2.2 2.2 0 1 0 4.4 0a2.2 2.2 0 1 0 -4.4 0zM224.4 215.4a2.2 2.2 0 1 0 4.4 0a2.2 2.2 0 1 0 -4.4 0zM225.5 215.4a2.2 2.2 0 1 0 4.4 0a2.2 2.2 0 1 0 -4.4 0zM226.7 215.5a2.2 2.2 0 1 0 4.4 0a2.2 2.2 0 1 0 -4.4 0zM227.9 215.5a2.2 2.2 0 1 0 4.4 0a2.2 2.2 0 1 0 -4.4 0zM229.1 215.5a2.2 2.2 0 1 0 4.4 0a2.2 2.2 0 1 0 -4.4 0zM230.2 215.5a2.2 2.2 0 1 0 4.4 0a2.2 2.2 0 1 0 -4.4 0zM231.4 215.6a2.2 2.2 0 1 0 4.4 0a2.2 2.2 0 1 0 -4.4 0zM232.6 215.6a2.2 2.2 0 1 0 4.4 0a2.2 2.2 0 1 0 -4.4 0zM233.8 215.6a2.2 2.2 0 1 0 4.4 0a2.2 2.2 0 1 0 -4.4 0zM234.9 215.7a2.2 2.2 0 1 0 4.4 0a2.2 2.2 0 1 0 -4.4 0zM236.1 215.7a2.2 2.2 0 1 0 4.4 0a2.2 2.2 0 1 0 -4.4 0zM237.3 215.7a2.2 2.2 0 1 0 4.4 0a2.2 2.2 0 1 0 -4.4 0zM238.5 215.8a2.2 2.2 0 1 0 4.4 0a2.2 2.2 0 1 0 -4.4 0zM239.6 215.8a2.2 2.2 0 1 0 4.4 0a2.2 2.2 0 1 0 -4.4 0zM240.8 215.8a2.2 2.2 0 1 0 4.4 0a2.2 2.2 0 1 0 -4.4 0zM242 215.9a2.2 2.2 0 1 0 4.4 0a2.2 2.2 0 1 0 -4.4 0zM243.2 215.9a2.2 2.2 0 1 0 4.4 0a2.2 2.2 0 1 0 -4.4 0zM244.3 216a2.2 2.2 0 1 0 4.4 0a2.2 2.2 0 1 0 -4.4 0zM245.5 216a2.2 2.2 0 1 0 4.4 0a2.2 2.2 0 1 0 -4.4 0zM246.7 216.1a2.2 2.2 0 1 0 4.4 0a2.2 2.2 0 1 0 -4.4 0zM247.9 216.1a2.2 2.2 0 1 0 4.4 0a2.2 2.2 0 1 0 -4.4 0zM249 216.2a2.2 2.2 0 1 0 4.4 0a2.2 2.2 0 1 0 -4.4 0zM250.2 216.2a2.2 2.2 0 1 0 4.4 0a2.2 2.2 0 1 0 -4.4 0zM251.4 216.3a2.2 2.2 0 1 0 4.4 0a2.2 2.2 0 1 0 -4.4 0zM252.5 216.4a2.2 2.2 0 1 0 4.4 0a2.2 2.2 0 1 0 -4.4 0zM253.7 216.5a2.2 2.2 0 1 0 4.4 0a2.2 2.2 0 1 0 -4.4 0zM254.9 216.5a2.2 2.2 0 1 0 4.4 0a2.2 2.2 0 1 0 -4.4 0zM256.1 216.6a2.2 2.2 0 1 0 4.4 0a2.2 2.2 0 1 0 -4.4 0zM257.2 216.7a2.2 2.2 0 1 0 4.4 0a2.2 2.2 0 1 0 -4.4 0zM258.4 216.9a2.2 2.2 0 1 0 4.4 0a2.2 2.2 0 1 0 -4.4 0zM259.6 217a2.2 2.2 0 1 0 4.4 0a2.2 2.2 0 1 0 -4.4 0zM260.8 217.2a2.2 2.2 0 1 0 4.4 0a2.2 2.2 0 1 0 -4.4 0zM261.9 217.4a2.2 2.2 0 1 0 4.4 0a2.2 2.2 0 1 0 -4.4 0zM263.1 217.6a2.2 2.2 0 1 0 4.4 0a2.2 2.2 0 1 0 -4.4 0zM264.3 217.9a2.2 2.2 0 1 0 4.4 0a2.2 2.2 0 1 0 -4.4 0zM265.5 218.1a2.2 2.2 0 1 0 4.4 0a2.2 2.2 0 1 0 -4.4 0zM266.6 218.4a2.2 2.2 0 1 0 4.4 0a2.2 2.2 0 1 0 -4.4 0zM267.8 218.7a2.2 2.2 0 1 0 4.4 0a2.2 2.2 0 1 0 -4.4 0zM269 219a2.2 2.2 0 1 0 4.4 0a2.2 2.2 0 1 0 -4.4 0zM270.2 219.4a2.2 2.2 0 1 0 4.4 0a2.2 2.2 0 1 0 -4.4 0zM271.3 219.7a2.2 2.2 0 1 0 4.4 0a2.2 2.2 0 1 0 -4.4 0zM272.5 220.1a2.2 2.2 0 1 0 4.4 0a2.2 2.2 0 1 0 -4.4 0zM273.7 220.6a2.2 2.2 0 1 0 4.4 0a2.2 2.2 0 1 0 -4.4 0zM274.9 221.1a2.2 2.2 0 1 0 4.4 0a2.2 2.2 0 1 0 -4.4 0zM276 221.6a2.2 2.2 0 1 0 4.4 0a2.2 2.2 0 1 0 -4.4 0zM277.2 222.1a2.2 2.2 0 1 0 4.4 0a2.2 2.2 0 1 0 -4.4 0zM278.4 222.5a2.2 2.2 0 1 0 4.4 0a2.2 2.2 0 1 0 -4.4 0zM279.5 223a2.2 2.2 0 1 0 4.4 0a2.2 2.2 0 1 0 -4.4 0zM280.7 223.5a2.2 2.2 0 1 0 4.4 0a2.2 2.2 0 1 0 -4.4 0zM281.9 223.9a2.2 2.2 0 1 0 4.4 0a2.2 2.2 0 1 0 -4.4 0zM283.1 224.3a2.2 2.2 0 1 0 4.4 0a2.2 2.2 0 1 0 -4.4 0zM284.2 224.6a2.2 2.2 0 1 0 4.4 0a2.2 2.2 0 1 0 -4.4 0zM285.4 224.9a2.2 2.2 0 1 0 4.4 0a2.2 2.2 0 1 0 -4.4 0zM286.6 225.3a2.2 2.2 0 1 0 4.4 0a2.2 2.2 0 1 0 -4.4 0zM287.8 225.6a2.2 2.2 0 1 0 4.4 0a2.2 2.2 0 1 0 -4.4 0zM288.9 225.9a2.2 2.2 0 1 0 4.4 0a2.2 2.2 0 1 0 -4.4 0zM290.1 226.3a2.2 2.2 0 1 0 4.4 0a2.2 2.2 0 1 0 -4.4 0zM291.3 226.7a2.2 2.2 0 1 0 4.4 0a2.2 2.2 0 1 0 -4.4 0zM292.5 227.1a2.2 2.2 0 1 0 4.4 0a2.2 2.2 0 1 0 -4.4 0zM293.6 227.4a2.2 2.2 0 1 0 4.4 0a2.2 2.2 0 1 0 -4.4 0zM294.8 227.8a2.2 2.2 0 1 0 4.4 0a2.2 2.2 0 1 0 -4.4 0zM296 228.2a2.2 2.2 0 1 0 4.4 0a2.2 2.2 0 1 0 -4.4 0zM297.2 228.6a2.2 2.2 0 1 0 4.4 0a2.2 2.2 0 1 0 -4.4 0zM298.3 229a2.2 2.2 0 1 0 4.4 0a2.2 2.2 0 1 0 -4.4 0zM299.5 229.4a2.2 2.2 0 1 0 4.4 0a2.2 2.2 0 1 0 -4.4 0zM300.7 229.7a2.2 2.2 0 1 0 4.4 0a2.2 2.2 0 1 0 -4.4 0zM301.9 230.1a2.2 2.2 0 1 0 4.4 0a2.2 2.2 0 1 0 -4.4 0zM303 230.4a2.2 2.2 0 1 0 4.4 0a2.2 2.2 0 1 0 -4.4 0zM304.2 230.8a2.2 2.2 0 1 0 4.4 0a2.2 2.2 0 1 0 -4.4 0zM305.4 231.2a2.2 2.2 0 1 0 4.4 0a2.2 2.2 0 1 0 -4.4 0zM306.5 231.5a2.2 2.2 0 1 0 4.4 0a2.2 2.2 0 1 0 -4.4 0zM307.7 231.9a2.2 2.2 0 1 0 4.4 0a2.2 2.2 0 1 0 -4.4 0zM308.9 232.2a2.2 2.2 0 1 0 4.4 0a2.2 2.2 0 1 0 -4.4 0zM310.1 232.6a2.2 2.2 0 1 0 4.4 0a2.2 2.2 0 1 0 -4.4 0zM311.2 232.9a2.2 2.2 0 1 0 4.4 0a2.2 2.2 0 1 0 -4.4 0zM312.4 233.3a2.2 2.2 0 1 0 4.4 0a2.2 2.2 0 1 0 -4.4 0zM313.6 233.6a2.2 2.2 0 1 0 4.4 0a2.2 2.2 0 1 0 -4.4 0zM314.8 234a2.2 2.2 0 1 0 4.4 0a2.2 2.2 0 1 0 -4.4 0zM315.9 234.3a2.2 2.2 0 1 0 4.4 0a2.2 2.2 0 1 0 -4.4 0zM317.1 234.7a2.2 2.2 0 1 0 4.4 0a2.2 2.2 0 1 0 -4.4 0zM318.3 235a2.2 2.2 0 1 0 4.4 0a2.2 2.2 0 1 0 -4.4 0zM319.5 235.4a2.2 2.2 0 1 0 4.4 0a2.2 2.2 0 1 0 -4.4 0zM320.6 235.7a2.2 2.2 0 1 0 4.4 0a2.2 2.2 0 1 0 -4.4 0zM321.8 236.1a2.2 2.2 0 1 0 4.4 0a2.2 2.2 0 1 0 -4.4 0zM323 236.4a2.2 2.2 0 1 0 4.4 0a2.2 2.2 0 1 0 -4.4 0zM324.2 236.8a2.2 2.2 0 1 0 4.4 0a2.2 2.2 0 1 0 -4.4 0zM325.3 237.1a2.2 2.2 0 1 0 4.4 0a2.2 2.2 0 1 0 -4.4 0zM326.5 237.5a2.2 2.2 0 1 0 4.4 0a2.2 2.2 0 1 0 -4.4 0zM327.7 237.8a2.2 2.2 0 1 0 4.4 0a2.2 2.2 0 1 0 -4.4 0zM328.9 238.2a2.2 2.2 0 1 0 4.4 0a2.2 2.2 0 1 0 -4.4 0zM330 238.5a2.2 2.2 0 1 0 4.4 0a2.2 2.2 0 1 0 -4.4 0zM331.2 238.9a2.2 2.2 0 1 0 4.4 0a2.2 2.2 0 1 0 -4.4 0zM332.4 239.3a2.2 2.2 0 1 0 4.4 0a2.2 2.2 0 1 0 -4.4 0zM333.5 239.6a2.2 2.2 0 1 0 4.4 0a2.2 2.2 0 1 0 -4.4 0zM334.7 240a2.2 2.2 0 1 0 4.4 0a2.2 2.2 0 1 0 -4.4 0zM335.9 240.3a2.2 2.2 0 1 0 4.4 0a2.2 2.2 0 1 0 -4.4 0zM337.1 240.7a2.2 2.2 0 1 0 4.4 0a2.2 2.2 0 1 0 -4.4 0zM338.2 241a2.2 2.2 0 1 0 4.4 0a2.2 2.2 0 1 0 -4.4 0zM339.4 241.4a2.2 2.2 0 1 0 4.4 0a2.2 2.2 0 1 0 -4.4 0zM340.6 241.8a2.2 2.2 0 1 0 4.4 0a2.2 2.2 0 1 0 -4.4 0zM341.8 242.1a2.2 2.2 0 1 0 4.4 0a2.2 2.2 0 1 0 -4.4 0zM342.9 242.4a2.2 2.2 0 1 0 4.4 0a2.2 2.2 0 1 0 -4.4 0zM344.1 242.8a2.2 2.2 0 1 0 4.4 0a2.2 2.2 0 1 0 -4.4 0zM345.3 243.1a2.2 2.2 0 1 0 4.4 0a2.2 2.2 0 1 0 -4.4 0zM346.5 243.5a2.2 2.2 0 1 0 4.4 0a2.2 2.2 0 1 0 -4.4 0zM347.6 243.8a2.2 2.2 0 1 0 4.4 0a2.2 2.2 0 1 0 -4.4 0zM348.8 244.2a2.2 2.2 0 1 0 4.4 0a2.2 2.2 0 1 0 -4.4 0zM350 244.5a2.2 2.2 0 1 0 4.4 0a2.2 2.2 0 1 0 -4.4 0zM351.2 244.8a2.2 2.2 0 1 0 4.4 0a2.2 2.2 0 1 0 -4.4 0zM352.3 245.2a2.2 2.2 0 1 0 4.4 0a2.2 2.2 0 1 0 -4.4 0zM353.5 245.5a2.2 2.2 0 1 0 4.4 0a2.2 2.2 0 1 0 -4.4 0zM354.7 245.8a2.2 2.2 0 1 0 4.4 0a2.2 2.2 0 1 0 -4.4 0zM355.9 246.1a2.2 2.2 0 1 0 4.4 0a2.2 2.2 0 1 0 -4.4 0zM357 246.4a2.2 2.2 0 1 0 4.4 0a2.2 2.2 0 1 0 -4.4 0zM358.2 246.7a2.2 2.2 0 1 0 4.4 0a2.2 2.2 0 1 0 -4.4 0zM359.4 247a2.2 2.2 0 1 0 4.4 0a2.2 2.2 0 1 0 -4.4 0zM360.5 247.3a2.2 2.2 0 1 0 4.4 0a2.2 2.2 0 1 0 -4.4 0zM361.7 247.5a2.2 2.2 0 1 0 4.4 0a2.2 2.2 0 1 0 -4.4 0zM362.9 247.8a2.2 2.2 0 1 0 4.4 0a2.2 2.2 0 1 0 -4.4 0zM364.1 248a2.2 2.2 0 1 0 4.4 0a2.2 2.2 0 1 0 -4.4 0zM365.2 248.3a2.2 2.2 0 1 0 4.4 0a2.2 2.2 0 1 0 -4.4 0z"/>
<path fill="#f6979d" d="M112.2 205.3a1.7 1.7 0 1 0 3.4 0a1.7 1.7 0 1 0 -3.4 0zM113.4 205.1a1.7 1.7 0 1 0 3.4 0a1.7 1.7 0 1 0 -3.4 0zM114.6 204.8a1.7 1.7 0 1 0 3.4 0a1.7 1.7 0 1 0 -3.4 0zM115.7 204.6a1.7 1.7 0 1 0 3.4 0a1.7 1.7 0 1 0 -3.4 0zM116.9 204.4a1.7 1.7 0 1 0 3.4 0a1.7 1.7 0 1 0 -3.4 0zM118.1 204.2a1.7 1.7 0 1 0 3.4 0a1.7 1.7 0 1 0 -3.4 0zM119.2 204.1a1.7 1.7 0 1 0 3.4 0a1.7 1.7 0 1 0 -3.4 0zM120.4 203.9a1.7 1.7 0 1 0 3.4 0a1.7 1.7 0 1 0 -3.4 0zM121.6 203.7a1.7 1.7 0 1 0 3.4 0a1.7 1.7 0 1 0 -3.4 0zM122.8 203.5a1.7 1.7 0 1 0 3.4 0a1.7 1.7 0 1 0 -3.4 0zM123.9 203.4a1.7 1.7 0 1 0 3.4 0a1.7 1.7 0 1 0 -3.4 0zM125.1 203.2a1.7 1.7 0 1 0 3.4 0a1.7 1.7 0 1 0 -3.4 0zM126.3 203.1a1.7 1.7 0 1 0 3.4 0a1.7 1.7 0 1 0 -3.4 0zM127.5 203a1.7 1.7 0 1 0 3.4 0a1.7 1.7 0 1 0 -3.4 0zM128.6 203a1.7 1.7 0 1 0 3.4 0a1.7 1.7 0 1 0 -3.4 0zM129.8 203a1.7 1.7 0 1 0 3.4 0a1.7 1.7 0 1 0 -3.4 0zM131 202.9a1.7 1.7 0 1 0 3.4 0a1.7 1.7 0 1 0 -3.4 0zM132.2 202.9a1.7 1.7 0 1 0 3.4 0a1.7 1.7 0 1 0 -3.4 0zM133.3 202.9a1.7 1.7 0 1 0 3.4 0a1.7 1.7 0 1 0 -3.4 0zM134.5 202.9a1.7 1.7 0 1 0 3.4 0a1.7 1.7 0 1 0 -3.4 0zM135.7 202.8a1.7 1.7 0 1 0 3.4 0a1.7 1.7 0 1 0 -3.4 0zM136.9 202.8a1.7 1.7 0 1 0 3.4 0a1.7 1.7 0 1 0 -3.4 0zM138 202.8a1.7 1.7 0 1 0 3.4 0a1.7 1.7 0 1 0 -3.4 0zM139.2 202.8a1.7 1.7 0 1 0 3.4 0a1.7 1.7 0 1 0 -3.4 0zM140.4 202.8a1.7 1.7 0 1 0 3.4 0a1.7 1.7 0 1 0 -3.4 0zM141.6 202.8a1.7 1.7 0 1 0 3.4 0a1.7 1.7 0 1 0 -3.4 0zM142.7 202.9a1.7 1.7 0 1 0 3.4 0a1.7 1.7 0 1 0 -3.4 0zM143.9 203a1.7 1.7 0 1 0 3.4 0a1.7 1.7 0 1 0 -3.4 0zM145.1 203.1a1.7 1.7 0 1 0 3.4 0a1.7 1.7 0 1 0 -3.4 0zM146.2 203.3a1.7 1.7 0 1 0 3.4 0a1.7 1.7 0 1 0 -3.4 0zM147.4 203.5a1.7 1.7 0 1 0 3.4 0a1.7 1.7 0 1 0 -3.4 0zM148.6 203.7a1.7 1.7 0 1 0 3.4 0a1.7 1.7 0 1 0 -3.4 0zM149.8 203.9a1.7 1.7 0 1 0 3.4 0a1.7 1.7 0 1 0 -3.4 0zM150.9 204.1a1.7 1.7 0 1 0 3.4 0a1.7 1.7 0 1 0 -3.4 0zM152.1 204.4a1.7 1.7 0 1 0 3.4 0a1.7 1.7 0 1 0 -3.4 0zM153.3 204.6a1.7 1.7 0 1 0 3.4 0a1.7 1.7 0 1 0 -3.4 0zM154.5 204.8a1.7 1.7 0 1 0 3.4 0a1.7 1.7 0 1 0 -3.4 0zM155.6 205.1a1.7 1.7 0 1 0 3.4 0a1.7 1.7 0 1 0 -3.4 0zM156.8 205.4a1.7 1.7 0 1 0 3.4 0a1.7 1.7 0 1 0 -3.4 0zM158 205.7a1.7 1.7 0 1 0 3.4 0a1.7 1.7 0 1 0 -3.4 0zM159.2 206a1.7 1.7 0 1 0 3.4 0a1.7 1.7 0 1 0 -3.4 0zM160.3 206.3a1.7 1.7 0 1 0 3.4 0a1.7 1.7 0 1 0 -3.4 0zM161.5 206.6a1.7 1.7 0 1 0 3.4 0a1.7 1.7 0 1 0 -3.4 0zM162.7 207a1.7 1.7 0 1 0 3.4 0a1.7 1.7 0 1 0 -3.4 0zM163.9 207.3a1.7 1.7 0 1 0 3.4 0a1.7 1.7 0 1 0 -3.4 0zM165 207.6a1.7 1.7 0 1 0 3.4 0a1.7 1.7 0 1 0 -3.4 0zM166.2 207.9a1.7 1.7 0 1 0 3.4 0a1.7 1.7 0 1 0 -3.4 0zM167.4 208.2a1.7 1.7 0 1 0 3.4 0a1.7 1.7 0 1 0 -3.4 0zM168.6 208.5a1.7 1.7 0 1 0 3.4 0a1.7 1.7 0 1 0 -3.4 0zM169.7 208.8a1.7 1.7 0 1 0 3.4 0a1.7 1.7 0 1 0 -3.4 0zM170.9 209.2a1.7 1.7 0 1 0 3.4 0a1.7 1.7 0 1 0 -3.4 0zM172.1 209.5a1.7 1.7 0 1 0 3.4 0a1.7 1.7 0 1 0 -3.4 0zM173.2 209.8a1.7 1.7 0 1 0 3.4 0a1.7 1.7 0 1 0 -3.4 0zM174.4 210.1a1.7 1.7 0 1 0 3.4 0a1.7 1.7 0 1 0 -3.4 0zM175.6 210.4a1.7 1.7 0 1 0 3.4 0a1.7 1.7 0 1 0 -3.4 0zM176.8 210.7a1.7 1.7 0 1 0 3.4 0a1.7 1.7 0 1 0 -3.4 0zM177.9 210.9a1.7 1.7 0 1 0 3.4 0a1.7 1.7 0 1 0 -3.4 0zM179.1 211.2a1.7 1.7 0 1 0 3.4 0a1.7 1.7 0 1 0 -3.4 0zM180.3 211.4a1.7 1.7 0 1 0 3.4 0a1.7 1.7 0 1 0 -3.4 0zM181.5 211.7a1.7 1.7 0 1 0 3.4 0a1.7 1.7 0 1 0 -3.4 0zM182.6 211.9a1.7 1.7 0 1 0 3.4 0a1.7 1.7 0 1 0 -3.4 0zM183.8 212.1a1.7 1.7 0 1 0 3.4 0a1.7 1.7 0 1 0 -3.4 0zM185 212.3a1.7 1.7 0 1 0 3.4 0a1.7 1.7 0 1 0 -3.4 0zM186.2 212.6a1.7 1.7 0 1 0 3.4 0a1.7 1.7 0 1 0 -3.4 0zM187.3 212.8a1.7 1.7 0 1 0 3.4 0a1.7 1.7 0 1 0 -3.4 0zM188.5 213a1.7 1.7 0 1 0 3.4 0a1.7 1.7 0 1 0 -3.4 0zM189.7 213.1a1.7 1.7 0 1 0 3.4 0a1.7 1.7 0 1 0 -3.4 0zM190.9 213.3a1.7 1.7 0 1 0 3.4 0a1.7 1.7 0 1 0 -3.4 0zM192 213.5a1.7 1.7 0 1 0 3.4 0a1.7 1.7 0 1 0 -3.4 0zM193.2 213.6a1.7 1.7 0 1 0 3.4 0a1.7 1.7 0 1 0 -3.4 0zM194.4 213.8a1.7 1.7 0 1 0 3.4 0a1.7 1.7 0 1 0 -3.4 0zM195.6 213.9a1.7 1.7 0 1 0 3.4 0a1.7 1.7 0 1 0 -3.4 0zM196.7 214.1a1.7 1.7 0 1 0 3.4 0a1.7 1.7 0 1 0 -3.4 0zM197.9 214.2a1.7 1.7 0 1 0 3.4 0a1.7 1.7 0 1 0 -3.4 0zM199.1 214.3a1.7 1.7 0 1 0 3.4 0a1.7 1.7 0 1 0 -3.4 0zM200.2 214.5a1.7 1.7 0 1 0 3.4 0a1.7 1.7 0 1 0 -3.4 0zM201.4 214.6a1.7 1.7 0 1 0 3.4 0a1.7 1.7 0 1 0 -3.4 0zM202.6 214.7a1.7 1.7 0 1 0 3.4 0a1.7 1.7 0 1 0 -3.4 0zM203.8 214.7a1.7 1.7 0 1 0 3.4 0a1.7 1.7 0 1 0 -3.4 0zM204.9 214.8a1.7 1.7 0 1 0 3.4 0a1.7 1.7 0 1 0 -3.4 0zM206.1 214.8a1.7 1.7 0 1 0 3.4 0a1.7 1.7 0 1 0 -3.4 0zM207.3 214.9a1.7 1.7 0 1 0 3.4 0a1.7 1.7 0 1 0 -3.4 0zM208.5 215a1.7 1.7 0 1 0 3.4 0a1.7 1.7 0 1 0 -3.4 0zM209.6 215a1.7 1.7 0 1 0 3.4 0a1.7 1.7 0 1 0 -3.4 0zM210.8 215a1.7 1.7 0 1 0 3.4 0a1.7 1.7 0 1 0 -3.4 0zM212 215.1a1.7 1.7 0 1 0 3.4 0a1.7 1.7 0 1 0 -3.4 0zM213.2 215.1a1.7 1.7 0 1 0 3.4 0a1.7 1.7 0 1 0 -3.4 0zM214.3 215.2a1.7 1.7 0 1 0 3.4 0a1.7 1.7 0 1 0 -3.4 0zM215.5 215.2a1.7 1.7 0 1 0 3.4 0a1.7 1.7 0 1 0 -3.4 0zM216.7 215.2a1.7 1.7 0 1 0 3.4 0a1.7 1.7 0 1 0 -3.4 0zM217.9 215.3a1.7 1.7 0 1 0 3.4 0a1.7 1.7 0 1 0 -3.4 0zM219 215.3a1.7 1.7 0 1 0 3.4 0a1.7 1.7 0 1 0 -3.4 0zM220.2 215.3a1.7 1.7 0 1 0 3.4 0a1.7 1.7 0 1 0 -3.4 0zM221.4 215.3a1.7 1.7 0 1 0 3.4 0a1.7 1.7 0 1 0 -3.4 0zM222.6 215.4a1.7 1.7 0 1 0 3.4 0a1.7 1.7 0 1 0 -3.4 0zM223.7 215.4a1.7 1.7 0 1 0 3.4 0a1.7 1.7 0 1 0 -3.4 0zM224.9 215.4a1.7 1.7 0 1 0 3.4 0a1.7 1.7 0 1 0 -3.4 0zM226.1 215.4a1.7 1.7 0 1 0 3.4 0a1.7 1.7 0 1 0 -3.4 0zM227.2 215.5a1.7 1.7 0 1 0 3.4 0a1.7 1.7 0 1 0 -3.4 0zM228.4 215.5a1.7 1.7 0 1 0 3.4 0a1.7 1.7 0 1 0 -3.4 0zM229.6 215.5a1.7 1.7 0 1 0 3.4 0a1.7 1.7 0 1 0 -3.4 0zM230.8 215.5a1.7 1.7 0 1 0 3.4 0a1.7 1.7 0 1 0 -3.4 0zM231.9 215.6a1.7 1.7 0 1 0 3.4 0a1.7 1.7 0 1 0 -3.4 0zM233.1 215.6a1.7 1.7 0 1 0 3.4 0a1.7 1.7 0 1 0 -3.4 0zM234.3 215.6a1.7 1.7 0 1 0 3.4 0a1.7 1.7 0 1 0 -3.4 0zM235.5 215.7a1.7 1.7 0 1 0 3.4 0a1.7 1.7 0 1 0 -3.4 0zM236.6 215.7a1.7 1.7 0 1 0 3.4 0a1.7 1.7 0 1 0 -3.4 0zM237.8 215.7a1.7 1.7 0 1 0 3.4 0a1.7 1.7 0 1 0 -3.4 0zM239 215.8a1.7 1.7 0 1 0 3.4 0a1.7 1.7 0 1 0 -3.4 0zM240.2 215.8a1.7 1.7 0 1 0 3.4 0a1.7 1.7 0 1 0 -3.4 0zM241.3 215.8a1.7 1.7 0 1 0 3.4 0a1.7 1.7 0 1 0 -3.4 0zM242.5 215.9a1.7 1.7 0 1 0 3.4 0a1.7 1.7 0 1 0 -3.4 0zM243.7 215.9a1.7 1.7 0 1 0 3.4 0a1.7 1.7 0 1 0 -3.4 0zM244.9 216a1.7 1.7 0 1 0 3.4 0a1.7 1.7 0 1 0 -3.4 0zM246 216a1.7 1.7 0 1 0 3.4 0a1.7 1.7 0 1 0 -3.4 0zM247.2 216.1a1.7 1.7 0 1 0 3.4 0a1.7 1.7 0 1 0 -3.4 0zM248.4 216.1a1.7 1.7 0 1 0 3.4 0a1.7 1.7 0 1 0 -3.4 0zM249.6 216.2a1.7 1.7 0 1 0 3.4 0a1.7 1.7 0 1 0 -3.4 0zM250.7 216.2a1.7 1.7 0 1 0 3.4 0a1.7 1.7 0 1 0 -3.4 0zM251.9 216.3a1.7 1.7 0 1 0 3.4 0a1.7 1.7 0 1 0 -3.4 0zM253.1 216.4a1.7 1.7 0 1 0 3.4 0a1.7 1.7 0 1 0 -3.4 0zM254.2 216.5a1.7 1.7 0 1 0 3.4 0a1.7 1.7 0 1 0 -3.4 0zM255.4 216.5a1.7 1.7 0 1 0 3.4 0a1.7 1.7 0 1 0 -3.4 0zM256.6 216.6a1.7 1.7 0 1 0 3.4 0a1.7 1.7 0 1 0 -3.4 0zM257.8 216.7a1.7 1.7 0 1 0 3.4 0a1.7 1.7 0 1 0 -3.4 0zM258.9 216.9a1.7 1.7 0 1 0 3.4 0a1.7 1.7 0 1 0 -3.4 0zM260.1 217a1.7 1.7 0 1 0 3.4 0a1.7 1.7 0 1 0 -3.4 0zM261.3 217.2a1.7 1.7 0 1 0 3.4 0a1.7 1.7 0 1 0 -3.4 0zM262.5 217.4a1.7 1.7 0 1 0 3.4 0a1.7 1.7 0 1 0 -3.4 0zM263.6 217.6a1.7 1.7 0 1 0 3.4 0a1.7 1.7 0 1 0 -3.4 0zM264.8 217.9a1.7 1.7 0 1 0 3.4 0a1.7 1.7 0 1 0 -3.4 0zM266 218.1a1.7 1.7 0 1 0 3.4 0a1.7 1.7 0 1 0 -3.4 0zM267.2 218.4a1.7 1.7 0 1 0 3.4 0a1.7 1.7 0 1 0 -3.4 0zM268.3 218.7a1.7 1.7 0 1 0 3.4 0a1.7 1.7 0 1 0 -3.4 0zM269.5 219a1.7 1.7 0 1 0 3.4 0a1.7 1.7 0 1 0 -3.4 0zM270.7 219.4a1.7 1.7 0 1 0 3.4 0a1.7 1.7 0 1 0 -3.4 0zM271.9 219.7a1.7 1.7 0 1 0 3.4 0a1.7 1.7 0 1 0 -3.4 0zM273 220.1a1.7 1.7 0 1 0 3.4 0a1.7 1.7 0 1 0 -3.4 0zM274.2 220.6a1.7 1.7 0 1 0 3.4 0a1.7 1.7 0 1 0 -3.4 0zM275.4 221.1a1.7 1.7 0 1 0 3.4 0a1.7 1.7 0 1 0 -3.4 0zM276.6 221.6a1.7 1.7 0 1 0 3.4 0a1.7 1.7 0 1 0 -3.4 0zM277.7 222.1a1.7 1.7 0 1 0 3.4 0a1.7 1.7 0 1 0 -3.4 0zM278.9 222.5a1.7 1.7 0 1 0 3.4 0a1.7 1.7 0 1 0 -3.4 0zM280.1 223a1.7 1.7 0 1 0 3.4 0a1.7 1.7 0 1 0 -3.4 0zM281.2 223.5a1.7 1.7 0 1 0 3.4 0a1.7 1.7 0 1 0 -3.4 0zM282.4 223.9a1.7 1.7 0 1 0 3.4 0a1.7 1.7 0 1 0 -3.4 0zM283.6 224.3a1.7 1.7 0 1 0 3.4 0a1.7 1.7 0 1 0 -3.4 0zM284.8 224.6a1.7 1.7 0 1 0 3.4 0a1.7 1.7 0 1 0 -3.4 0zM285.9 224.9a1.7 1.7 0 1 0 3.4 0a1.7 1.7 0 1 0 -3.4 0zM287.1 225.3a1.7 1.7 0 1 0 3.4 0a1.7 1.7 0 1 0 -3.4 0zM288.3 225.6a1.7 1.7 0 1 0 3.4 0a1.7 1.7 0 1 0 -3.4 0zM289.5 225.9a1.7 1.7 0 1 0 3.4 0a1.7 1.7 0 1 0 -3.4 0zM290.6 226.3a1.7 1.7 0 1 0 3.4 0a1.7 1.7 0 1 0 -3.4 0zM291.8 226.7a1.7 1.7 0 1 0 3.4 0a1.7 1.7 0 1 0 -3.4 0zM293 227.1a1.7 1.7 0 1 0 3.4 0a1.7 1.7 0 1 0 -3.4 0zM294.2 227.4a1.7 1.7 0 1 0 3.4 0a1.7 1.7 0 1 0 -3.4 0zM295.3 227.8a1.7 1.7 0 1 0 3.4 0a1.7 1.7 0 1 0 -3.4 0zM296.5 228.2a1.7 1.7 0 1 0 3.4 0a1.7 1.7 0 1 0 -3.4 0zM297.7 228.6a1.7 1.7 0 1 0 3.4 0a1.7 1.7 0 1 0 -3.4 0zM298.9 229a1.7 1.7 0 1 0 3.4 0a1.7 1.7 0 1 0 -3.4 0zM300 229.4a1.7 1.7 0 1 0 3.4 0a1.7 1.7 0 1 0 -3.4 0zM301.2 229.7a1.7 1.7 0 1 0 3.4 0a1.7 1.7 0 1 0 -3.4 0zM302.4 230.1a1.7 1.7 0 1 0 3.4 0a1.7 1.7 0 1 0 -3.4 0zM303.6 230.4a1.7 1.7 0 1 0 3.4 0a1.7 1.7 0 1 0 -3.4 0zM304.7 230.8a1.7 1.7 0 1 0 3.4 0a1.7 1.7 0 1 0 -3.4 0zM305.9 231.2a1.7 1.7 0 1 0 3.4 0a1.7 1.7 0 1 0 -3.4 0zM307.1 231.5a1.7 1.7 0 1 0 3.4 0a1.7 1.7 0 1 0 -3.4 0zM308.2 231.9a1.7 1.7 0 1 0 3.4 0a1.7 1.7 0 1 0 -3.4 0zM309.4 232.2a1.7 1.7 0 1 0 3.4 0a1.7 1.7 0 1 0 -3.4 0zM310.6 232.6a1.7 1.7 0 1 0 3.4 0a1.7 1.7 0 1 0 -3.4 0zM311.8 232.9a1.7 1.7 0 1 0 3.4 0a1.7 1.7 0 1 0 -3.4 0zM312.9 233.3a1.7 1.7 0 1 0 3.4 0a1.7 1.7 0 1 0 -3.4 0zM314.1 233.6a1.7 1.7 0 1 0 3.4 0a1.7 1.7 0 1 0 -3.4 0zM315.3 234a1.7 1.7 0 1 0 3.4 0a1.7 1.7 0 1 0 -3.4 0zM316.5 234.3a1.7 1.7 0 1 0 3.4 0a1.7 1.7 0 1 0 -3.4 0zM317.6 234.7a1.7 1.7 0 1 0 3.4 0a1.7 1.7 0 1 0 -3.4 0zM318.8 235a1.7 1.7 0 1 0 3.4 0a1.7 1.7 0 1 0 -3.4 0zM320 235.4a1.7 1.7 0 1 0 3.4 0a1.7 1.7 0 1 0 -3.4 0zM321.2 235.7a1.7 1.7 0 1 0 3.4 0a1.7 1.7 0 1 0 -3.4 0zM322.3 236.1a1.7 1.7 0 1 0 3.4 0a1.7 1.7 0 1 0 -3.4 0zM323.5 236.4a1.7 1.7 0 1 0 3.4 0a1.7 1.7 0 1 0 -3.4 0zM324.7 236.8a1.7 1.7 0 1 0 3.4 0a1.7 1.7 0 1 0 -3.4 0zM325.9 237.1a1.7 1.7 0 1 0 3.4 0a1.7 1.7 0 1 0 -3.4 0zM327 237.5a1.7 1.7 0 1 0 3.4 0a1.7 1.7 0 1 0 -3.4 0zM328.2 237.8a1.7 1.7 0 1 0 3.4 0a1.7 1.7 0 1 0 -3.4 0zM329.4 238.2a1.7 1.7 0 1 0 3.4 0a1.7 1.7 0 1 0 -3.4 0zM330.6 238.5a1.7 1.7 0 1 0 3.4 0a1.7 1.7 0 1 0 -3.4 0zM331.7 238.9a1.7 1.7 0 1 0 3.4 0a1.7 1.7 0 1 0 -3.4 0zM332.9 239.3a1.7 1.7 0 1 0 3.4 0a1.7 1.7 0 1 0 -3.4 0zM334.1 239.6a1.7 1.7 0 1 0 3.4 0a1.7 1.7 0 1 0 -3.4 0zM335.2 240a1.7 1.7 0 1 0 3.4 0a1.7 1.7 0 1 0 -3.4 0zM336.4 240.3a1.7 1.7 0 1 0 3.4 0a1.7 1.7 0 1 0 -3.4 0zM337.6 240.7a1.7 1.7 0 1 0 3.4 0a1.7 1.7 0 1 0 -3.4 0zM338.8 241a1.7 1.7 0 1 0 3.4 0a1.7 1.7 0 1 0 -3.4 0zM339.9 241.4a1.7 1.7 0 1 0 3.4 0a1.7 1.7 0 1 0 -3.4 0zM341.1 241.8a1.7 1.7 0 1 0 3.4 0a1.7 1.7 0 1 0 -3.4 0zM342.3 242.1a1.7 1.7 0 1 0 3.4 0a1.7 1.7 0 1 0 -3.4 0zM343.5 242.4a1.7 1.7 0 1 0 3.4 0a1.7 1.7 0 1 0 -3.4 0zM344.6 242.8a1.7 1.7 0 1 0 3.4 0a1.7 1.7 0 1 0 -3.4 0zM345.8 243.1a1.7 1.7 0 1 0 3.4 0a1.7 1.7 0 1 0 -3.4 0zM347 243.5a1.7 1.7 0 1 0 3.4 0a1.7 1.7 0 1 0 -3.4 0zM348.2 243.8a1.7 1.7 0 1 0 3.4 0a1.7 1.7 0 1 0 -3.4 0zM349.3 244.2a1.7 1.7 0 1 0 3.4 0a1.7 1.7 0 1 0 -3.4 0zM350.5 244.5a1.7 1.7 0 1 0 3.4 0a1.7 1.7 0 1 0 -3.4 0zM351.7 244.8a1.7 1.7 0 1 0 3.4 0a1.7 1.7 0 1 0 -3.4 0zM352.9 245.2a1.7 1.7 0 1 0 3.4 0a1.7 1.7 0 1 0 -3.4 0zM354 245.5a1.7 1.7 0 1 0 3.4 0a1.7 1.7 0 1 0 -3.4 0zM355.2 245.8a1.7 1.7 0 1 0 3.4 0a1.7 1.7 0 1 0 -3.4 0zM356.4 246.1a1.7 1.7 0 1 0 3.4 0a1.7 1.7 0 1 0 -3.4 0zM357.6 246.4a1.7 1.7 0 1 0 3.4 0a1.7 1.7 0 1 0 -3.4 0zM358.7 246.7a1.7 1.7 0 1 0 3.4 0a1.7 1.7 0 1 0 -3.4 0zM359.9 247a1.7 1.7 0 1 0 3.4 0a1.7 1.7 0 1 0 -3.4 0zM361.1 247.3a1.7 1.7 0 1 0 3.4 0a1.7 1.7 0 1 0 -3.4 0zM362.2 247.5a1.7 1.7 0 1 0 3.4 0a1.7 1.7 0 1 0 -3.4 0zM363.4 247.8a1.7 1.7 0 1 0 3.4 0a1.7 1.7 0 1 0 -3.4 0zM364.6 248a1.7 1.7 0 1 0 3.4 0a1.7 1.7 0 1 0 -3.4 0zM365.8 248.3a1.7 1.7 0 1 0 3.4 0a1.7 1.7 0 1 0 -3.4 0z"/>
<path fill="none" stroke="#e62f3f" stroke-opacity="0.45" stroke-width="0.6" d="M111.9 205.3a2 2 0 1 0 4 0a2 2 0 1 0 -4 0zM114.2 204.8a2 2 0 1 0 4 0a2 2 0 1 0 -4 0zM116.6 204.4a2 2 0 1 0 4 0a2 2 0 1 0 -4 0zM118.9 204.1a2 2 0 1 0 4 0a2 2 0 1 0 -4 0zM121.3 203.7a2 2 0 1 0 4 0a2 2 0 1 0 -4 0zM123.6 203.4a2 2 0 1 0 4 0a2 2 0 1 0 -4 0zM126 203.1a2 2 0 1 0 4 0a2 2 0 1 0 -4 0zM128.3 203a2 2 0 1 0 4 0a2 2 0 1 0 -4 0zM130.7 202.9a2 2 0 1 0 4 0a2 2 0 1 0 -4 0zM133 202.9a2 2 0 1 0 4 0a2 2 0 1 0 -4 0zM135.4 202.8a2 2 0 1 0 4 0a2 2 0 1 0 -4 0zM137.7 202.8a2 2 0 1 0 4 0a2 2 0 1 0 -4 0zM140.1 202.8a2 2 0 1 0 4 0a2 2 0 1 0 -4 0zM142.4 202.9a2 2 0 1 0 4 0a2 2 0 1 0 -4 0zM144.7 203.1a2 2 0 1 0 4 0a2 2 0 1 0 -4 0zM147.1 203.5a2 2 0 1 0 4 0a2 2 0 1 0 -4 0zM149.4 203.9a2 2 0 1 0 4 0a2 2 0 1 0 -4 0zM151.8 204.4a2 2 0 1 0 4 0a2 2 0 1 0 -4 0zM154.1 204.8a2 2 0 1 0 4 0a2 2 0 1 0 -4 0zM156.5 205.4a2 2 0 1 0 4 0a2 2 0 1 0 -4 0zM158.8 206a2 2 0 1 0 4 0a2 2 0 1 0 -4 0zM161.2 206.6a2 2 0 1 0 4 0a2 2 0 1 0 -4 0zM163.5 207.3a2 2 0 1 0 4 0a2 2 0 1 0 -4 0zM165.9 207.9a2 2 0 1 0 4 0a2 2 0 1 0 -4 0zM168.2 208.5a2 2 0 1 0 4 0a2 2 0 1 0 -4 0zM170.6 209.2a2 2 0 1 0 4 0a2 2 0 1 0 -4 0zM172.9 209.8a2 2 0 1 0 4 0a2 2 0 1 0 -4 0zM175.3 210.4a2 2 0 1 0 4 0a2 2 0 1 0 -4 0zM177.6 210.9a2 2 0 1 0 4 0a2 2 0 1 0 -4 0zM180 211.4a2 2 0 1 0 4 0a2 2 0 1 0 -4 0zM182.3 211.9a2 2 0 1 0 4 0a2 2 0 1 0 -4 0zM184.7 212.3a2 2 0 1 0 4 0a2 2 0 1 0 -4 0zM187 212.8a2 2 0 1 0 4 0a2 2 0 1 0 -4 0zM189.4 213.1a2 2 0 1 0 4 0a2 2 0 1 0 -4 0zM191.7 213.5a2 2 0 1 0 4 0a2 2 0 1 0 -4 0zM194.1 213.8a2 2 0 1 0 4 0a2 2 0 1 0 -4 0zM196.4 214.1a2 2 0 1 0 4 0a2 2 0 1 0 -4 0zM198.7 214.3a2 2 0 1 0 4 0a2 2 0 1 0 -4 0zM201.1 214.6a2 2 0 1 0 4 0a2 2 0 1 0 -4 0zM203.4 214.7a2 2 0 1 0 4 0a2 2 0 1 0 -4 0zM205.8 214.8a2 2 0 1 0 4 0a2 2 0 1 0 -4 0zM208.1 215a2 2 0 1 0 4 0a2 2 0 1 0 -4 0zM210.5 215a2 2 0 1 0 4 0a2 2 0 1 0 -4 0zM212.8 215.1a2 2 0 1 0 4 0a2 2 0 1 0 -4 0zM215.2 215.2a2 2 0 1 0 4 0a2 2 0 1 0 -4 0zM217.5 215.3a2 2 0 1 0 4 0a2 2 0 1 0 -4 0zM219.9 215.3a2 2 0 1 0 4 0a2 2 0 1 0 -4 0zM222.2 215.4a2 2 0 1 0 4 0a2 2 0 1 0 -4 0zM224.6 215.4a2 2 0 1 0 4 0a2 2 0 1 0 -4 0zM226.9 215.5a2 2 0 1 0 4 0a2 2 0 1 0 -4 0zM229.3 215.5a2 2 0 1 0 4 0a2 2 0 1 0 -4 0zM231.6 215.6a2 2 0 1 0 4 0a2 2 0 1 0 -4 0zM234 215.6a2 2 0 1 0 4 0a2 2 0 1 0 -4 0zM236.3 215.7a2 2 0 1 0 4 0a2 2 0 1 0 -4 0zM238.7 215.8a2 2 0 1 0 4 0a2 2 0 1 0 -4 0zM241 215.8a2 2 0 1 0 4 0a2 2 0 1 0 -4 0zM243.4 215.9a2 2 0 1 0 4 0a2 2 0 1 0 -4 0zM245.7 216a2 2 0 1 0 4 0a2 2 0 1 0 -4 0zM248.1 216.1a2 2 0 1 0 4 0a2 2 0 1 0 -4 0zM250.4 216.2a2 2 0 1 0 4 0a2 2 0 1 0 -4 0zM252.7 216.4a2 2 0 1 0 4 0a2 2 0 1 0 -4 0zM255.1 216.5a2 2 0 1 0 4 0a2 2 0 1 0 -4 0zM257.4 216.7a2 2 0 1 0 4 0a2 2 0 1 0 -4 0zM259.8 217a2 2 0 1 0 4 0a2 2 0 1 0 -4 0zM262.1 217.4a2 2 0 1 0 4 0a2 2 0 1 0 -4 0zM264.5 217.9a2 2 0 1 0 4 0a2 2 0 1 0 -4 0zM266.8 218.4a2 2 0 1 0 4 0a2 2 0 1 0 -4 0zM269.2 219a2 2 0 1 0 4 0a2 2 0 1 0 -4 0zM271.5 219.7a2 2 0 1 0 4 0a2 2 0 1 0 -4 0zM273.9 220.6a2 2 0 1 0 4 0a2 2 0 1 0 -4 0zM276.2 221.6a2 2 0 1 0 4 0a2 2 0 1 0 -4 0zM278.6 222.5a2 2 0 1 0 4 0a2 2 0 1 0 -4 0zM280.9 223.5a2 2 0 1 0 4 0a2 2 0 1 0 -4 0zM283.3 224.3a2 2 0 1 0 4 0a2 2 0 1 0 -4 0zM285.6 224.9a2 2 0 1 0 4 0a2 2 0 1 0 -4 0zM288 225.6a2 2 0 1 0 4 0a2 2 0 1 0 -4 0zM290.3 226.3a2 2 0 1 0 4 0a2 2 0 1 0 -4 0zM292.7 227.1a2 2 0 1 0 4 0a2 2 0 1 0 -4 0zM295 227.8a2 2 0 1 0 4 0a2 2 0 1 0 -4 0zM297.4 228.6a2 2 0 1 0 4 0a2 2 0 1 0 -4 0zM299.7 229.4a2 2 0 1 0 4 0a2 2 0 1 0 -4 0zM302.1 230.1a2 2 0 1 0 4 0a2 2 0 1 0 -4 0zM304.4 230.8a2 2 0 1 0 4 0a2 2 0 1 0 -4 0zM306.7 231.5a2 2 0 1 0 4 0a2 2 0 1 0 -4 0zM309.1 232.2a2 2 0 1 0 4 0a2 2 0 1 0 -4 0zM311.4 232.9a2 2 0 1 0 4 0a2 2 0 1 0 -4 0zM313.8 233.6a2 2 0 1 0 4 0a2 2 0 1 0 -4 0zM316.1 234.3a2 2 0 1 0 4 0a2 2 0 1 0 -4 0zM318.5 235a2 2 0 1 0 4 0a2 2 0 1 0 -4 0zM320.8 235.7a2 2 0 1 0 4 0a2 2 0 1 0 -4 0zM323.2 236.4a2 2 0 1 0 4 0a2 2 0 1 0 -4 0zM325.5 237.1a2 2 0 1 0 4 0a2 2 0 1 0 -4 0zM327.9 237.8a2 2 0 1 0 4 0a2 2 0 1 0 -4 0zM330.2 238.5a2 2 0 1 0 4 0a2 2 0 1 0 -4 0zM332.6 239.3a2 2 0 1 0 4 0a2 2 0 1 0 -4 0zM334.9 240a2 2 0 1 0 4 0a2 2 0 1 0 -4 0zM337.3 240.7a2 2 0 1 0 4 0a2 2 0 1 0 -4 0zM339.6 241.4a2 2 0 1 0 4 0a2 2 0 1 0 -4 0zM342 242.1a2 2 0 1 0 4 0a2 2 0 1 0 -4 0zM344.3 242.8a2 2 0 1 0 4 0a2 2 0 1 0 -4 0zM346.7 243.5a2 2 0 1 0 4 0a2 2 0 1 0 -4 0zM349 244.2a2 2 0 1 0 4 0a2 2 0 1 0 -4 0zM351.4 244.8a2 2 0 1 0 4 0a2 2 0 1 0 -4 0zM353.7 245.5a2 2 0 1 0 4 0a2 2 0 1 0 -4 0zM356.1 246.1a2 2 0 1 0 4 0a2 2 0 1 0 -4 0zM358.4 246.7a2 2 0 1 0 4 0a2 2 0 1 0 -4 0zM360.7 247.3a2 2 0 1 0 4 0a2 2 0 1 0 -4 0zM363.1 247.8a2 2 0 1 0 4 0a2 2 0 1 0 -4 0zM365.4 248.3a2 2 0 1 0 4 0a2 2 0 1 0 -4 0z"/>
<path d="M365.2 248.3a2.2 2.2 0 1 0 4.4 0a2.2 2.2 0 1 0 -4.4 0z" fill="#fff" stroke="#e62f3f" stroke-width="1.05"/></g>
<g id="b-navy"><path fill="#1b2759" stroke="#1b2759" stroke-width="0.95" d="M111.4 209.1h5v5h-5zM112.6 209.2h5v5h-5zM113.7 209.4h5v5h-5zM114.9 209.5h5v5h-5zM116.1 209.7h5v5h-5zM117.2 209.9h5v5h-5zM118.4 210h5v5h-5zM119.6 210.2h5v5h-5zM120.8 210.4h5v5h-5zM121.9 210.6h5v5h-5zM123.1 210.8h5v5h-5zM124.3 211h5v5h-5zM125.5 211.2h5v5h-5zM126.6 211.4h5v5h-5zM127.8 211.6h5v5h-5zM129 211.8h5v5h-5zM130.2 212h5v5h-5zM131.3 212.2h5v5h-5zM132.5 212.4h5v5h-5zM133.7 212.6h5v5h-5zM134.9 212.9h5v5h-5zM136 213.1h5v5h-5zM137.2 213.3h5v5h-5zM138.4 213.6h5v5h-5zM139.6 213.8h5v5h-5zM140.7 214.1h5v5h-5zM141.9 214.3h5v5h-5zM143.1 214.6h5v5h-5zM144.2 214.8h5v5h-5zM145.4 215.1h5v5h-5zM146.6 215.4h5v5h-5zM147.8 215.7h5v5h-5zM148.9 215.9h5v5h-5zM150.1 216.2h5v5h-5zM151.3 216.5h5v5h-5zM152.5 216.7h5v5h-5zM153.6 217h5v5h-5zM154.8 217.3h5v5h-5zM156 217.6h5v5h-5zM157.2 217.8h5v5h-5zM158.3 218.1h5v5h-5zM159.5 218.3h5v5h-5zM160.7 218.6h5v5h-5zM161.9 218.9h5v5h-5zM163 219.1h5v5h-5zM164.2 219.3h5v5h-5zM165.4 219.6h5v5h-5zM166.6 219.8h5v5h-5zM167.7 220h5v5h-5zM168.9 220.3h5v5h-5zM170.1 220.5h5v5h-5zM171.2 220.7h5v5h-5zM172.4 220.9h5v5h-5zM173.6 221.1h5v5h-5zM174.8 221.3h5v5h-5zM175.9 221.5h5v5h-5zM177.1 221.7h5v5h-5zM178.3 221.8h5v5h-5zM179.5 221.9h5v5h-5zM180.6 222.1h5v5h-5zM181.8 222.2h5v5h-5zM183 222.3h5v5h-5zM184.2 222.5h5v5h-5zM185.3 222.6h5v5h-5zM186.5 222.6h5v5h-5zM187.7 222.7h5v5h-5zM188.9 222.8h5v5h-5zM190 222.8h5v5h-5zM191.2 222.8h5v5h-5zM192.4 222.8h5v5h-5zM193.6 222.8h5v5h-5zM194.7 222.9h5v5h-5zM195.9 222.9h5v5h-5zM197.1 222.9h5v5h-5zM198.2 222.9h5v5h-5zM199.4 222.9h5v5h-5zM200.6 222.9h5v5h-5zM201.8 222.9h5v5h-5zM202.9 222.9h5v5h-5zM204.1 222.9h5v5h-5zM205.3 222.8h5v5h-5zM206.5 222.8h5v5h-5zM207.6 222.7h5v5h-5zM208.8 222.6h5v5h-5zM210 222.5h5v5h-5zM211.2 222.4h5v5h-5zM212.3 222.3h5v5h-5zM213.5 222.1h5v5h-5zM214.7 222h5v5h-5zM215.9 221.9h5v5h-5zM217 221.8h5v5h-5zM218.2 221.6h5v5h-5zM219.4 221.5h5v5h-5zM220.6 221.3h5v5h-5zM221.7 221.2h5v5h-5zM222.9 221h5v5h-5zM224.1 220.8h5v5h-5zM225.2 220.7h5v5h-5zM226.4 220.5h5v5h-5zM227.6 220.4h5v5h-5zM228.8 220.3h5v5h-5zM229.9 220.1h5v5h-5zM231.1 220h5v5h-5zM232.3 219.8h5v5h-5zM233.5 219.7h5v5h-5zM234.6 219.5h5v5h-5zM235.8 219.4h5v5h-5zM237 219.3h5v5h-5zM238.2 219.2h5v5h-5zM239.3 219.1h5v5h-5zM240.5 219h5v5h-5zM241.7 218.9h5v5h-5zM242.9 218.8h5v5h-5zM244 218.8h5v5h-5zM245.2 218.8h5v5h-5zM246.4 218.8h5v5h-5zM247.6 218.8h5v5h-5zM248.7 218.8h5v5h-5zM249.9 218.8h5v5h-5zM251.1 218.8h5v5h-5zM252.2 218.8h5v5h-5zM253.4 218.8h5v5h-5zM254.6 218.8h5v5h-5zM255.8 218.8h5v5h-5zM256.9 218.8h5v5h-5zM258.1 218.8h5v5h-5zM259.3 218.8h5v5h-5zM260.5 218.9h5v5h-5zM261.6 218.9h5v5h-5zM262.8 219h5v5h-5zM264 219.1h5v5h-5zM265.2 219.2h5v5h-5zM266.3 219.3h5v5h-5zM267.5 219.4h5v5h-5zM268.7 219.6h5v5h-5zM269.9 219.7h5v5h-5zM271 219.8h5v5h-5zM272.2 220h5v5h-5zM273.4 220.2h5v5h-5zM274.6 220.4h5v5h-5zM275.7 220.6h5v5h-5zM276.9 220.9h5v5h-5zM278.1 221.1h5v5h-5zM279.2 221.4h5v5h-5zM280.4 221.7h5v5h-5zM281.6 222h5v5h-5zM282.8 222.2h5v5h-5zM283.9 222.6h5v5h-5zM285.1 222.9h5v5h-5zM286.3 223.2h5v5h-5zM287.5 223.5h5v5h-5zM288.6 223.8h5v5h-5zM289.8 224.2h5v5h-5zM291 224.5h5v5h-5zM292.2 224.9h5v5h-5zM293.3 225.3h5v5h-5zM294.5 225.6h5v5h-5zM295.7 226h5v5h-5zM296.9 226.4h5v5h-5zM298 226.8h5v5h-5zM299.2 227.2h5v5h-5zM300.4 227.5h5v5h-5zM301.6 227.9h5v5h-5zM302.7 228.2h5v5h-5zM303.9 228.6h5v5h-5zM305.1 229h5v5h-5zM306.2 229.3h5v5h-5zM307.4 229.7h5v5h-5zM308.6 230h5v5h-5zM309.8 230.4h5v5h-5zM310.9 230.7h5v5h-5zM312.1 231.1h5v5h-5zM313.3 231.4h5v5h-5zM314.5 231.8h5v5h-5zM315.6 232.1h5v5h-5zM316.8 232.5h5v5h-5zM318 232.8h5v5h-5zM319.2 233.2h5v5h-5zM320.3 233.5h5v5h-5zM321.5 233.9h5v5h-5zM322.7 234.2h5v5h-5zM323.9 234.6h5v5h-5zM325 234.9h5v5h-5zM326.2 235.3h5v5h-5zM327.4 235.6h5v5h-5zM328.6 236h5v5h-5zM329.7 236.3h5v5h-5zM330.9 236.7h5v5h-5zM332.1 237h5v5h-5zM333.2 237.4h5v5h-5zM334.4 237.8h5v5h-5zM335.6 238.1h5v5h-5zM336.8 238.5h5v5h-5zM337.9 238.8h5v5h-5zM339.1 239.2h5v5h-5zM340.3 239.5h5v5h-5zM341.5 239.9h5v5h-5zM342.6 240.2h5v5h-5zM343.8 240.6h5v5h-5zM345 240.9h5v5h-5zM346.2 241.3h5v5h-5zM347.3 241.6h5v5h-5zM348.5 242h5v5h-5zM349.7 242.3h5v5h-5zM350.9 242.6h5v5h-5zM352 243h5v5h-5zM353.2 243.3h5v5h-5zM354.4 243.7h5v5h-5zM355.6 244h5v5h-5zM356.7 244.3h5v5h-5zM357.9 244.7h5v5h-5zM359.1 245h5v5h-5zM360.2 245.3h5v5h-5zM361.4 245.7h5v5h-5zM362.6 246h5v5h-5zM363.8 246.3h5v5h-5zM364.9 246.6h5v5h-5z"/>
<path fill="#b4bace" d="M111.9 209.5h4v4h-4zM113 209.7h4v4h-4zM114.2 209.8h4v4h-4zM115.4 210h4v4h-4zM116.6 210.2h4v4h-4zM117.7 210.4h4v4h-4zM118.9 210.5h4v4h-4zM120.1 210.7h4v4h-4zM121.2 210.9h4v4h-4zM122.4 211.1h4v4h-4zM123.6 211.3h4v4h-4zM124.8 211.4h4v4h-4zM125.9 211.6h4v4h-4zM127.1 211.8h4v4h-4zM128.3 212h4v4h-4zM129.5 212.2h4v4h-4zM130.6 212.4h4v4h-4zM131.8 212.7h4v4h-4zM133 212.9h4v4h-4zM134.2 213.1h4v4h-4zM135.3 213.3h4v4h-4zM136.5 213.6h4v4h-4zM137.7 213.8h4v4h-4zM138.9 214h4v4h-4zM140 214.3h4v4h-4zM141.2 214.5h4v4h-4zM142.4 214.8h4v4h-4zM143.6 215.1h4v4h-4zM144.7 215.3h4v4h-4zM145.9 215.6h4v4h-4zM147.1 215.9h4v4h-4zM148.2 216.1h4v4h-4zM149.4 216.4h4v4h-4zM150.6 216.7h4v4h-4zM151.8 217h4v4h-4zM152.9 217.2h4v4h-4zM154.1 217.5h4v4h-4zM155.3 217.8h4v4h-4zM156.5 218h4v4h-4zM157.6 218.3h4v4h-4zM158.8 218.6h4v4h-4zM160 218.8h4v4h-4zM161.2 219.1h4v4h-4zM162.3 219.3h4v4h-4zM163.5 219.6h4v4h-4zM164.7 219.8h4v4h-4zM165.9 220h4v4h-4zM167 220.3h4v4h-4zM168.2 220.5h4v4h-4zM169.4 220.7h4v4h-4zM170.6 221h4v4h-4zM171.7 221.2h4v4h-4zM172.9 221.4h4v4h-4zM174.1 221.6h4v4h-4zM175.2 221.8h4v4h-4zM176.4 222h4v4h-4zM177.6 222.1h4v4h-4zM178.8 222.3h4v4h-4zM179.9 222.4h4v4h-4zM181.1 222.5h4v4h-4zM182.3 222.7h4v4h-4zM183.5 222.8h4v4h-4zM184.6 222.9h4v4h-4zM185.8 223h4v4h-4zM187 223.1h4v4h-4zM188.2 223.2h4v4h-4zM189.3 223.2h4v4h-4zM190.5 223.3h4v4h-4zM191.7 223.3h4v4h-4zM192.9 223.3h4v4h-4zM194 223.3h4v4h-4zM195.2 223.3h4v4h-4zM196.4 223.3h4v4h-4zM197.6 223.4h4v4h-4zM198.7 223.4h4v4h-4zM199.9 223.4h4v4h-4zM201.1 223.4h4v4h-4zM202.2 223.4h4v4h-4zM203.4 223.4h4v4h-4zM204.6 223.4h4v4h-4zM205.8 223.3h4v4h-4zM206.9 223.2h4v4h-4zM208.1 223.2h4v4h-4zM209.3 223.1h4v4h-4zM210.5 223h4v4h-4zM211.6 222.8h4v4h-4zM212.8 222.7h4v4h-4zM214 222.6h4v4h-4zM215.2 222.5h4v4h-4zM216.3 222.4h4v4h-4zM217.5 222.3h4v4h-4zM218.7 222.1h4v4h-4zM219.9 222h4v4h-4zM221 221.8h4v4h-4zM222.2 221.6h4v4h-4zM223.4 221.5h4v4h-4zM224.5 221.3h4v4h-4zM225.7 221.1h4v4h-4zM226.9 221h4v4h-4zM228.1 220.9h4v4h-4zM229.2 220.7h4v4h-4zM230.4 220.6h4v4h-4zM231.6 220.5h4v4h-4zM232.8 220.3h4v4h-4zM233.9 220.2h4v4h-4zM235.1 220h4v4h-4zM236.3 219.9h4v4h-4zM237.5 219.8h4v4h-4zM238.6 219.6h4v4h-4zM239.8 219.5h4v4h-4zM241 219.4h4v4h-4zM242.2 219.4h4v4h-4zM243.3 219.3h4v4h-4zM244.5 219.3h4v4h-4zM245.7 219.3h4v4h-4zM246.9 219.3h4v4h-4zM248 219.3h4v4h-4zM249.2 219.3h4v4h-4zM250.4 219.3h4v4h-4zM251.5 219.3h4v4h-4zM252.7 219.3h4v4h-4zM253.9 219.3h4v4h-4zM255.1 219.3h4v4h-4zM256.2 219.3h4v4h-4zM257.4 219.3h4v4h-4zM258.6 219.3h4v4h-4zM259.8 219.3h4v4h-4zM260.9 219.3h4v4h-4zM262.1 219.4h4v4h-4zM263.3 219.5h4v4h-4zM264.5 219.6h4v4h-4zM265.6 219.7h4v4h-4zM266.8 219.8h4v4h-4zM268 219.9h4v4h-4zM269.2 220h4v4h-4zM270.3 220.2h4v4h-4zM271.5 220.3h4v4h-4zM272.7 220.5h4v4h-4zM273.9 220.7h4v4h-4zM275 220.9h4v4h-4zM276.2 221.1h4v4h-4zM277.4 221.4h4v4h-4zM278.5 221.6h4v4h-4zM279.7 221.9h4v4h-4zM280.9 222.1h4v4h-4zM282.1 222.4h4v4h-4zM283.2 222.7h4v4h-4zM284.4 223h4v4h-4zM285.6 223.3h4v4h-4zM286.8 223.6h4v4h-4zM287.9 224h4v4h-4zM289.1 224.3h4v4h-4zM290.3 224.6h4v4h-4zM291.5 225h4v4h-4zM292.6 225.4h4v4h-4zM293.8 225.7h4v4h-4zM295 226.1h4v4h-4zM296.2 226.5h4v4h-4zM297.3 226.9h4v4h-4zM298.5 227.3h4v4h-4zM299.7 227.6h4v4h-4zM300.9 228h4v4h-4zM302 228.4h4v4h-4zM303.2 228.7h4v4h-4zM304.4 229.1h4v4h-4zM305.5 229.4h4v4h-4zM306.7 229.8h4v4h-4zM307.9 230.1h4v4h-4zM309.1 230.5h4v4h-4zM310.2 230.9h4v4h-4zM311.4 231.2h4v4h-4zM312.6 231.6h4v4h-4zM313.8 231.9h4v4h-4zM314.9 232.3h4v4h-4zM316.1 232.6h4v4h-4zM317.3 233h4v4h-4zM318.5 233.3h4v4h-4zM319.6 233.6h4v4h-4zM320.8 234h4v4h-4zM322 234.3h4v4h-4zM323.2 234.7h4v4h-4zM324.3 235h4v4h-4zM325.5 235.4h4v4h-4zM326.7 235.7h4v4h-4zM327.9 236.1h4v4h-4zM329 236.4h4v4h-4zM330.2 236.8h4v4h-4zM331.4 237.2h4v4h-4zM332.5 237.5h4v4h-4zM333.7 237.9h4v4h-4zM334.9 238.2h4v4h-4zM336.1 238.6h4v4h-4zM337.2 239h4v4h-4zM338.4 239.3h4v4h-4zM339.6 239.7h4v4h-4zM340.8 240h4v4h-4zM341.9 240.4h4v4h-4zM343.1 240.7h4v4h-4zM344.3 241.1h4v4h-4zM345.5 241.4h4v4h-4zM346.6 241.8h4v4h-4zM347.8 242.1h4v4h-4zM349 242.4h4v4h-4zM350.2 242.8h4v4h-4zM351.3 243.1h4v4h-4zM352.5 243.5h4v4h-4zM353.7 243.8h4v4h-4zM354.9 244.1h4v4h-4zM356 244.5h4v4h-4zM357.2 244.8h4v4h-4zM358.4 245.1h4v4h-4zM359.5 245.5h4v4h-4zM360.7 245.8h4v4h-4zM361.9 246.1h4v4h-4zM363.1 246.5h4v4h-4zM364.2 246.8h4v4h-4zM365.4 247.1h4v4h-4z"/>
<path fill="none" stroke="#1b2759" stroke-opacity="0.42" stroke-width="0.6" d="M111.6 209.3h4.6v4.6h-4.6zM113.9 209.6h4.6v4.6h-4.6zM116.3 209.9h4.6v4.6h-4.6zM118.6 210.2h4.6v4.6h-4.6zM121 210.6h4.6v4.6h-4.6zM123.3 211h4.6v4.6h-4.6zM125.7 211.4h4.6v4.6h-4.6zM128 211.8h4.6v4.6h-4.6zM130.4 212.2h4.6v4.6h-4.6zM132.7 212.6h4.6v4.6h-4.6zM135.1 213.1h4.6v4.6h-4.6zM137.4 213.5h4.6v4.6h-4.6zM139.8 214h4.6v4.6h-4.6zM142.1 214.5h4.6v4.6h-4.6zM144.4 215h4.6v4.6h-4.6zM146.8 215.6h4.6v4.6h-4.6zM149.1 216.1h4.6v4.6h-4.6zM151.5 216.7h4.6v4.6h-4.6zM153.8 217.2h4.6v4.6h-4.6zM156.2 217.8h4.6v4.6h-4.6zM158.5 218.3h4.6v4.6h-4.6zM160.9 218.8h4.6v4.6h-4.6zM163.2 219.3h4.6v4.6h-4.6zM165.6 219.8h4.6v4.6h-4.6zM167.9 220.2h4.6v4.6h-4.6zM170.3 220.7h4.6v4.6h-4.6zM172.6 221.1h4.6v4.6h-4.6zM175 221.5h4.6v4.6h-4.6zM177.3 221.9h4.6v4.6h-4.6zM179.7 222.1h4.6v4.6h-4.6zM182 222.4h4.6v4.6h-4.6zM184.4 222.7h4.6v4.6h-4.6zM186.7 222.8h4.6v4.6h-4.6zM189.1 223h4.6v4.6h-4.6zM191.4 223h4.6v4.6h-4.6zM193.8 223h4.6v4.6h-4.6zM196.1 223.1h4.6v4.6h-4.6zM198.4 223.1h4.6v4.6h-4.6zM200.8 223.1h4.6v4.6h-4.6zM203.1 223.1h4.6v4.6h-4.6zM205.5 223h4.6v4.6h-4.6zM207.8 222.9h4.6v4.6h-4.6zM210.2 222.7h4.6v4.6h-4.6zM212.5 222.5h4.6v4.6h-4.6zM214.9 222.2h4.6v4.6h-4.6zM217.2 222h4.6v4.6h-4.6zM219.6 221.7h4.6v4.6h-4.6zM221.9 221.4h4.6v4.6h-4.6zM224.3 221h4.6v4.6h-4.6zM226.6 220.7h4.6v4.6h-4.6zM229 220.5h4.6v4.6h-4.6zM231.3 220.2h4.6v4.6h-4.6zM233.7 219.9h4.6v4.6h-4.6zM236 219.6h4.6v4.6h-4.6zM238.4 219.4h4.6v4.6h-4.6zM240.7 219.2h4.6v4.6h-4.6zM243.1 219h4.6v4.6h-4.6zM245.4 219h4.6v4.6h-4.6zM247.8 219h4.6v4.6h-4.6zM250.1 219h4.6v4.6h-4.6zM252.4 219h4.6v4.6h-4.6zM254.8 219h4.6v4.6h-4.6zM257.1 219h4.6v4.6h-4.6zM259.5 219h4.6v4.6h-4.6zM261.8 219.1h4.6v4.6h-4.6zM264.2 219.3h4.6v4.6h-4.6zM266.5 219.5h4.6v4.6h-4.6zM268.9 219.8h4.6v4.6h-4.6zM271.2 220h4.6v4.6h-4.6zM273.6 220.4h4.6v4.6h-4.6zM275.9 220.8h4.6v4.6h-4.6zM278.3 221.3h4.6v4.6h-4.6zM280.6 221.9h4.6v4.6h-4.6zM283 222.4h4.6v4.6h-4.6zM285.3 223.1h4.6v4.6h-4.6zM287.7 223.7h4.6v4.6h-4.6zM290 224.4h4.6v4.6h-4.6zM292.4 225.1h4.6v4.6h-4.6zM294.7 225.8h4.6v4.6h-4.6zM297.1 226.6h4.6v4.6h-4.6zM299.4 227.4h4.6v4.6h-4.6zM301.8 228.1h4.6v4.6h-4.6zM304.1 228.8h4.6v4.6h-4.6zM306.4 229.5h4.6v4.6h-4.6zM308.8 230.2h4.6v4.6h-4.6zM311.1 230.9h4.6v4.6h-4.6zM313.5 231.6h4.6v4.6h-4.6zM315.8 232.3h4.6v4.6h-4.6zM318.2 233h4.6v4.6h-4.6zM320.5 233.7h4.6v4.6h-4.6zM322.9 234.4h4.6v4.6h-4.6zM325.2 235.1h4.6v4.6h-4.6zM327.6 235.8h4.6v4.6h-4.6zM329.9 236.5h4.6v4.6h-4.6zM332.3 237.2h4.6v4.6h-4.6zM334.6 238h4.6v4.6h-4.6zM337 238.7h4.6v4.6h-4.6zM339.3 239.4h4.6v4.6h-4.6zM341.7 240.1h4.6v4.6h-4.6zM344 240.8h4.6v4.6h-4.6zM346.4 241.5h4.6v4.6h-4.6zM348.7 242.2h4.6v4.6h-4.6zM351.1 242.8h4.6v4.6h-4.6zM353.4 243.5h4.6v4.6h-4.6zM355.8 244.2h4.6v4.6h-4.6zM358.1 244.9h4.6v4.6h-4.6zM360.4 245.5h4.6v4.6h-4.6zM362.8 246.2h4.6v4.6h-4.6zM365.1 246.8h4.6v4.6h-4.6z"/>
<path d="M364.9 246.6h5v5h-5z" fill="#fff" stroke="#1b2759" stroke-width="0.95"/></g>
<g id="b-blue"><path fill="#2f55b8" stroke="#2f55b8" stroke-width="1.0" d="M111.2 214.3l2.7 -2.7l2.7 2.7l-2.7 2.7zM112.4 214.5l2.7 -2.7l2.7 2.7l-2.7 2.7zM113.5 214.7l2.7 -2.7l2.7 2.7l-2.7 2.7zM114.7 214.9l2.7 -2.7l2.7 2.7l-2.7 2.7zM115.9 215.1l2.7 -2.7l2.7 2.7l-2.7 2.7zM117 215.3l2.7 -2.7l2.7 2.7l-2.7 2.7zM118.2 215.5l2.7 -2.7l2.7 2.7l-2.7 2.7zM119.4 215.8l2.7 -2.7l2.7 2.7l-2.7 2.7zM120.6 216l2.7 -2.7l2.7 2.7l-2.7 2.7zM121.7 216.2l2.7 -2.7l2.7 2.7l-2.7 2.7zM122.9 216.4l2.7 -2.7l2.7 2.7l-2.7 2.7zM124.1 216.7l2.7 -2.7l2.7 2.7l-2.7 2.7zM125.3 216.9l2.7 -2.7l2.7 2.7l-2.7 2.7zM126.4 217.1l2.7 -2.7l2.7 2.7l-2.7 2.7zM127.6 217.4l2.7 -2.7l2.7 2.7l-2.7 2.7zM128.8 217.6l2.7 -2.7l2.7 2.7l-2.7 2.7zM130 217.8l2.7 -2.7l2.7 2.7l-2.7 2.7zM131.1 218.1l2.7 -2.7l2.7 2.7l-2.7 2.7zM132.3 218.3l2.7 -2.7l2.7 2.7l-2.7 2.7zM133.5 218.6l2.7 -2.7l2.7 2.7l-2.7 2.7zM134.7 218.8l2.7 -2.7l2.7 2.7l-2.7 2.7zM135.8 219.1l2.7 -2.7l2.7 2.7l-2.7 2.7zM137 219.4l2.7 -2.7l2.7 2.7l-2.7 2.7zM138.2 219.6l2.7 -2.7l2.7 2.7l-2.7 2.7zM139.4 219.9l2.7 -2.7l2.7 2.7l-2.7 2.7zM140.5 220.2l2.7 -2.7l2.7 2.7l-2.7 2.7zM141.7 220.4l2.7 -2.7l2.7 2.7l-2.7 2.7zM142.9 220.7l2.7 -2.7l2.7 2.7l-2.7 2.7zM144 221l2.7 -2.7l2.7 2.7l-2.7 2.7zM145.2 221.3l2.7 -2.7l2.7 2.7l-2.7 2.7zM146.4 221.6l2.7 -2.7l2.7 2.7l-2.7 2.7zM147.6 221.9l2.7 -2.7l2.7 2.7l-2.7 2.7zM148.7 222.2l2.7 -2.7l2.7 2.7l-2.7 2.7zM149.9 222.5l2.7 -2.7l2.7 2.7l-2.7 2.7zM151.1 222.8l2.7 -2.7l2.7 2.7l-2.7 2.7zM152.3 223.1l2.7 -2.7l2.7 2.7l-2.7 2.7zM153.4 223.4l2.7 -2.7l2.7 2.7l-2.7 2.7zM154.6 223.8l2.7 -2.7l2.7 2.7l-2.7 2.7zM155.8 224.1l2.7 -2.7l2.7 2.7l-2.7 2.7zM157 224.4l2.7 -2.7l2.7 2.7l-2.7 2.7zM158.1 224.7l2.7 -2.7l2.7 2.7l-2.7 2.7zM159.3 225.1l2.7 -2.7l2.7 2.7l-2.7 2.7zM160.5 225.4l2.7 -2.7l2.7 2.7l-2.7 2.7zM161.7 225.7l2.7 -2.7l2.7 2.7l-2.7 2.7zM162.8 226l2.7 -2.7l2.7 2.7l-2.7 2.7zM164 226.2l2.7 -2.7l2.7 2.7l-2.7 2.7zM165.2 226.5l2.7 -2.7l2.7 2.7l-2.7 2.7zM166.4 226.7l2.7 -2.7l2.7 2.7l-2.7 2.7zM167.5 227l2.7 -2.7l2.7 2.7l-2.7 2.7zM168.7 227.2l2.7 -2.7l2.7 2.7l-2.7 2.7zM169.9 227.4l2.7 -2.7l2.7 2.7l-2.7 2.7zM171 227.6l2.7 -2.7l2.7 2.7l-2.7 2.7zM172.2 227.8l2.7 -2.7l2.7 2.7l-2.7 2.7zM173.4 228l2.7 -2.7l2.7 2.7l-2.7 2.7zM174.6 228.2l2.7 -2.7l2.7 2.7l-2.7 2.7zM175.7 228.4l2.7 -2.7l2.7 2.7l-2.7 2.7zM176.9 228.6l2.7 -2.7l2.7 2.7l-2.7 2.7zM178.1 228.7l2.7 -2.7l2.7 2.7l-2.7 2.7zM179.3 228.8l2.7 -2.7l2.7 2.7l-2.7 2.7zM180.4 229l2.7 -2.7l2.7 2.7l-2.7 2.7zM181.6 229.1l2.7 -2.7l2.7 2.7l-2.7 2.7zM182.8 229.3l2.7 -2.7l2.7 2.7l-2.7 2.7zM184 229.4l2.7 -2.7l2.7 2.7l-2.7 2.7zM185.1 229.5l2.7 -2.7l2.7 2.7l-2.7 2.7zM186.3 229.6l2.7 -2.7l2.7 2.7l-2.7 2.7zM187.5 229.7l2.7 -2.7l2.7 2.7l-2.7 2.7zM188.7 229.8l2.7 -2.7l2.7 2.7l-2.7 2.7zM189.8 229.8l2.7 -2.7l2.7 2.7l-2.7 2.7zM191 229.8l2.7 -2.7l2.7 2.7l-2.7 2.7zM192.2 229.8l2.7 -2.7l2.7 2.7l-2.7 2.7zM193.4 229.8l2.7 -2.7l2.7 2.7l-2.7 2.7zM194.5 229.9l2.7 -2.7l2.7 2.7l-2.7 2.7zM195.7 229.9l2.7 -2.7l2.7 2.7l-2.7 2.7zM196.9 229.9l2.7 -2.7l2.7 2.7l-2.7 2.7zM198 229.9l2.7 -2.7l2.7 2.7l-2.7 2.7zM199.2 229.9l2.7 -2.7l2.7 2.7l-2.7 2.7zM200.4 229.9l2.7 -2.7l2.7 2.7l-2.7 2.7zM201.6 229.9l2.7 -2.7l2.7 2.7l-2.7 2.7zM202.7 229.9l2.7 -2.7l2.7 2.7l-2.7 2.7zM203.9 229.9l2.7 -2.7l2.7 2.7l-2.7 2.7zM205.1 229.8l2.7 -2.7l2.7 2.7l-2.7 2.7zM206.3 229.8l2.7 -2.7l2.7 2.7l-2.7 2.7zM207.4 229.7l2.7 -2.7l2.7 2.7l-2.7 2.7zM208.6 229.6l2.7 -2.7l2.7 2.7l-2.7 2.7zM209.8 229.5l2.7 -2.7l2.7 2.7l-2.7 2.7zM211 229.4l2.7 -2.7l2.7 2.7l-2.7 2.7zM212.1 229.2l2.7 -2.7l2.7 2.7l-2.7 2.7zM213.3 229.1l2.7 -2.7l2.7 2.7l-2.7 2.7zM214.5 229l2.7 -2.7l2.7 2.7l-2.7 2.7zM215.7 228.9l2.7 -2.7l2.7 2.7l-2.7 2.7zM216.8 228.8l2.7 -2.7l2.7 2.7l-2.7 2.7zM218 228.7l2.7 -2.7l2.7 2.7l-2.7 2.7zM219.2 228.6l2.7 -2.7l2.7 2.7l-2.7 2.7zM220.4 228.4l2.7 -2.7l2.7 2.7l-2.7 2.7zM221.5 228.3l2.7 -2.7l2.7 2.7l-2.7 2.7zM222.7 228.2l2.7 -2.7l2.7 2.7l-2.7 2.7zM223.9 228.1l2.7 -2.7l2.7 2.7l-2.7 2.7zM225 228l2.7 -2.7l2.7 2.7l-2.7 2.7zM226.2 227.9l2.7 -2.7l2.7 2.7l-2.7 2.7zM227.4 227.8l2.7 -2.7l2.7 2.7l-2.7 2.7zM228.6 227.7l2.7 -2.7l2.7 2.7l-2.7 2.7zM229.7 227.6l2.7 -2.7l2.7 2.7l-2.7 2.7zM230.9 227.6l2.7 -2.7l2.7 2.7l-2.7 2.7zM232.1 227.5l2.7 -2.7l2.7 2.7l-2.7 2.7zM233.3 227.4l2.7 -2.7l2.7 2.7l-2.7 2.7zM234.4 227.4l2.7 -2.7l2.7 2.7l-2.7 2.7zM235.6 227.3l2.7 -2.7l2.7 2.7l-2.7 2.7zM236.8 227.3l2.7 -2.7l2.7 2.7l-2.7 2.7zM238 227.2l2.7 -2.7l2.7 2.7l-2.7 2.7zM239.1 227.2l2.7 -2.7l2.7 2.7l-2.7 2.7zM240.3 227.1l2.7 -2.7l2.7 2.7l-2.7 2.7zM241.5 227.1l2.7 -2.7l2.7 2.7l-2.7 2.7zM242.7 227l2.7 -2.7l2.7 2.7l-2.7 2.7zM243.8 227l2.7 -2.7l2.7 2.7l-2.7 2.7zM245 227l2.7 -2.7l2.7 2.7l-2.7 2.7zM246.2 227l2.7 -2.7l2.7 2.7l-2.7 2.7zM247.4 227l2.7 -2.7l2.7 2.7l-2.7 2.7zM248.5 227l2.7 -2.7l2.7 2.7l-2.7 2.7zM249.7 226.9l2.7 -2.7l2.7 2.7l-2.7 2.7zM250.9 226.9l2.7 -2.7l2.7 2.7l-2.7 2.7zM252 226.9l2.7 -2.7l2.7 2.7l-2.7 2.7zM253.2 226.9l2.7 -2.7l2.7 2.7l-2.7 2.7zM254.4 226.9l2.7 -2.7l2.7 2.7l-2.7 2.7zM255.6 226.9l2.7 -2.7l2.7 2.7l-2.7 2.7zM256.7 226.9l2.7 -2.7l2.7 2.7l-2.7 2.7zM257.9 226.9l2.7 -2.7l2.7 2.7l-2.7 2.7zM259.1 226.9l2.7 -2.7l2.7 2.7l-2.7 2.7zM260.3 227l2.7 -2.7l2.7 2.7l-2.7 2.7zM261.4 227l2.7 -2.7l2.7 2.7l-2.7 2.7zM262.6 227.1l2.7 -2.7l2.7 2.7l-2.7 2.7zM263.8 227.1l2.7 -2.7l2.7 2.7l-2.7 2.7zM265 227.2l2.7 -2.7l2.7 2.7l-2.7 2.7zM266.1 227.3l2.7 -2.7l2.7 2.7l-2.7 2.7zM267.3 227.4l2.7 -2.7l2.7 2.7l-2.7 2.7zM268.5 227.5l2.7 -2.7l2.7 2.7l-2.7 2.7zM269.7 227.6l2.7 -2.7l2.7 2.7l-2.7 2.7zM270.8 227.7l2.7 -2.7l2.7 2.7l-2.7 2.7zM272 227.8l2.7 -2.7l2.7 2.7l-2.7 2.7zM273.2 228l2.7 -2.7l2.7 2.7l-2.7 2.7zM274.4 228.1l2.7 -2.7l2.7 2.7l-2.7 2.7zM275.5 228.3l2.7 -2.7l2.7 2.7l-2.7 2.7zM276.7 228.5l2.7 -2.7l2.7 2.7l-2.7 2.7zM277.9 228.7l2.7 -2.7l2.7 2.7l-2.7 2.7zM279 228.9l2.7 -2.7l2.7 2.7l-2.7 2.7zM280.2 229.1l2.7 -2.7l2.7 2.7l-2.7 2.7zM281.4 229.4l2.7 -2.7l2.7 2.7l-2.7 2.7zM282.6 229.6l2.7 -2.7l2.7 2.7l-2.7 2.7zM283.7 229.9l2.7 -2.7l2.7 2.7l-2.7 2.7zM284.9 230.1l2.7 -2.7l2.7 2.7l-2.7 2.7zM286.1 230.4l2.7 -2.7l2.7 2.7l-2.7 2.7zM287.3 230.7l2.7 -2.7l2.7 2.7l-2.7 2.7zM288.4 231l2.7 -2.7l2.7 2.7l-2.7 2.7zM289.6 231.3l2.7 -2.7l2.7 2.7l-2.7 2.7zM290.8 231.7l2.7 -2.7l2.7 2.7l-2.7 2.7zM292 232l2.7 -2.7l2.7 2.7l-2.7 2.7zM293.1 232.4l2.7 -2.7l2.7 2.7l-2.7 2.7zM294.3 232.8l2.7 -2.7l2.7 2.7l-2.7 2.7zM295.5 233.1l2.7 -2.7l2.7 2.7l-2.7 2.7zM296.7 233.5l2.7 -2.7l2.7 2.7l-2.7 2.7zM297.8 233.9l2.7 -2.7l2.7 2.7l-2.7 2.7zM299 234.3l2.7 -2.7l2.7 2.7l-2.7 2.7zM300.2 234.6l2.7 -2.7l2.7 2.7l-2.7 2.7zM301.4 235l2.7 -2.7l2.7 2.7l-2.7 2.7zM302.5 235.3l2.7 -2.7l2.7 2.7l-2.7 2.7zM303.7 235.6l2.7 -2.7l2.7 2.7l-2.7 2.7zM304.9 236l2.7 -2.7l2.7 2.7l-2.7 2.7zM306 236.3l2.7 -2.7l2.7 2.7l-2.7 2.7zM307.2 236.6l2.7 -2.7l2.7 2.7l-2.7 2.7zM308.4 237l2.7 -2.7l2.7 2.7l-2.7 2.7zM309.6 237.3l2.7 -2.7l2.7 2.7l-2.7 2.7zM310.7 237.7l2.7 -2.7l2.7 2.7l-2.7 2.7zM311.9 238l2.7 -2.7l2.7 2.7l-2.7 2.7zM313.1 238.3l2.7 -2.7l2.7 2.7l-2.7 2.7zM314.3 238.7l2.7 -2.7l2.7 2.7l-2.7 2.7zM315.4 239l2.7 -2.7l2.7 2.7l-2.7 2.7zM316.6 239.3l2.7 -2.7l2.7 2.7l-2.7 2.7zM317.8 239.7l2.7 -2.7l2.7 2.7l-2.7 2.7zM319 240l2.7 -2.7l2.7 2.7l-2.7 2.7zM320.1 240.4l2.7 -2.7l2.7 2.7l-2.7 2.7zM321.3 240.7l2.7 -2.7l2.7 2.7l-2.7 2.7zM322.5 241l2.7 -2.7l2.7 2.7l-2.7 2.7zM323.7 241.4l2.7 -2.7l2.7 2.7l-2.7 2.7zM324.8 241.7l2.7 -2.7l2.7 2.7l-2.7 2.7zM326 242l2.7 -2.7l2.7 2.7l-2.7 2.7zM327.2 242.4l2.7 -2.7l2.7 2.7l-2.7 2.7zM328.4 242.7l2.7 -2.7l2.7 2.7l-2.7 2.7zM329.5 243.1l2.7 -2.7l2.7 2.7l-2.7 2.7zM330.7 243.4l2.7 -2.7l2.7 2.7l-2.7 2.7zM331.9 243.7l2.7 -2.7l2.7 2.7l-2.7 2.7zM333 244.1l2.7 -2.7l2.7 2.7l-2.7 2.7zM334.2 244.4l2.7 -2.7l2.7 2.7l-2.7 2.7zM335.4 244.7l2.7 -2.7l2.7 2.7l-2.7 2.7zM336.6 245.1l2.7 -2.7l2.7 2.7l-2.7 2.7zM337.7 245.4l2.7 -2.7l2.7 2.7l-2.7 2.7zM338.9 245.7l2.7 -2.7l2.7 2.7l-2.7 2.7zM340.1 246.1l2.7 -2.7l2.7 2.7l-2.7 2.7zM341.3 246.4l2.7 -2.7l2.7 2.7l-2.7 2.7zM342.4 246.8l2.7 -2.7l2.7 2.7l-2.7 2.7zM343.6 247.1l2.7 -2.7l2.7 2.7l-2.7 2.7zM344.8 247.4l2.7 -2.7l2.7 2.7l-2.7 2.7zM346 247.8l2.7 -2.7l2.7 2.7l-2.7 2.7zM347.1 248.1l2.7 -2.7l2.7 2.7l-2.7 2.7zM348.3 248.4l2.7 -2.7l2.7 2.7l-2.7 2.7zM349.5 248.8l2.7 -2.7l2.7 2.7l-2.7 2.7zM350.7 249.1l2.7 -2.7l2.7 2.7l-2.7 2.7zM351.8 249.4l2.7 -2.7l2.7 2.7l-2.7 2.7zM353 249.8l2.7 -2.7l2.7 2.7l-2.7 2.7zM354.2 250.1l2.7 -2.7l2.7 2.7l-2.7 2.7zM355.4 250.5l2.7 -2.7l2.7 2.7l-2.7 2.7zM356.5 250.8l2.7 -2.7l2.7 2.7l-2.7 2.7zM357.7 251.1l2.7 -2.7l2.7 2.7l-2.7 2.7zM358.9 251.5l2.7 -2.7l2.7 2.7l-2.7 2.7zM360 251.8l2.7 -2.7l2.7 2.7l-2.7 2.7zM361.2 252.1l2.7 -2.7l2.7 2.7l-2.7 2.7zM362.4 252.5l2.7 -2.7l2.7 2.7l-2.7 2.7zM363.6 252.8l2.7 -2.7l2.7 2.7l-2.7 2.7zM364.7 253.1l2.7 -2.7l2.7 2.7l-2.7 2.7z"/>
<path fill="#7a97e0" d="M111.8 214.3l2.1 -2.1l2.1 2.1l-2.1 2.1zM113 214.5l2.1 -2.1l2.1 2.1l-2.1 2.1zM114.1 214.7l2.1 -2.1l2.1 2.1l-2.1 2.1zM115.3 214.9l2.1 -2.1l2.1 2.1l-2.1 2.1zM116.5 215.1l2.1 -2.1l2.1 2.1l-2.1 2.1zM117.6 215.3l2.1 -2.1l2.1 2.1l-2.1 2.1zM118.8 215.5l2.1 -2.1l2.1 2.1l-2.1 2.1zM120 215.8l2.1 -2.1l2.1 2.1l-2.1 2.1zM121.2 216l2.1 -2.1l2.1 2.1l-2.1 2.1zM122.3 216.2l2.1 -2.1l2.1 2.1l-2.1 2.1zM123.5 216.4l2.1 -2.1l2.1 2.1l-2.1 2.1zM124.7 216.7l2.1 -2.1l2.1 2.1l-2.1 2.1zM125.9 216.9l2.1 -2.1l2.1 2.1l-2.1 2.1zM127 217.1l2.1 -2.1l2.1 2.1l-2.1 2.1zM128.2 217.4l2.1 -2.1l2.1 2.1l-2.1 2.1zM129.4 217.6l2.1 -2.1l2.1 2.1l-2.1 2.1zM130.6 217.8l2.1 -2.1l2.1 2.1l-2.1 2.1zM131.7 218.1l2.1 -2.1l2.1 2.1l-2.1 2.1zM132.9 218.3l2.1 -2.1l2.1 2.1l-2.1 2.1zM134.1 218.6l2.1 -2.1l2.1 2.1l-2.1 2.1zM135.3 218.8l2.1 -2.1l2.1 2.1l-2.1 2.1zM136.4 219.1l2.1 -2.1l2.1 2.1l-2.1 2.1zM137.6 219.4l2.1 -2.1l2.1 2.1l-2.1 2.1zM138.8 219.6l2.1 -2.1l2.1 2.1l-2.1 2.1zM140 219.9l2.1 -2.1l2.1 2.1l-2.1 2.1zM141.1 220.2l2.1 -2.1l2.1 2.1l-2.1 2.1zM142.3 220.4l2.1 -2.1l2.1 2.1l-2.1 2.1zM143.5 220.7l2.1 -2.1l2.1 2.1l-2.1 2.1zM144.6 221l2.1 -2.1l2.1 2.1l-2.1 2.1zM145.8 221.3l2.1 -2.1l2.1 2.1l-2.1 2.1zM147 221.6l2.1 -2.1l2.1 2.1l-2.1 2.1zM148.2 221.9l2.1 -2.1l2.1 2.1l-2.1 2.1zM149.3 222.2l2.1 -2.1l2.1 2.1l-2.1 2.1zM150.5 222.5l2.1 -2.1l2.1 2.1l-2.1 2.1zM151.7 222.8l2.1 -2.1l2.1 2.1l-2.1 2.1zM152.9 223.1l2.1 -2.1l2.1 2.1l-2.1 2.1zM154 223.4l2.1 -2.1l2.1 2.1l-2.1 2.1zM155.2 223.8l2.1 -2.1l2.1 2.1l-2.1 2.1zM156.4 224.1l2.1 -2.1l2.1 2.1l-2.1 2.1zM157.6 224.4l2.1 -2.1l2.1 2.1l-2.1 2.1zM158.7 224.7l2.1 -2.1l2.1 2.1l-2.1 2.1zM159.9 225.1l2.1 -2.1l2.1 2.1l-2.1 2.1zM161.1 225.4l2.1 -2.1l2.1 2.1l-2.1 2.1zM162.3 225.7l2.1 -2.1l2.1 2.1l-2.1 2.1zM163.4 226l2.1 -2.1l2.1 2.1l-2.1 2.1zM164.6 226.2l2.1 -2.1l2.1 2.1l-2.1 2.1zM165.8 226.5l2.1 -2.1l2.1 2.1l-2.1 2.1zM167 226.7l2.1 -2.1l2.1 2.1l-2.1 2.1zM168.1 227l2.1 -2.1l2.1 2.1l-2.1 2.1zM169.3 227.2l2.1 -2.1l2.1 2.1l-2.1 2.1zM170.5 227.4l2.1 -2.1l2.1 2.1l-2.1 2.1zM171.6 227.6l2.1 -2.1l2.1 2.1l-2.1 2.1zM172.8 227.8l2.1 -2.1l2.1 2.1l-2.1 2.1zM174 228l2.1 -2.1l2.1 2.1l-2.1 2.1zM175.2 228.2l2.1 -2.1l2.1 2.1l-2.1 2.1zM176.3 228.4l2.1 -2.1l2.1 2.1l-2.1 2.1zM177.5 228.6l2.1 -2.1l2.1 2.1l-2.1 2.1zM178.7 228.7l2.1 -2.1l2.1 2.1l-2.1 2.1zM179.9 228.8l2.1 -2.1l2.1 2.1l-2.1 2.1zM181 229l2.1 -2.1l2.1 2.1l-2.1 2.1zM182.2 229.1l2.1 -2.1l2.1 2.1l-2.1 2.1zM183.4 229.3l2.1 -2.1l2.1 2.1l-2.1 2.1zM184.6 229.4l2.1 -2.1l2.1 2.1l-2.1 2.1zM185.7 229.5l2.1 -2.1l2.1 2.1l-2.1 2.1zM186.9 229.6l2.1 -2.1l2.1 2.1l-2.1 2.1zM188.1 229.7l2.1 -2.1l2.1 2.1l-2.1 2.1zM189.3 229.8l2.1 -2.1l2.1 2.1l-2.1 2.1zM190.4 229.8l2.1 -2.1l2.1 2.1l-2.1 2.1zM191.6 229.8l2.1 -2.1l2.1 2.1l-2.1 2.1zM192.8 229.8l2.1 -2.1l2.1 2.1l-2.1 2.1zM194 229.8l2.1 -2.1l2.1 2.1l-2.1 2.1zM195.1 229.9l2.1 -2.1l2.1 2.1l-2.1 2.1zM196.3 229.9l2.1 -2.1l2.1 2.1l-2.1 2.1zM197.5 229.9l2.1 -2.1l2.1 2.1l-2.1 2.1zM198.6 229.9l2.1 -2.1l2.1 2.1l-2.1 2.1zM199.8 229.9l2.1 -2.1l2.1 2.1l-2.1 2.1zM201 229.9l2.1 -2.1l2.1 2.1l-2.1 2.1zM202.2 229.9l2.1 -2.1l2.1 2.1l-2.1 2.1zM203.3 229.9l2.1 -2.1l2.1 2.1l-2.1 2.1zM204.5 229.9l2.1 -2.1l2.1 2.1l-2.1 2.1zM205.7 229.8l2.1 -2.1l2.1 2.1l-2.1 2.1zM206.9 229.8l2.1 -2.1l2.1 2.1l-2.1 2.1zM208 229.7l2.1 -2.1l2.1 2.1l-2.1 2.1zM209.2 229.6l2.1 -2.1l2.1 2.1l-2.1 2.1zM210.4 229.5l2.1 -2.1l2.1 2.1l-2.1 2.1zM211.6 229.4l2.1 -2.1l2.1 2.1l-2.1 2.1zM212.7 229.2l2.1 -2.1l2.1 2.1l-2.1 2.1zM213.9 229.1l2.1 -2.1l2.1 2.1l-2.1 2.1zM215.1 229l2.1 -2.1l2.1 2.1l-2.1 2.1zM216.3 228.9l2.1 -2.1l2.1 2.1l-2.1 2.1zM217.4 228.8l2.1 -2.1l2.1 2.1l-2.1 2.1zM218.6 228.7l2.1 -2.1l2.1 2.1l-2.1 2.1zM219.8 228.6l2.1 -2.1l2.1 2.1l-2.1 2.1zM221 228.4l2.1 -2.1l2.1 2.1l-2.1 2.1zM222.1 228.3l2.1 -2.1l2.1 2.1l-2.1 2.1zM223.3 228.2l2.1 -2.1l2.1 2.1l-2.1 2.1zM224.5 228.1l2.1 -2.1l2.1 2.1l-2.1 2.1zM225.6 228l2.1 -2.1l2.1 2.1l-2.1 2.1zM226.8 227.9l2.1 -2.1l2.1 2.1l-2.1 2.1zM228 227.8l2.1 -2.1l2.1 2.1l-2.1 2.1zM229.2 227.7l2.1 -2.1l2.1 2.1l-2.1 2.1zM230.3 227.6l2.1 -2.1l2.1 2.1l-2.1 2.1zM231.5 227.6l2.1 -2.1l2.1 2.1l-2.1 2.1zM232.7 227.5l2.1 -2.1l2.1 2.1l-2.1 2.1zM233.9 227.4l2.1 -2.1l2.1 2.1l-2.1 2.1zM235 227.4l2.1 -2.1l2.1 2.1l-2.1 2.1zM236.2 227.3l2.1 -2.1l2.1 2.1l-2.1 2.1zM237.4 227.3l2.1 -2.1l2.1 2.1l-2.1 2.1zM238.6 227.2l2.1 -2.1l2.1 2.1l-2.1 2.1zM239.7 227.2l2.1 -2.1l2.1 2.1l-2.1 2.1zM240.9 227.1l2.1 -2.1l2.1 2.1l-2.1 2.1zM242.1 227.1l2.1 -2.1l2.1 2.1l-2.1 2.1zM243.3 227l2.1 -2.1l2.1 2.1l-2.1 2.1zM244.4 227l2.1 -2.1l2.1 2.1l-2.1 2.1zM245.6 227l2.1 -2.1l2.1 2.1l-2.1 2.1zM246.8 227l2.1 -2.1l2.1 2.1l-2.1 2.1zM248 227l2.1 -2.1l2.1 2.1l-2.1 2.1zM249.1 227l2.1 -2.1l2.1 2.1l-2.1 2.1zM250.3 226.9l2.1 -2.1l2.1 2.1l-2.1 2.1zM251.5 226.9l2.1 -2.1l2.1 2.1l-2.1 2.1zM252.6 226.9l2.1 -2.1l2.1 2.1l-2.1 2.1zM253.8 226.9l2.1 -2.1l2.1 2.1l-2.1 2.1zM255 226.9l2.1 -2.1l2.1 2.1l-2.1 2.1zM256.2 226.9l2.1 -2.1l2.1 2.1l-2.1 2.1zM257.3 226.9l2.1 -2.1l2.1 2.1l-2.1 2.1zM258.5 226.9l2.1 -2.1l2.1 2.1l-2.1 2.1zM259.7 226.9l2.1 -2.1l2.1 2.1l-2.1 2.1zM260.9 227l2.1 -2.1l2.1 2.1l-2.1 2.1zM262 227l2.1 -2.1l2.1 2.1l-2.1 2.1zM263.2 227.1l2.1 -2.1l2.1 2.1l-2.1 2.1zM264.4 227.1l2.1 -2.1l2.1 2.1l-2.1 2.1zM265.6 227.2l2.1 -2.1l2.1 2.1l-2.1 2.1zM266.7 227.3l2.1 -2.1l2.1 2.1l-2.1 2.1zM267.9 227.4l2.1 -2.1l2.1 2.1l-2.1 2.1zM269.1 227.5l2.1 -2.1l2.1 2.1l-2.1 2.1zM270.3 227.6l2.1 -2.1l2.1 2.1l-2.1 2.1zM271.4 227.7l2.1 -2.1l2.1 2.1l-2.1 2.1zM272.6 227.8l2.1 -2.1l2.1 2.1l-2.1 2.1zM273.8 228l2.1 -2.1l2.1 2.1l-2.1 2.1zM275 228.1l2.1 -2.1l2.1 2.1l-2.1 2.1zM276.1 228.3l2.1 -2.1l2.1 2.1l-2.1 2.1zM277.3 228.5l2.1 -2.1l2.1 2.1l-2.1 2.1zM278.5 228.7l2.1 -2.1l2.1 2.1l-2.1 2.1zM279.6 228.9l2.1 -2.1l2.1 2.1l-2.1 2.1zM280.8 229.1l2.1 -2.1l2.1 2.1l-2.1 2.1zM282 229.4l2.1 -2.1l2.1 2.1l-2.1 2.1zM283.2 229.6l2.1 -2.1l2.1 2.1l-2.1 2.1zM284.3 229.9l2.1 -2.1l2.1 2.1l-2.1 2.1zM285.5 230.1l2.1 -2.1l2.1 2.1l-2.1 2.1zM286.7 230.4l2.1 -2.1l2.1 2.1l-2.1 2.1zM287.9 230.7l2.1 -2.1l2.1 2.1l-2.1 2.1zM289 231l2.1 -2.1l2.1 2.1l-2.1 2.1zM290.2 231.3l2.1 -2.1l2.1 2.1l-2.1 2.1zM291.4 231.7l2.1 -2.1l2.1 2.1l-2.1 2.1zM292.6 232l2.1 -2.1l2.1 2.1l-2.1 2.1zM293.7 232.4l2.1 -2.1l2.1 2.1l-2.1 2.1zM294.9 232.8l2.1 -2.1l2.1 2.1l-2.1 2.1zM296.1 233.1l2.1 -2.1l2.1 2.1l-2.1 2.1zM297.3 233.5l2.1 -2.1l2.1 2.1l-2.1 2.1zM298.4 233.9l2.1 -2.1l2.1 2.1l-2.1 2.1zM299.6 234.3l2.1 -2.1l2.1 2.1l-2.1 2.1zM300.8 234.6l2.1 -2.1l2.1 2.1l-2.1 2.1zM302 235l2.1 -2.1l2.1 2.1l-2.1 2.1zM303.1 235.3l2.1 -2.1l2.1 2.1l-2.1 2.1zM304.3 235.6l2.1 -2.1l2.1 2.1l-2.1 2.1zM305.5 236l2.1 -2.1l2.1 2.1l-2.1 2.1zM306.6 236.3l2.1 -2.1l2.1 2.1l-2.1 2.1zM307.8 236.6l2.1 -2.1l2.1 2.1l-2.1 2.1zM309 237l2.1 -2.1l2.1 2.1l-2.1 2.1zM310.2 237.3l2.1 -2.1l2.1 2.1l-2.1 2.1zM311.3 237.7l2.1 -2.1l2.1 2.1l-2.1 2.1zM312.5 238l2.1 -2.1l2.1 2.1l-2.1 2.1zM313.7 238.3l2.1 -2.1l2.1 2.1l-2.1 2.1zM314.9 238.7l2.1 -2.1l2.1 2.1l-2.1 2.1zM316 239l2.1 -2.1l2.1 2.1l-2.1 2.1zM317.2 239.3l2.1 -2.1l2.1 2.1l-2.1 2.1zM318.4 239.7l2.1 -2.1l2.1 2.1l-2.1 2.1zM319.6 240l2.1 -2.1l2.1 2.1l-2.1 2.1zM320.7 240.4l2.1 -2.1l2.1 2.1l-2.1 2.1zM321.9 240.7l2.1 -2.1l2.1 2.1l-2.1 2.1zM323.1 241l2.1 -2.1l2.1 2.1l-2.1 2.1zM324.3 241.4l2.1 -2.1l2.1 2.1l-2.1 2.1zM325.4 241.7l2.1 -2.1l2.1 2.1l-2.1 2.1zM326.6 242l2.1 -2.1l2.1 2.1l-2.1 2.1zM327.8 242.4l2.1 -2.1l2.1 2.1l-2.1 2.1zM329 242.7l2.1 -2.1l2.1 2.1l-2.1 2.1zM330.1 243.1l2.1 -2.1l2.1 2.1l-2.1 2.1zM331.3 243.4l2.1 -2.1l2.1 2.1l-2.1 2.1zM332.5 243.7l2.1 -2.1l2.1 2.1l-2.1 2.1zM333.6 244.1l2.1 -2.1l2.1 2.1l-2.1 2.1zM334.8 244.4l2.1 -2.1l2.1 2.1l-2.1 2.1zM336 244.7l2.1 -2.1l2.1 2.1l-2.1 2.1zM337.2 245.1l2.1 -2.1l2.1 2.1l-2.1 2.1zM338.3 245.4l2.1 -2.1l2.1 2.1l-2.1 2.1zM339.5 245.7l2.1 -2.1l2.1 2.1l-2.1 2.1zM340.7 246.1l2.1 -2.1l2.1 2.1l-2.1 2.1zM341.9 246.4l2.1 -2.1l2.1 2.1l-2.1 2.1zM343 246.8l2.1 -2.1l2.1 2.1l-2.1 2.1zM344.2 247.1l2.1 -2.1l2.1 2.1l-2.1 2.1zM345.4 247.4l2.1 -2.1l2.1 2.1l-2.1 2.1zM346.6 247.8l2.1 -2.1l2.1 2.1l-2.1 2.1zM347.7 248.1l2.1 -2.1l2.1 2.1l-2.1 2.1zM348.9 248.4l2.1 -2.1l2.1 2.1l-2.1 2.1zM350.1 248.8l2.1 -2.1l2.1 2.1l-2.1 2.1zM351.3 249.1l2.1 -2.1l2.1 2.1l-2.1 2.1zM352.4 249.4l2.1 -2.1l2.1 2.1l-2.1 2.1zM353.6 249.8l2.1 -2.1l2.1 2.1l-2.1 2.1zM354.8 250.1l2.1 -2.1l2.1 2.1l-2.1 2.1zM356 250.5l2.1 -2.1l2.1 2.1l-2.1 2.1zM357.1 250.8l2.1 -2.1l2.1 2.1l-2.1 2.1zM358.3 251.1l2.1 -2.1l2.1 2.1l-2.1 2.1zM359.5 251.5l2.1 -2.1l2.1 2.1l-2.1 2.1zM360.6 251.8l2.1 -2.1l2.1 2.1l-2.1 2.1zM361.8 252.1l2.1 -2.1l2.1 2.1l-2.1 2.1zM363 252.5l2.1 -2.1l2.1 2.1l-2.1 2.1zM364.2 252.8l2.1 -2.1l2.1 2.1l-2.1 2.1zM365.3 253.1l2.1 -2.1l2.1 2.1l-2.1 2.1z"/>
<path fill="none" stroke="#2f55b8" stroke-opacity="0.5" stroke-width="0.6" d="M111.4 214.3l2.5 -2.5l2.5 2.5l-2.5 2.5zM113.8 214.7l2.5 -2.5l2.5 2.5l-2.5 2.5zM116.1 215.1l2.5 -2.5l2.5 2.5l-2.5 2.5zM118.5 215.5l2.5 -2.5l2.5 2.5l-2.5 2.5zM120.8 216l2.5 -2.5l2.5 2.5l-2.5 2.5zM123.2 216.4l2.5 -2.5l2.5 2.5l-2.5 2.5zM125.5 216.9l2.5 -2.5l2.5 2.5l-2.5 2.5zM127.9 217.4l2.5 -2.5l2.5 2.5l-2.5 2.5zM130.2 217.8l2.5 -2.5l2.5 2.5l-2.5 2.5zM132.6 218.3l2.5 -2.5l2.5 2.5l-2.5 2.5zM134.9 218.8l2.5 -2.5l2.5 2.5l-2.5 2.5zM137.2 219.4l2.5 -2.5l2.5 2.5l-2.5 2.5zM139.6 219.9l2.5 -2.5l2.5 2.5l-2.5 2.5zM141.9 220.4l2.5 -2.5l2.5 2.5l-2.5 2.5zM144.3 221l2.5 -2.5l2.5 2.5l-2.5 2.5zM146.6 221.6l2.5 -2.5l2.5 2.5l-2.5 2.5zM149 222.2l2.5 -2.5l2.5 2.5l-2.5 2.5zM151.3 222.8l2.5 -2.5l2.5 2.5l-2.5 2.5zM153.7 223.4l2.5 -2.5l2.5 2.5l-2.5 2.5zM156 224.1l2.5 -2.5l2.5 2.5l-2.5 2.5zM158.4 224.7l2.5 -2.5l2.5 2.5l-2.5 2.5zM160.7 225.4l2.5 -2.5l2.5 2.5l-2.5 2.5zM163.1 226l2.5 -2.5l2.5 2.5l-2.5 2.5zM165.4 226.5l2.5 -2.5l2.5 2.5l-2.5 2.5zM167.8 227l2.5 -2.5l2.5 2.5l-2.5 2.5zM170.1 227.4l2.5 -2.5l2.5 2.5l-2.5 2.5zM172.5 227.8l2.5 -2.5l2.5 2.5l-2.5 2.5zM174.8 228.2l2.5 -2.5l2.5 2.5l-2.5 2.5zM177.2 228.6l2.5 -2.5l2.5 2.5l-2.5 2.5zM179.5 228.8l2.5 -2.5l2.5 2.5l-2.5 2.5zM181.9 229.1l2.5 -2.5l2.5 2.5l-2.5 2.5zM184.2 229.4l2.5 -2.5l2.5 2.5l-2.5 2.5zM186.5 229.6l2.5 -2.5l2.5 2.5l-2.5 2.5zM188.9 229.8l2.5 -2.5l2.5 2.5l-2.5 2.5zM191.2 229.8l2.5 -2.5l2.5 2.5l-2.5 2.5zM193.6 229.8l2.5 -2.5l2.5 2.5l-2.5 2.5zM195.9 229.9l2.5 -2.5l2.5 2.5l-2.5 2.5zM198.3 229.9l2.5 -2.5l2.5 2.5l-2.5 2.5zM200.6 229.9l2.5 -2.5l2.5 2.5l-2.5 2.5zM203 229.9l2.5 -2.5l2.5 2.5l-2.5 2.5zM205.3 229.8l2.5 -2.5l2.5 2.5l-2.5 2.5zM207.7 229.7l2.5 -2.5l2.5 2.5l-2.5 2.5zM210 229.5l2.5 -2.5l2.5 2.5l-2.5 2.5zM212.4 229.2l2.5 -2.5l2.5 2.5l-2.5 2.5zM214.7 229l2.5 -2.5l2.5 2.5l-2.5 2.5zM217.1 228.8l2.5 -2.5l2.5 2.5l-2.5 2.5zM219.4 228.6l2.5 -2.5l2.5 2.5l-2.5 2.5zM221.8 228.3l2.5 -2.5l2.5 2.5l-2.5 2.5zM224.1 228.1l2.5 -2.5l2.5 2.5l-2.5 2.5zM226.5 227.9l2.5 -2.5l2.5 2.5l-2.5 2.5zM228.8 227.7l2.5 -2.5l2.5 2.5l-2.5 2.5zM231.2 227.6l2.5 -2.5l2.5 2.5l-2.5 2.5zM233.5 227.4l2.5 -2.5l2.5 2.5l-2.5 2.5zM235.9 227.3l2.5 -2.5l2.5 2.5l-2.5 2.5zM238.2 227.2l2.5 -2.5l2.5 2.5l-2.5 2.5zM240.5 227.1l2.5 -2.5l2.5 2.5l-2.5 2.5zM242.9 227l2.5 -2.5l2.5 2.5l-2.5 2.5zM245.2 227l2.5 -2.5l2.5 2.5l-2.5 2.5zM247.6 227l2.5 -2.5l2.5 2.5l-2.5 2.5zM249.9 226.9l2.5 -2.5l2.5 2.5l-2.5 2.5zM252.3 226.9l2.5 -2.5l2.5 2.5l-2.5 2.5zM254.6 226.9l2.5 -2.5l2.5 2.5l-2.5 2.5zM257 226.9l2.5 -2.5l2.5 2.5l-2.5 2.5zM259.3 226.9l2.5 -2.5l2.5 2.5l-2.5 2.5zM261.7 227l2.5 -2.5l2.5 2.5l-2.5 2.5zM264 227.1l2.5 -2.5l2.5 2.5l-2.5 2.5zM266.4 227.3l2.5 -2.5l2.5 2.5l-2.5 2.5zM268.7 227.5l2.5 -2.5l2.5 2.5l-2.5 2.5zM271.1 227.7l2.5 -2.5l2.5 2.5l-2.5 2.5zM273.4 228l2.5 -2.5l2.5 2.5l-2.5 2.5zM275.8 228.3l2.5 -2.5l2.5 2.5l-2.5 2.5zM278.1 228.7l2.5 -2.5l2.5 2.5l-2.5 2.5zM280.5 229.1l2.5 -2.5l2.5 2.5l-2.5 2.5zM282.8 229.6l2.5 -2.5l2.5 2.5l-2.5 2.5zM285.2 230.1l2.5 -2.5l2.5 2.5l-2.5 2.5zM287.5 230.7l2.5 -2.5l2.5 2.5l-2.5 2.5zM289.9 231.3l2.5 -2.5l2.5 2.5l-2.5 2.5zM292.2 232l2.5 -2.5l2.5 2.5l-2.5 2.5zM294.5 232.8l2.5 -2.5l2.5 2.5l-2.5 2.5zM296.9 233.5l2.5 -2.5l2.5 2.5l-2.5 2.5zM299.2 234.3l2.5 -2.5l2.5 2.5l-2.5 2.5zM301.6 235l2.5 -2.5l2.5 2.5l-2.5 2.5zM303.9 235.6l2.5 -2.5l2.5 2.5l-2.5 2.5zM306.3 236.3l2.5 -2.5l2.5 2.5l-2.5 2.5zM308.6 237l2.5 -2.5l2.5 2.5l-2.5 2.5zM311 237.7l2.5 -2.5l2.5 2.5l-2.5 2.5zM313.3 238.3l2.5 -2.5l2.5 2.5l-2.5 2.5zM315.7 239l2.5 -2.5l2.5 2.5l-2.5 2.5zM318 239.7l2.5 -2.5l2.5 2.5l-2.5 2.5zM320.4 240.4l2.5 -2.5l2.5 2.5l-2.5 2.5zM322.7 241l2.5 -2.5l2.5 2.5l-2.5 2.5zM325.1 241.7l2.5 -2.5l2.5 2.5l-2.5 2.5zM327.4 242.4l2.5 -2.5l2.5 2.5l-2.5 2.5zM329.8 243.1l2.5 -2.5l2.5 2.5l-2.5 2.5zM332.1 243.7l2.5 -2.5l2.5 2.5l-2.5 2.5zM334.5 244.4l2.5 -2.5l2.5 2.5l-2.5 2.5zM336.8 245.1l2.5 -2.5l2.5 2.5l-2.5 2.5zM339.2 245.7l2.5 -2.5l2.5 2.5l-2.5 2.5zM341.5 246.4l2.5 -2.5l2.5 2.5l-2.5 2.5zM343.9 247.1l2.5 -2.5l2.5 2.5l-2.5 2.5zM346.2 247.8l2.5 -2.5l2.5 2.5l-2.5 2.5zM348.5 248.4l2.5 -2.5l2.5 2.5l-2.5 2.5zM350.9 249.1l2.5 -2.5l2.5 2.5l-2.5 2.5zM353.2 249.8l2.5 -2.5l2.5 2.5l-2.5 2.5zM355.6 250.5l2.5 -2.5l2.5 2.5l-2.5 2.5zM357.9 251.1l2.5 -2.5l2.5 2.5l-2.5 2.5zM360.3 251.8l2.5 -2.5l2.5 2.5l-2.5 2.5zM362.6 252.5l2.5 -2.5l2.5 2.5l-2.5 2.5zM365 253.1l2.5 -2.5l2.5 2.5l-2.5 2.5z"/>
<path d="M364.7 253.1l2.7 -2.7l2.7 2.7l-2.7 2.7z" fill="#fff" stroke="#2f55b8" stroke-width="1.0"/></g>
<g id="b-lb"><path fill="#2ea3e6" stroke="#2ea3e6" stroke-width="1.0" d="M111.4 231.8l2.5 -4.7l2.5 4.7zM112.5 232.1l2.5 -4.7l2.5 4.7zM113.7 232.4l2.5 -4.7l2.5 4.7zM114.9 232.7l2.5 -4.7l2.5 4.7zM116.1 233l2.5 -4.7l2.5 4.7zM117.2 233.3l2.5 -4.7l2.5 4.7zM118.4 233.6l2.5 -4.7l2.5 4.7zM119.6 233.9l2.5 -4.7l2.5 4.7zM120.8 234.2l2.5 -4.7l2.5 4.7zM121.9 234.5l2.5 -4.7l2.5 4.7zM123.1 234.8l2.5 -4.7l2.5 4.7zM124.3 235.1l2.5 -4.7l2.5 4.7zM125.4 235.4l2.5 -4.7l2.5 4.7zM126.6 235.6l2.5 -4.7l2.5 4.7zM127.8 235.9l2.5 -4.7l2.5 4.7zM129 236.2l2.5 -4.7l2.5 4.7zM130.1 236.5l2.5 -4.7l2.5 4.7zM131.3 236.7l2.5 -4.7l2.5 4.7zM132.5 237l2.5 -4.7l2.5 4.7zM133.7 237.3l2.5 -4.7l2.5 4.7zM134.8 237.5l2.5 -4.7l2.5 4.7zM136 237.8l2.5 -4.7l2.5 4.7zM137.2 238.1l2.5 -4.7l2.5 4.7zM138.4 238.4l2.5 -4.7l2.5 4.7zM139.5 238.6l2.5 -4.7l2.5 4.7zM140.7 238.9l2.5 -4.7l2.5 4.7zM141.9 239.2l2.5 -4.7l2.5 4.7zM143.1 239.5l2.5 -4.7l2.5 4.7zM144.2 239.8l2.5 -4.7l2.5 4.7zM145.4 240.1l2.5 -4.7l2.5 4.7zM146.6 240.4l2.5 -4.7l2.5 4.7zM147.8 240.7l2.5 -4.7l2.5 4.7zM148.9 241l2.5 -4.7l2.5 4.7zM150.1 241.3l2.5 -4.7l2.5 4.7zM151.3 241.5l2.5 -4.7l2.5 4.7zM152.4 241.8l2.5 -4.7l2.5 4.7zM153.6 242l2.5 -4.7l2.5 4.7zM154.8 242.3l2.5 -4.7l2.5 4.7zM156 242.5l2.5 -4.7l2.5 4.7zM157.1 242.7l2.5 -4.7l2.5 4.7zM158.3 243l2.5 -4.7l2.5 4.7zM159.5 243.2l2.5 -4.7l2.5 4.7zM160.7 243.4l2.5 -4.7l2.5 4.7zM161.8 243.6l2.5 -4.7l2.5 4.7zM163 243.8l2.5 -4.7l2.5 4.7zM164.2 244l2.5 -4.7l2.5 4.7zM165.4 244.2l2.5 -4.7l2.5 4.7zM166.5 244.4l2.5 -4.7l2.5 4.7zM167.7 244.6l2.5 -4.7l2.5 4.7zM168.9 244.8l2.5 -4.7l2.5 4.7zM170.1 245l2.5 -4.7l2.5 4.7zM171.2 245.2l2.5 -4.7l2.5 4.7zM172.4 245.4l2.5 -4.7l2.5 4.7zM173.6 245.6l2.5 -4.7l2.5 4.7zM174.8 245.7l2.5 -4.7l2.5 4.7zM175.9 245.8l2.5 -4.7l2.5 4.7zM177.1 245.9l2.5 -4.7l2.5 4.7zM178.3 246l2.5 -4.7l2.5 4.7zM179.4 246l2.5 -4.7l2.5 4.7zM180.6 246.1l2.5 -4.7l2.5 4.7zM181.8 246.1l2.5 -4.7l2.5 4.7zM183 246.2l2.5 -4.7l2.5 4.7zM184.1 246.2l2.5 -4.7l2.5 4.7zM185.3 246.2l2.5 -4.7l2.5 4.7zM186.5 246.3l2.5 -4.7l2.5 4.7zM187.7 246.3l2.5 -4.7l2.5 4.7zM188.8 246.3l2.5 -4.7l2.5 4.7zM190 246.3l2.5 -4.7l2.5 4.7zM191.2 246.3l2.5 -4.7l2.5 4.7zM192.4 246.3l2.5 -4.7l2.5 4.7zM193.5 246.3l2.5 -4.7l2.5 4.7zM194.7 246.3l2.5 -4.7l2.5 4.7zM195.9 246.3l2.5 -4.7l2.5 4.7zM197.1 246.2l2.5 -4.7l2.5 4.7zM198.2 246.1l2.5 -4.7l2.5 4.7zM199.4 246.1l2.5 -4.7l2.5 4.7zM200.6 246l2.5 -4.7l2.5 4.7zM201.8 245.9l2.5 -4.7l2.5 4.7zM202.9 245.8l2.5 -4.7l2.5 4.7zM204.1 245.7l2.5 -4.7l2.5 4.7zM205.3 245.6l2.5 -4.7l2.5 4.7zM206.4 245.5l2.5 -4.7l2.5 4.7zM207.6 245.4l2.5 -4.7l2.5 4.7zM208.8 245.4l2.5 -4.7l2.5 4.7zM210 245.3l2.5 -4.7l2.5 4.7zM211.1 245.2l2.5 -4.7l2.5 4.7zM212.3 245.1l2.5 -4.7l2.5 4.7zM213.5 245l2.5 -4.7l2.5 4.7zM214.7 244.9l2.5 -4.7l2.5 4.7zM215.8 244.9l2.5 -4.7l2.5 4.7zM217 244.8l2.5 -4.7l2.5 4.7zM218.2 244.7l2.5 -4.7l2.5 4.7zM219.4 244.6l2.5 -4.7l2.5 4.7zM220.5 244.5l2.5 -4.7l2.5 4.7zM221.7 244.4l2.5 -4.7l2.5 4.7zM222.9 244.3l2.5 -4.7l2.5 4.7zM224.1 244.2l2.5 -4.7l2.5 4.7zM225.2 244.2l2.5 -4.7l2.5 4.7zM226.4 244.1l2.5 -4.7l2.5 4.7zM227.6 244l2.5 -4.7l2.5 4.7zM228.8 243.9l2.5 -4.7l2.5 4.7zM229.9 243.8l2.5 -4.7l2.5 4.7zM231.1 243.7l2.5 -4.7l2.5 4.7zM232.3 243.7l2.5 -4.7l2.5 4.7zM233.4 243.6l2.5 -4.7l2.5 4.7zM234.6 243.5l2.5 -4.7l2.5 4.7zM235.8 243.4l2.5 -4.7l2.5 4.7zM237 243.3l2.5 -4.7l2.5 4.7zM238.1 243.2l2.5 -4.7l2.5 4.7zM239.3 243.1l2.5 -4.7l2.5 4.7zM240.5 243l2.5 -4.7l2.5 4.7zM241.7 242.9l2.5 -4.7l2.5 4.7zM242.8 242.8l2.5 -4.7l2.5 4.7zM244 242.7l2.5 -4.7l2.5 4.7zM245.2 242.7l2.5 -4.7l2.5 4.7zM246.4 242.6l2.5 -4.7l2.5 4.7zM247.5 242.6l2.5 -4.7l2.5 4.7zM248.7 242.6l2.5 -4.7l2.5 4.7zM249.9 242.5l2.5 -4.7l2.5 4.7zM251.1 242.5l2.5 -4.7l2.5 4.7zM252.2 242.6l2.5 -4.7l2.5 4.7zM253.4 242.6l2.5 -4.7l2.5 4.7zM254.6 242.6l2.5 -4.7l2.5 4.7zM255.8 242.6l2.5 -4.7l2.5 4.7zM256.9 242.6l2.5 -4.7l2.5 4.7zM258.1 242.7l2.5 -4.7l2.5 4.7zM259.3 242.7l2.5 -4.7l2.5 4.7zM260.4 242.8l2.5 -4.7l2.5 4.7zM261.6 242.8l2.5 -4.7l2.5 4.7zM262.8 242.9l2.5 -4.7l2.5 4.7zM264 242.9l2.5 -4.7l2.5 4.7zM265.1 243l2.5 -4.7l2.5 4.7zM266.3 243.2l2.5 -4.7l2.5 4.7zM267.5 243.3l2.5 -4.7l2.5 4.7zM268.7 243.5l2.5 -4.7l2.5 4.7zM269.8 243.7l2.5 -4.7l2.5 4.7zM271 243.9l2.5 -4.7l2.5 4.7zM272.2 244.1l2.5 -4.7l2.5 4.7zM273.4 244.3l2.5 -4.7l2.5 4.7zM274.5 244.5l2.5 -4.7l2.5 4.7zM275.7 244.7l2.5 -4.7l2.5 4.7zM276.9 244.9l2.5 -4.7l2.5 4.7zM278.1 245.1l2.5 -4.7l2.5 4.7zM279.2 245.3l2.5 -4.7l2.5 4.7zM280.4 245.5l2.5 -4.7l2.5 4.7zM281.6 245.8l2.5 -4.7l2.5 4.7zM282.8 246l2.5 -4.7l2.5 4.7zM283.9 246.2l2.5 -4.7l2.5 4.7zM285.1 246.5l2.5 -4.7l2.5 4.7zM286.3 246.7l2.5 -4.7l2.5 4.7zM287.4 246.9l2.5 -4.7l2.5 4.7zM288.6 247.2l2.5 -4.7l2.5 4.7zM289.8 247.4l2.5 -4.7l2.5 4.7zM291 247.6l2.5 -4.7l2.5 4.7zM292.1 247.9l2.5 -4.7l2.5 4.7zM293.3 248.1l2.5 -4.7l2.5 4.7zM294.5 248.3l2.5 -4.7l2.5 4.7zM295.7 248.6l2.5 -4.7l2.5 4.7zM296.8 248.8l2.5 -4.7l2.5 4.7zM298 249.1l2.5 -4.7l2.5 4.7zM299.2 249.3l2.5 -4.7l2.5 4.7zM300.4 249.5l2.5 -4.7l2.5 4.7zM301.5 249.7l2.5 -4.7l2.5 4.7zM302.7 250l2.5 -4.7l2.5 4.7zM303.9 250.2l2.5 -4.7l2.5 4.7zM305.1 250.4l2.5 -4.7l2.5 4.7zM306.2 250.6l2.5 -4.7l2.5 4.7zM307.4 250.9l2.5 -4.7l2.5 4.7zM308.6 251.1l2.5 -4.7l2.5 4.7zM309.8 251.3l2.5 -4.7l2.5 4.7zM310.9 251.5l2.5 -4.7l2.5 4.7zM312.1 251.8l2.5 -4.7l2.5 4.7zM313.3 252l2.5 -4.7l2.5 4.7zM314.4 252.2l2.5 -4.7l2.5 4.7zM315.6 252.5l2.5 -4.7l2.5 4.7zM316.8 252.7l2.5 -4.7l2.5 4.7zM318 252.9l2.5 -4.7l2.5 4.7zM319.1 253.2l2.5 -4.7l2.5 4.7zM320.3 253.4l2.5 -4.7l2.5 4.7zM321.5 253.6l2.5 -4.7l2.5 4.7zM322.7 253.9l2.5 -4.7l2.5 4.7zM323.8 254.1l2.5 -4.7l2.5 4.7zM325 254.3l2.5 -4.7l2.5 4.7zM326.2 254.6l2.5 -4.7l2.5 4.7zM327.4 254.8l2.5 -4.7l2.5 4.7zM328.5 255.1l2.5 -4.7l2.5 4.7zM329.7 255.3l2.5 -4.7l2.5 4.7zM330.9 255.6l2.5 -4.7l2.5 4.7zM332.1 255.8l2.5 -4.7l2.5 4.7zM333.2 256.1l2.5 -4.7l2.5 4.7zM334.4 256.4l2.5 -4.7l2.5 4.7zM335.6 256.6l2.5 -4.7l2.5 4.7zM336.8 256.9l2.5 -4.7l2.5 4.7zM337.9 257.1l2.5 -4.7l2.5 4.7zM339.1 257.4l2.5 -4.7l2.5 4.7zM340.3 257.6l2.5 -4.7l2.5 4.7zM341.4 257.9l2.5 -4.7l2.5 4.7zM342.6 258.2l2.5 -4.7l2.5 4.7zM343.8 258.4l2.5 -4.7l2.5 4.7zM345 258.7l2.5 -4.7l2.5 4.7zM346.1 258.9l2.5 -4.7l2.5 4.7zM347.3 259.2l2.5 -4.7l2.5 4.7zM348.5 259.4l2.5 -4.7l2.5 4.7zM349.7 259.7l2.5 -4.7l2.5 4.7zM350.8 259.9l2.5 -4.7l2.5 4.7zM352 260.2l2.5 -4.7l2.5 4.7zM353.2 260.4l2.5 -4.7l2.5 4.7zM354.4 260.7l2.5 -4.7l2.5 4.7zM355.5 260.9l2.5 -4.7l2.5 4.7zM356.7 261.2l2.5 -4.7l2.5 4.7zM357.9 261.4l2.5 -4.7l2.5 4.7zM359.1 261.7l2.5 -4.7l2.5 4.7zM360.2 261.9l2.5 -4.7l2.5 4.7zM361.4 262.2l2.5 -4.7l2.5 4.7zM362.6 262.4l2.5 -4.7l2.5 4.7zM363.7 262.7l2.5 -4.7l2.5 4.7zM364.9 262.9l2.5 -4.7l2.5 4.7z"/>
<path fill="#aedcf7" d="M111.9 231.3l2 -3.6l2 3.6zM113.1 231.6l2 -3.6l2 3.6zM114.3 231.9l2 -3.6l2 3.6zM115.4 232.2l2 -3.6l2 3.6zM116.6 232.5l2 -3.6l2 3.6zM117.8 232.8l2 -3.6l2 3.6zM119 233.1l2 -3.6l2 3.6zM120.1 233.4l2 -3.6l2 3.6zM121.3 233.7l2 -3.6l2 3.6zM122.5 234l2 -3.6l2 3.6zM123.7 234.3l2 -3.6l2 3.6zM124.8 234.6l2 -3.6l2 3.6zM126 234.9l2 -3.6l2 3.6zM127.2 235.2l2 -3.6l2 3.6zM128.4 235.4l2 -3.6l2 3.6zM129.5 235.7l2 -3.6l2 3.6zM130.7 236l2 -3.6l2 3.6zM131.9 236.3l2 -3.6l2 3.6zM133.1 236.5l2 -3.6l2 3.6zM134.2 236.8l2 -3.6l2 3.6zM135.4 237.1l2 -3.6l2 3.6zM136.6 237.3l2 -3.6l2 3.6zM137.7 237.6l2 -3.6l2 3.6zM138.9 237.9l2 -3.6l2 3.6zM140.1 238.2l2 -3.6l2 3.6zM141.3 238.4l2 -3.6l2 3.6zM142.4 238.7l2 -3.6l2 3.6zM143.6 239l2 -3.6l2 3.6zM144.8 239.3l2 -3.6l2 3.6zM146 239.6l2 -3.6l2 3.6zM147.1 239.9l2 -3.6l2 3.6zM148.3 240.2l2 -3.6l2 3.6zM149.5 240.5l2 -3.6l2 3.6zM150.7 240.8l2 -3.6l2 3.6zM151.8 241l2 -3.6l2 3.6zM153 241.3l2 -3.6l2 3.6zM154.2 241.5l2 -3.6l2 3.6zM155.4 241.8l2 -3.6l2 3.6zM156.5 242l2 -3.6l2 3.6zM157.7 242.2l2 -3.6l2 3.6zM158.9 242.5l2 -3.6l2 3.6zM160.1 242.7l2 -3.6l2 3.6zM161.2 242.9l2 -3.6l2 3.6zM162.4 243.1l2 -3.6l2 3.6zM163.6 243.3l2 -3.6l2 3.6zM164.7 243.5l2 -3.6l2 3.6zM165.9 243.7l2 -3.6l2 3.6zM167.1 243.9l2 -3.6l2 3.6zM168.3 244.1l2 -3.6l2 3.6zM169.4 244.3l2 -3.6l2 3.6zM170.6 244.6l2 -3.6l2 3.6zM171.8 244.8l2 -3.6l2 3.6zM173 244.9l2 -3.6l2 3.6zM174.1 245.1l2 -3.6l2 3.6zM175.3 245.2l2 -3.6l2 3.6zM176.5 245.4l2 -3.6l2 3.6zM177.7 245.4l2 -3.6l2 3.6zM178.8 245.5l2 -3.6l2 3.6zM180 245.6l2 -3.6l2 3.6zM181.2 245.6l2 -3.6l2 3.6zM182.4 245.6l2 -3.6l2 3.6zM183.5 245.7l2 -3.6l2 3.6zM184.7 245.7l2 -3.6l2 3.6zM185.9 245.8l2 -3.6l2 3.6zM187 245.8l2 -3.6l2 3.6zM188.2 245.8l2 -3.6l2 3.6zM189.4 245.8l2 -3.6l2 3.6zM190.6 245.9l2 -3.6l2 3.6zM191.7 245.9l2 -3.6l2 3.6zM192.9 245.9l2 -3.6l2 3.6zM194.1 245.9l2 -3.6l2 3.6zM195.3 245.8l2 -3.6l2 3.6zM196.4 245.8l2 -3.6l2 3.6zM197.6 245.7l2 -3.6l2 3.6zM198.8 245.7l2 -3.6l2 3.6zM200 245.6l2 -3.6l2 3.6zM201.1 245.5l2 -3.6l2 3.6zM202.3 245.4l2 -3.6l2 3.6zM203.5 245.3l2 -3.6l2 3.6zM204.7 245.2l2 -3.6l2 3.6zM205.8 245.1l2 -3.6l2 3.6zM207 245l2 -3.6l2 3.6zM208.2 245l2 -3.6l2 3.6zM209.4 244.9l2 -3.6l2 3.6zM210.5 244.8l2 -3.6l2 3.6zM211.7 244.7l2 -3.6l2 3.6zM212.9 244.6l2 -3.6l2 3.6zM214 244.6l2 -3.6l2 3.6zM215.2 244.5l2 -3.6l2 3.6zM216.4 244.4l2 -3.6l2 3.6zM217.6 244.3l2 -3.6l2 3.6zM218.7 244.2l2 -3.6l2 3.6zM219.9 244.1l2 -3.6l2 3.6zM221.1 244l2 -3.6l2 3.6zM222.3 243.9l2 -3.6l2 3.6zM223.4 243.9l2 -3.6l2 3.6zM224.6 243.8l2 -3.6l2 3.6zM225.8 243.7l2 -3.6l2 3.6zM227 243.6l2 -3.6l2 3.6zM228.1 243.5l2 -3.6l2 3.6zM229.3 243.4l2 -3.6l2 3.6zM230.5 243.3l2 -3.6l2 3.6zM231.7 243.3l2 -3.6l2 3.6zM232.8 243.2l2 -3.6l2 3.6zM234 243.1l2 -3.6l2 3.6zM235.2 243l2 -3.6l2 3.6zM236.4 242.9l2 -3.6l2 3.6zM237.5 242.8l2 -3.6l2 3.6zM238.7 242.7l2 -3.6l2 3.6zM239.9 242.6l2 -3.6l2 3.6zM241 242.5l2 -3.6l2 3.6zM242.2 242.4l2 -3.6l2 3.6zM243.4 242.4l2 -3.6l2 3.6zM244.6 242.3l2 -3.6l2 3.6zM245.7 242.2l2 -3.6l2 3.6zM246.9 242.1l2 -3.6l2 3.6zM248.1 242.1l2 -3.6l2 3.6zM249.3 242.1l2 -3.6l2 3.6zM250.4 242.1l2 -3.6l2 3.6zM251.6 242.1l2 -3.6l2 3.6zM252.8 242.1l2 -3.6l2 3.6zM254 242.1l2 -3.6l2 3.6zM255.1 242.1l2 -3.6l2 3.6zM256.3 242.1l2 -3.6l2 3.6zM257.5 242.2l2 -3.6l2 3.6zM258.7 242.2l2 -3.6l2 3.6zM259.8 242.2l2 -3.6l2 3.6zM261 242.3l2 -3.6l2 3.6zM262.2 242.3l2 -3.6l2 3.6zM263.4 242.4l2 -3.6l2 3.6zM264.5 242.5l2 -3.6l2 3.6zM265.7 242.6l2 -3.6l2 3.6zM266.9 242.7l2 -3.6l2 3.6zM268 242.8l2 -3.6l2 3.6zM269.2 243l2 -3.6l2 3.6zM270.4 243.2l2 -3.6l2 3.6zM271.6 243.4l2 -3.6l2 3.6zM272.7 243.6l2 -3.6l2 3.6zM273.9 243.8l2 -3.6l2 3.6zM275.1 244l2 -3.6l2 3.6zM276.3 244.2l2 -3.6l2 3.6zM277.4 244.4l2 -3.6l2 3.6zM278.6 244.6l2 -3.6l2 3.6zM279.8 244.8l2 -3.6l2 3.6zM281 245l2 -3.6l2 3.6zM282.1 245.3l2 -3.6l2 3.6zM283.3 245.5l2 -3.6l2 3.6zM284.5 245.8l2 -3.6l2 3.6zM285.7 246l2 -3.6l2 3.6zM286.8 246.2l2 -3.6l2 3.6zM288 246.5l2 -3.6l2 3.6zM289.2 246.7l2 -3.6l2 3.6zM290.4 246.9l2 -3.6l2 3.6zM291.5 247.2l2 -3.6l2 3.6zM292.7 247.4l2 -3.6l2 3.6zM293.9 247.6l2 -3.6l2 3.6zM295 247.9l2 -3.6l2 3.6zM296.2 248.1l2 -3.6l2 3.6zM297.4 248.3l2 -3.6l2 3.6zM298.6 248.6l2 -3.6l2 3.6zM299.7 248.8l2 -3.6l2 3.6zM300.9 249l2 -3.6l2 3.6zM302.1 249.3l2 -3.6l2 3.6zM303.3 249.5l2 -3.6l2 3.6zM304.4 249.7l2 -3.6l2 3.6zM305.6 249.9l2 -3.6l2 3.6zM306.8 250.2l2 -3.6l2 3.6zM308 250.4l2 -3.6l2 3.6zM309.1 250.6l2 -3.6l2 3.6zM310.3 250.8l2 -3.6l2 3.6zM311.5 251.1l2 -3.6l2 3.6zM312.7 251.3l2 -3.6l2 3.6zM313.8 251.5l2 -3.6l2 3.6zM315 251.8l2 -3.6l2 3.6zM316.2 252l2 -3.6l2 3.6zM317.4 252.2l2 -3.6l2 3.6zM318.5 252.4l2 -3.6l2 3.6zM319.7 252.7l2 -3.6l2 3.6zM320.9 252.9l2 -3.6l2 3.6zM322 253.2l2 -3.6l2 3.6zM323.2 253.4l2 -3.6l2 3.6zM324.4 253.6l2 -3.6l2 3.6zM325.6 253.9l2 -3.6l2 3.6zM326.7 254.1l2 -3.6l2 3.6zM327.9 254.4l2 -3.6l2 3.6zM329.1 254.6l2 -3.6l2 3.6zM330.3 254.9l2 -3.6l2 3.6zM331.4 255.1l2 -3.6l2 3.6zM332.6 255.4l2 -3.6l2 3.6zM333.8 255.6l2 -3.6l2 3.6zM335 255.9l2 -3.6l2 3.6zM336.1 256.1l2 -3.6l2 3.6zM337.3 256.4l2 -3.6l2 3.6zM338.5 256.7l2 -3.6l2 3.6zM339.7 256.9l2 -3.6l2 3.6zM340.8 257.2l2 -3.6l2 3.6zM342 257.4l2 -3.6l2 3.6zM343.2 257.7l2 -3.6l2 3.6zM344.4 257.9l2 -3.6l2 3.6zM345.5 258.2l2 -3.6l2 3.6zM346.7 258.4l2 -3.6l2 3.6zM347.9 258.7l2 -3.6l2 3.6zM349 258.9l2 -3.6l2 3.6zM350.2 259.2l2 -3.6l2 3.6zM351.4 259.4l2 -3.6l2 3.6zM352.6 259.7l2 -3.6l2 3.6zM353.7 259.9l2 -3.6l2 3.6zM354.9 260.2l2 -3.6l2 3.6zM356.1 260.4l2 -3.6l2 3.6zM357.3 260.7l2 -3.6l2 3.6zM358.4 260.9l2 -3.6l2 3.6zM359.6 261.2l2 -3.6l2 3.6zM360.8 261.4l2 -3.6l2 3.6zM362 261.7l2 -3.6l2 3.6zM363.1 261.9l2 -3.6l2 3.6zM364.3 262.2l2 -3.6l2 3.6zM365.5 262.4l2 -3.6l2 3.6z"/>
<path fill="none" stroke="#2ea3e6" stroke-opacity="0.45" stroke-width="0.6" d="M111.6 231.6l2.3 -4.2l2.3 4.2zM113.9 232.2l2.3 -4.2l2.3 4.2zM116.3 232.8l2.3 -4.2l2.3 4.2zM118.6 233.4l2.3 -4.2l2.3 4.2zM121 234l2.3 -4.2l2.3 4.2zM123.3 234.6l2.3 -4.2l2.3 4.2zM125.7 235.2l2.3 -4.2l2.3 4.2zM128 235.7l2.3 -4.2l2.3 4.2zM130.4 236.3l2.3 -4.2l2.3 4.2zM132.7 236.8l2.3 -4.2l2.3 4.2zM135.1 237.4l2.3 -4.2l2.3 4.2zM137.4 237.9l2.3 -4.2l2.3 4.2zM139.8 238.4l2.3 -4.2l2.3 4.2zM142.1 239l2.3 -4.2l2.3 4.2zM144.5 239.6l2.3 -4.2l2.3 4.2zM146.8 240.2l2.3 -4.2l2.3 4.2zM149.1 240.8l2.3 -4.2l2.3 4.2zM151.5 241.3l2.3 -4.2l2.3 4.2zM153.8 241.8l2.3 -4.2l2.3 4.2zM156.2 242.3l2.3 -4.2l2.3 4.2zM158.5 242.8l2.3 -4.2l2.3 4.2zM160.9 243.2l2.3 -4.2l2.3 4.2zM163.2 243.6l2.3 -4.2l2.3 4.2zM165.6 244l2.3 -4.2l2.3 4.2zM167.9 244.4l2.3 -4.2l2.3 4.2zM170.3 244.8l2.3 -4.2l2.3 4.2zM172.6 245.2l2.3 -4.2l2.3 4.2zM175 245.5l2.3 -4.2l2.3 4.2zM177.3 245.7l2.3 -4.2l2.3 4.2zM179.7 245.8l2.3 -4.2l2.3 4.2zM182 245.9l2.3 -4.2l2.3 4.2zM184.4 246l2.3 -4.2l2.3 4.2zM186.7 246.1l2.3 -4.2l2.3 4.2zM189.1 246.1l2.3 -4.2l2.3 4.2zM191.4 246.1l2.3 -4.2l2.3 4.2zM193.8 246.1l2.3 -4.2l2.3 4.2zM196.1 246.1l2.3 -4.2l2.3 4.2zM198.5 245.9l2.3 -4.2l2.3 4.2zM200.8 245.8l2.3 -4.2l2.3 4.2zM203.1 245.6l2.3 -4.2l2.3 4.2zM205.5 245.4l2.3 -4.2l2.3 4.2zM207.8 245.2l2.3 -4.2l2.3 4.2zM210.2 245.1l2.3 -4.2l2.3 4.2zM212.5 244.9l2.3 -4.2l2.3 4.2zM214.9 244.8l2.3 -4.2l2.3 4.2zM217.2 244.6l2.3 -4.2l2.3 4.2zM219.6 244.4l2.3 -4.2l2.3 4.2zM221.9 244.2l2.3 -4.2l2.3 4.2zM224.3 244.1l2.3 -4.2l2.3 4.2zM226.6 243.9l2.3 -4.2l2.3 4.2zM229 243.7l2.3 -4.2l2.3 4.2zM231.3 243.5l2.3 -4.2l2.3 4.2zM233.7 243.4l2.3 -4.2l2.3 4.2zM236 243.2l2.3 -4.2l2.3 4.2zM238.4 243l2.3 -4.2l2.3 4.2zM240.7 242.8l2.3 -4.2l2.3 4.2zM243.1 242.6l2.3 -4.2l2.3 4.2zM245.4 242.5l2.3 -4.2l2.3 4.2zM247.8 242.4l2.3 -4.2l2.3 4.2zM250.1 242.4l2.3 -4.2l2.3 4.2zM252.5 242.4l2.3 -4.2l2.3 4.2zM254.8 242.4l2.3 -4.2l2.3 4.2zM257.1 242.5l2.3 -4.2l2.3 4.2zM259.5 242.5l2.3 -4.2l2.3 4.2zM261.8 242.6l2.3 -4.2l2.3 4.2zM264.2 242.7l2.3 -4.2l2.3 4.2zM266.5 243l2.3 -4.2l2.3 4.2zM268.9 243.3l2.3 -4.2l2.3 4.2zM271.2 243.7l2.3 -4.2l2.3 4.2zM273.6 244.1l2.3 -4.2l2.3 4.2zM275.9 244.5l2.3 -4.2l2.3 4.2zM278.3 244.9l2.3 -4.2l2.3 4.2zM280.6 245.3l2.3 -4.2l2.3 4.2zM283 245.8l2.3 -4.2l2.3 4.2zM285.3 246.3l2.3 -4.2l2.3 4.2zM287.7 246.7l2.3 -4.2l2.3 4.2zM290 247.2l2.3 -4.2l2.3 4.2zM292.4 247.7l2.3 -4.2l2.3 4.2zM294.7 248.2l2.3 -4.2l2.3 4.2zM297.1 248.6l2.3 -4.2l2.3 4.2zM299.4 249.1l2.3 -4.2l2.3 4.2zM301.8 249.6l2.3 -4.2l2.3 4.2zM304.1 250l2.3 -4.2l2.3 4.2zM306.5 250.5l2.3 -4.2l2.3 4.2zM308.8 250.9l2.3 -4.2l2.3 4.2zM311.1 251.3l2.3 -4.2l2.3 4.2zM313.5 251.8l2.3 -4.2l2.3 4.2zM315.8 252.3l2.3 -4.2l2.3 4.2zM318.2 252.7l2.3 -4.2l2.3 4.2zM320.5 253.2l2.3 -4.2l2.3 4.2zM322.9 253.7l2.3 -4.2l2.3 4.2zM325.2 254.2l2.3 -4.2l2.3 4.2zM327.6 254.7l2.3 -4.2l2.3 4.2zM329.9 255.2l2.3 -4.2l2.3 4.2zM332.3 255.7l2.3 -4.2l2.3 4.2zM334.6 256.2l2.3 -4.2l2.3 4.2zM337 256.7l2.3 -4.2l2.3 4.2zM339.3 257.2l2.3 -4.2l2.3 4.2zM341.7 257.7l2.3 -4.2l2.3 4.2zM344 258.2l2.3 -4.2l2.3 4.2zM346.4 258.7l2.3 -4.2l2.3 4.2zM348.7 259.2l2.3 -4.2l2.3 4.2zM351.1 259.7l2.3 -4.2l2.3 4.2zM353.4 260.2l2.3 -4.2l2.3 4.2zM355.8 260.7l2.3 -4.2l2.3 4.2zM358.1 261.2l2.3 -4.2l2.3 4.2zM360.5 261.7l2.3 -4.2l2.3 4.2zM362.8 262.2l2.3 -4.2l2.3 4.2zM365.1 262.7l2.3 -4.2l2.3 4.2z"/>
<path d="M364.9 262.9l2.5 -4.7l2.5 4.7z" fill="#fff" stroke="#2ea3e6" stroke-width="1.0"/></g>
<path d="M258.8 217.5H264.25V247.5H258.8" fill="none" stroke="#4a4a4a" stroke-width="0.8"/>
<g stroke="#2e2e2e" stroke-width="0.9" fill="none">
<line x1="52.89" y1="138.0" x2="52.89" y2="135.0"/>
<line x1="61.15" y1="138.0" x2="61.15" y2="135.0"/>
<line x1="67.02" y1="138.0" x2="67.02" y2="135.0"/>
<line x1="71.57" y1="138.0" x2="71.57" y2="135.0"/>
<line x1="75.29" y1="138.0" x2="75.29" y2="135.0"/>
<line x1="78.43" y1="138.0" x2="78.43" y2="135.0"/>
<line x1="81.16" y1="138.0" x2="81.16" y2="135.0"/>
<line x1="83.56" y1="138.0" x2="83.56" y2="135.0"/>
<line x1="85.71" y1="138.0" x2="85.71" y2="133.4"/>
<line x1="99.84" y1="138.0" x2="99.84" y2="135.0"/>
<line x1="108.11" y1="138.0" x2="108.11" y2="135.0"/>
<line x1="113.98" y1="138.0" x2="113.98" y2="135.0"/>
<line x1="118.53" y1="138.0" x2="118.53" y2="135.0"/>
<line x1="122.25" y1="138.0" x2="122.25" y2="135.0"/>
<line x1="125.39" y1="138.0" x2="125.39" y2="135.0"/>
<line x1="128.11" y1="138.0" x2="128.11" y2="135.0"/>
<line x1="130.51" y1="138.0" x2="130.51" y2="135.0"/>
<line x1="132.66" y1="138.0" x2="132.66" y2="133.4"/>
<line x1="146.80" y1="138.0" x2="146.80" y2="135.0"/>
<line x1="155.07" y1="138.0" x2="155.07" y2="135.0"/>
<line x1="160.93" y1="138.0" x2="160.93" y2="135.0"/>
<line x1="165.48" y1="138.0" x2="165.48" y2="135.0"/>
<line x1="169.20" y1="138.0" x2="169.20" y2="135.0"/>
<line x1="172.35" y1="138.0" x2="172.35" y2="135.0"/>
<line x1="175.07" y1="138.0" x2="175.07" y2="135.0"/>
<line x1="177.47" y1="138.0" x2="177.47" y2="135.0"/>
<line x1="179.62" y1="138.0" x2="179.62" y2="133.4"/>
<line x1="193.75" y1="138.0" x2="193.75" y2="135.0"/>
<line x1="202.02" y1="138.0" x2="202.02" y2="135.0"/>
<line x1="207.89" y1="138.0" x2="207.89" y2="135.0"/>
<line x1="212.44" y1="138.0" x2="212.44" y2="135.0"/>
<line x1="216.16" y1="138.0" x2="216.16" y2="135.0"/>
<line x1="219.30" y1="138.0" x2="219.30" y2="135.0"/>
<line x1="222.02" y1="138.0" x2="222.02" y2="135.0"/>
<line x1="224.43" y1="138.0" x2="224.43" y2="135.0"/>
<line x1="226.57" y1="138.0" x2="226.57" y2="133.4"/>
<line x1="240.71" y1="138.0" x2="240.71" y2="135.0"/>
<line x1="248.98" y1="138.0" x2="248.98" y2="135.0"/>
<line x1="254.85" y1="138.0" x2="254.85" y2="135.0"/>
<line x1="259.40" y1="138.0" x2="259.40" y2="135.0"/>
<line x1="263.11" y1="138.0" x2="263.11" y2="135.0"/>
<line x1="266.26" y1="138.0" x2="266.26" y2="135.0"/>
<line x1="268.98" y1="138.0" x2="268.98" y2="135.0"/>
<line x1="271.38" y1="138.0" x2="271.38" y2="135.0"/>
<line x1="273.53" y1="138.0" x2="273.53" y2="133.4"/>
<line x1="287.67" y1="138.0" x2="287.67" y2="135.0"/>
<line x1="295.94" y1="138.0" x2="295.94" y2="135.0"/>
<line x1="301.80" y1="138.0" x2="301.80" y2="135.0"/>
<line x1="306.35" y1="138.0" x2="306.35" y2="135.0"/>
<line x1="310.07" y1="138.0" x2="310.07" y2="135.0"/>
<line x1="313.21" y1="138.0" x2="313.21" y2="135.0"/>
<line x1="315.94" y1="138.0" x2="315.94" y2="135.0"/>
<line x1="318.34" y1="138.0" x2="318.34" y2="135.0"/>
<line x1="320.49" y1="138.0" x2="320.49" y2="133.4"/>
<line x1="334.62" y1="138.0" x2="334.62" y2="135.0"/>
<line x1="342.89" y1="138.0" x2="342.89" y2="135.0"/>
<line x1="348.76" y1="138.0" x2="348.76" y2="135.0"/>
<line x1="353.31" y1="138.0" x2="353.31" y2="135.0"/>
<line x1="357.03" y1="138.0" x2="357.03" y2="135.0"/>
<line x1="360.17" y1="138.0" x2="360.17" y2="135.0"/>
<line x1="362.89" y1="138.0" x2="362.89" y2="135.0"/>
<line x1="365.30" y1="138.0" x2="365.30" y2="135.0"/>
<line x1="367.44" y1="138.0" x2="367.44" y2="133.4"/>
<line x1="381.58" y1="138.0" x2="381.58" y2="135.0"/>
<line x1="389.85" y1="138.0" x2="389.85" y2="135.0"/>
<line x1="395.71" y1="138.0" x2="395.71" y2="135.0"/>
<line x1="400.26" y1="138.0" x2="400.26" y2="135.0"/>
<line x1="403.98" y1="138.0" x2="403.98" y2="135.0"/>
<line x1="407.13" y1="138.0" x2="407.13" y2="135.0"/>
<line x1="409.85" y1="138.0" x2="409.85" y2="135.0"/>
<line x1="412.25" y1="138.0" x2="412.25" y2="135.0"/>
<line x1="52.89" y1="270.9" x2="52.89" y2="267.9"/>
<line x1="61.15" y1="270.9" x2="61.15" y2="267.9"/>
<line x1="67.02" y1="270.9" x2="67.02" y2="267.9"/>
<line x1="71.57" y1="270.9" x2="71.57" y2="267.9"/>
<line x1="75.29" y1="270.9" x2="75.29" y2="267.9"/>
<line x1="78.43" y1="270.9" x2="78.43" y2="267.9"/>
<line x1="81.16" y1="270.9" x2="81.16" y2="267.9"/>
<line x1="83.56" y1="270.9" x2="83.56" y2="267.9"/>
<line x1="85.71" y1="270.9" x2="85.71" y2="266.29999999999995"/>
<line x1="99.84" y1="270.9" x2="99.84" y2="267.9"/>
<line x1="108.11" y1="270.9" x2="108.11" y2="267.9"/>
<line x1="113.98" y1="270.9" x2="113.98" y2="267.9"/>
<line x1="118.53" y1="270.9" x2="118.53" y2="267.9"/>
<line x1="122.25" y1="270.9" x2="122.25" y2="267.9"/>
<line x1="125.39" y1="270.9" x2="125.39" y2="267.9"/>
<line x1="128.11" y1="270.9" x2="128.11" y2="267.9"/>
<line x1="130.51" y1="270.9" x2="130.51" y2="267.9"/>
<line x1="132.66" y1="270.9" x2="132.66" y2="266.29999999999995"/>
<line x1="146.80" y1="270.9" x2="146.80" y2="267.9"/>
<line x1="155.07" y1="270.9" x2="155.07" y2="267.9"/>
<line x1="160.93" y1="270.9" x2="160.93" y2="267.9"/>
<line x1="165.48" y1="270.9" x2="165.48" y2="267.9"/>
<line x1="169.20" y1="270.9" x2="169.20" y2="267.9"/>
<line x1="172.35" y1="270.9" x2="172.35" y2="267.9"/>
<line x1="175.07" y1="270.9" x2="175.07" y2="267.9"/>
<line x1="177.47" y1="270.9" x2="177.47" y2="267.9"/>
<line x1="179.62" y1="270.9" x2="179.62" y2="266.29999999999995"/>
<line x1="193.75" y1="270.9" x2="193.75" y2="267.9"/>
<line x1="202.02" y1="270.9" x2="202.02" y2="267.9"/>
<line x1="207.89" y1="270.9" x2="207.89" y2="267.9"/>
<line x1="212.44" y1="270.9" x2="212.44" y2="267.9"/>
<line x1="216.16" y1="270.9" x2="216.16" y2="267.9"/>
<line x1="219.30" y1="270.9" x2="219.30" y2="267.9"/>
<line x1="222.02" y1="270.9" x2="222.02" y2="267.9"/>
<line x1="224.43" y1="270.9" x2="224.43" y2="267.9"/>
<line x1="226.57" y1="270.9" x2="226.57" y2="266.29999999999995"/>
<line x1="240.71" y1="270.9" x2="240.71" y2="267.9"/>
<line x1="248.98" y1="270.9" x2="248.98" y2="267.9"/>
<line x1="254.85" y1="270.9" x2="254.85" y2="267.9"/>
<line x1="259.40" y1="270.9" x2="259.40" y2="267.9"/>
<line x1="263.11" y1="270.9" x2="263.11" y2="267.9"/>
<line x1="266.26" y1="270.9" x2="266.26" y2="267.9"/>
<line x1="268.98" y1="270.9" x2="268.98" y2="267.9"/>
<line x1="271.38" y1="270.9" x2="271.38" y2="267.9"/>
<line x1="273.53" y1="270.9" x2="273.53" y2="266.29999999999995"/>
<line x1="287.67" y1="270.9" x2="287.67" y2="267.9"/>
<line x1="295.94" y1="270.9" x2="295.94" y2="267.9"/>
<line x1="301.80" y1="270.9" x2="301.80" y2="267.9"/>
<line x1="306.35" y1="270.9" x2="306.35" y2="267.9"/>
<line x1="310.07" y1="270.9" x2="310.07" y2="267.9"/>
<line x1="313.21" y1="270.9" x2="313.21" y2="267.9"/>
<line x1="315.94" y1="270.9" x2="315.94" y2="267.9"/>
<line x1="318.34" y1="270.9" x2="318.34" y2="267.9"/>
<line x1="320.49" y1="270.9" x2="320.49" y2="266.29999999999995"/>
<line x1="334.62" y1="270.9" x2="334.62" y2="267.9"/>
<line x1="342.89" y1="270.9" x2="342.89" y2="267.9"/>
<line x1="348.76" y1="270.9" x2="348.76" y2="267.9"/>
<line x1="353.31" y1="270.9" x2="353.31" y2="267.9"/>
<line x1="357.03" y1="270.9" x2="357.03" y2="267.9"/>
<line x1="360.17" y1="270.9" x2="360.17" y2="267.9"/>
<line x1="362.89" y1="270.9" x2="362.89" y2="267.9"/>
<line x1="365.30" y1="270.9" x2="365.30" y2="267.9"/>
<line x1="367.44" y1="270.9" x2="367.44" y2="266.29999999999995"/>
<line x1="381.58" y1="270.9" x2="381.58" y2="267.9"/>
<line x1="389.85" y1="270.9" x2="389.85" y2="267.9"/>
<line x1="395.71" y1="270.9" x2="395.71" y2="267.9"/>
<line x1="400.26" y1="270.9" x2="400.26" y2="267.9"/>
<line x1="403.98" y1="270.9" x2="403.98" y2="267.9"/>
<line x1="407.13" y1="270.9" x2="407.13" y2="267.9"/>
<line x1="409.85" y1="270.9" x2="409.85" y2="267.9"/>
<line x1="412.25" y1="270.9" x2="412.25" y2="267.9"/>
<line x1="38.75" y1="137.90" x2="43.15" y2="137.90" stroke-width="1.1"/>
<line x1="38.75" y1="128.24" x2="41.35" y2="128.24"/>
<line x1="38.75" y1="122.58" x2="41.35" y2="122.58"/>
<line x1="38.75" y1="118.57" x2="41.35" y2="118.57"/>
<line x1="38.75" y1="115.46" x2="41.35" y2="115.46"/>
<line x1="38.75" y1="112.92" x2="41.35" y2="112.92"/>
<line x1="38.75" y1="110.77" x2="41.35" y2="110.77"/>
<line x1="38.75" y1="108.91" x2="41.35" y2="108.91"/>
<line x1="38.75" y1="107.27" x2="41.35" y2="107.27"/>
<line x1="38.75" y1="105.80" x2="43.15" y2="105.80" stroke-width="1.1"/>
<line x1="38.75" y1="96.14" x2="41.35" y2="96.14"/>
<line x1="38.75" y1="90.48" x2="41.35" y2="90.48"/>
<line x1="38.75" y1="86.47" x2="41.35" y2="86.47"/>
<line x1="38.75" y1="83.36" x2="41.35" y2="83.36"/>
<line x1="38.75" y1="80.82" x2="41.35" y2="80.82"/>
<line x1="38.75" y1="78.67" x2="41.35" y2="78.67"/>
<line x1="38.75" y1="76.81" x2="41.35" y2="76.81"/>
<line x1="38.75" y1="75.17" x2="41.35" y2="75.17"/>
<line x1="38.75" y1="73.70" x2="43.15" y2="73.70" stroke-width="1.1"/>
<line x1="38.75" y1="64.04" x2="41.35" y2="64.04"/>
<line x1="38.75" y1="58.38" x2="41.35" y2="58.38"/>
<line x1="38.75" y1="54.37" x2="41.35" y2="54.37"/>
<line x1="38.75" y1="51.26" x2="41.35" y2="51.26"/>
<line x1="38.75" y1="48.72" x2="41.35" y2="48.72"/>
<line x1="38.75" y1="46.57" x2="41.35" y2="46.57"/>
<line x1="38.75" y1="44.71" x2="41.35" y2="44.71"/>
<line x1="38.75" y1="43.07" x2="41.35" y2="43.07"/>
<line x1="38.75" y1="41.60" x2="43.15" y2="41.60" stroke-width="1.1"/>
<line x1="38.75" y1="31.94" x2="41.35" y2="31.94"/>
<line x1="38.75" y1="26.28" x2="41.35" y2="26.28"/>
<line x1="38.75" y1="22.27" x2="41.35" y2="22.27"/>
<line x1="38.75" y1="19.16" x2="41.35" y2="19.16"/>
<line x1="38.75" y1="16.62" x2="41.35" y2="16.62"/>
<line x1="38.75" y1="14.47" x2="41.35" y2="14.47"/>
<line x1="38.75" y1="12.61" x2="41.35" y2="12.61"/>
<line x1="38.75" y1="10.97" x2="41.35" y2="10.97"/>
<line x1="38.75" y1="9.50" x2="43.15" y2="9.50" stroke-width="1.1"/>
<line x1="38.75" y1="270.90" x2="43.15" y2="270.90" stroke-width="1.1"/>
<line x1="38.75" y1="255.63" x2="41.35" y2="255.63"/>
<line x1="38.75" y1="251.63" x2="41.35" y2="251.63"/>
<line x1="38.75" y1="248.53" x2="41.35" y2="248.53"/>
<line x1="38.75" y1="246.00" x2="41.35" y2="246.00"/>
<line x1="38.75" y1="243.86" x2="41.35" y2="243.86"/>
<line x1="38.75" y1="242.00" x2="41.35" y2="242.00"/>
<line x1="38.75" y1="240.36" x2="41.35" y2="240.36"/>
<line x1="38.75" y1="238.90" x2="43.15" y2="238.90" stroke-width="1.1"/>
<line x1="38.75" y1="223.63" x2="41.35" y2="223.63"/>
<line x1="38.75" y1="219.63" x2="41.35" y2="219.63"/>
<line x1="38.75" y1="216.53" x2="41.35" y2="216.53"/>
<line x1="38.75" y1="214.00" x2="41.35" y2="214.00"/>
<line x1="38.75" y1="211.86" x2="41.35" y2="211.86"/>
<line x1="38.75" y1="210.00" x2="41.35" y2="210.00"/>
<line x1="38.75" y1="208.36" x2="41.35" y2="208.36"/>
<line x1="38.75" y1="206.90" x2="43.15" y2="206.90" stroke-width="1.1"/>
<line x1="38.75" y1="191.63" x2="41.35" y2="191.63"/>
<line x1="38.75" y1="187.63" x2="41.35" y2="187.63"/>
<line x1="38.75" y1="184.53" x2="41.35" y2="184.53"/>
<line x1="38.75" y1="182.00" x2="41.35" y2="182.00"/>
<line x1="38.75" y1="179.86" x2="41.35" y2="179.86"/>
<line x1="38.75" y1="178.00" x2="41.35" y2="178.00"/>
<line x1="38.75" y1="176.36" x2="41.35" y2="176.36"/>
<line x1="38.75" y1="174.90" x2="43.15" y2="174.90" stroke-width="1.1"/>
<line x1="38.75" y1="159.63" x2="41.35" y2="159.63"/>
<line x1="38.75" y1="155.63" x2="41.35" y2="155.63"/>
<line x1="38.75" y1="152.53" x2="41.35" y2="152.53"/>
<line x1="38.75" y1="150.00" x2="41.35" y2="150.00"/>
<line x1="38.75" y1="147.86" x2="41.35" y2="147.86"/>
<line x1="38.75" y1="146.00" x2="41.35" y2="146.00"/>
<line x1="38.75" y1="144.36" x2="41.35" y2="144.36"/>
<line x1="38.75" y1="142.90" x2="43.15" y2="142.90" stroke-width="1.1"/>
</g>
<rect x="38.75" y="1.1" width="375.65" height="136.90" fill="none" stroke="#404040" stroke-width="1.0"/>
<rect x="38.75" y="143.0" width="375.65" height="127.90" fill="none" stroke="#404040" stroke-width="1.0"/>
<text x="36.90" y="137.70" text-anchor="end" font-size="10.3">10<tspan font-size="7.9" dy="-3.7">2</tspan></text>
<text x="36.90" y="110.10" text-anchor="end" font-size="10.3">10<tspan font-size="7.9" dy="-3.7">3</tspan></text>
<text x="36.90" y="78.00" text-anchor="end" font-size="10.3">10<tspan font-size="7.9" dy="-3.7">4</tspan></text>
<text x="36.90" y="45.90" text-anchor="end" font-size="10.3">10<tspan font-size="7.9" dy="-3.7">5</tspan></text>
<text x="36.90" y="13.80" text-anchor="end" font-size="10.3">10<tspan font-size="7.9" dy="-3.7">6</tspan></text>
<text x="36.90" y="274.00" text-anchor="end" font-size="10.3">10<tspan font-size="7.9" dy="-3.7">1</tspan></text>
<text x="36.90" y="243.20" text-anchor="end" font-size="10.3">10<tspan font-size="7.9" dy="-3.7">3</tspan></text>
<text x="36.90" y="211.20" text-anchor="end" font-size="10.3">10<tspan font-size="7.9" dy="-3.7">5</tspan></text>
<text x="36.90" y="179.20" text-anchor="end" font-size="10.3">10<tspan font-size="7.9" dy="-3.7">7</tspan></text>
<text x="40.75" y="281.9" text-anchor="middle" font-size="10.2">1</text>
<text x="84.91" y="281.9" text-anchor="middle" font-size="10.2">10</text>
<text x="133.86" y="281.90" text-anchor="middle" font-size="10.2">10<tspan font-size="7.9" dy="-3.7">2</tspan></text>
<text x="180.82" y="281.90" text-anchor="middle" font-size="10.2">10<tspan font-size="7.9" dy="-3.7">3</tspan></text>
<text x="227.77" y="281.90" text-anchor="middle" font-size="10.2">10<tspan font-size="7.9" dy="-3.7">4</tspan></text>
<text x="274.73" y="281.90" text-anchor="middle" font-size="10.2">10<tspan font-size="7.9" dy="-3.7">5</tspan></text>
<text x="321.69" y="281.90" text-anchor="middle" font-size="10.2">10<tspan font-size="7.9" dy="-3.7">6</tspan></text>
<text x="368.64" y="281.90" text-anchor="middle" font-size="10.2">10<tspan font-size="7.9" dy="-3.7">7</tspan></text>
<text x="417.00" y="281.90" text-anchor="middle" font-size="10.2">10<tspan font-size="7.9" dy="-3.7">8</tspan></text>
<text x="172" y="298.2" font-size="16.2">Frequency (Hz)</text>
<g transform="translate(14.6 235.9) rotate(-90)" font-size="15.7"><text x="0" y="0">Complex</text><text x="69.3" y="0">permittivity</text><g text-anchor="middle"><text x="149.4" y="0">(</text><text x="157.3" y="0">ε</text><text x="163.2" y="0">'</text><text x="167.8" y="0">,</text><text x="177.6" y="0">ε</text><text x="185.2" y="0">"</text><text x="195.2" y="0">)</text></g></g>
<text x="66.2" y="17" font-size="12.8">electrode interface</text>
<text x="239.5" y="37" font-size="13">grain boundary</text>
<text x="271.2" y="67" font-size="13.07">BLLT-LLT' interface</text>
<text x="351" y="113" font-size="13">intra-grain</text>
<line x1="256.60" y1="40.60" x2="246.92" y2="52.05" stroke="#231815" stroke-width="0.6"/><path d="M244.60 54.80L245.78 51.08L248.07 53.02Z" fill="#231815"/>
<line x1="282.50" y1="71.00" x2="265.39" y2="90.31" stroke="#231815" stroke-width="0.6"/><path d="M263.00 93.00L264.27 89.31L266.51 91.30Z" fill="#231815"/>
<line x1="394.60" y1="115.80" x2="405.51" y2="123.95" stroke="#231815" stroke-width="0.6"/><path d="M408.40 126.10L404.62 125.15L406.41 122.74Z" fill="#231815"/>
<text x="47" y="127.1" font-size="25" style="stroke-width:0.32px">ε<tspan dx="0.6" dy="1.8" font-size="25">'</tspan></text>
<text x="90" y="197" font-size="12.8">electrode interface</text>
<text x="217" y="188" font-size="13">grain</text>
<text x="217" y="198.75" font-size="13">boundary</text>
<text x="222.2" y="261.75" font-size="13.07">BLLT-LLT' interface</text>
<line x1="243.75" y1="201.25" x2="248.09" y2="208.20" stroke="#231815" stroke-width="0.6"/><path d="M250.00 211.25L246.82 208.99L249.36 207.40Z" fill="#231815"/>
<line x1="277.50" y1="251.25" x2="267.09" y2="236.68" stroke="#231815" stroke-width="0.6"/><path d="M265.00 233.75L268.31 235.81L265.87 237.55Z" fill="#231815"/>
<text x="47.7" y="263.8" font-size="25" style="stroke-width:0.32px">ε<tspan dx="0.8" dy="1.4" font-size="25">"</tspan></text>
<path d="M309.8 153.3a2.2 2.2 0 1 0 4.5 0a2.2 2.2 0 1 0 -4.5 0z" fill="#fff" stroke="#e62f3f" stroke-width="0.8"/>
<path d="M309.8 165.9h4.5v4.5h-4.5z" fill="#fff" stroke="#1b2759" stroke-width="0.8"/>
<path d="M309.3 183l2.7 -2.7l2.7 2.7l-2.7 2.7z" fill="#fff" stroke="#2f55b8" stroke-width="0.8"/>
<path d="M309.5 200.3l2.5 -4.7l2.5 4.7z" fill="#fff" stroke="#2ea3e6" stroke-width="0.8"/>
<text x="319.5" y="157.5" font-size="12.35">LLT bare</text>
<text x="319.5" y="172" font-size="12.35">3 mol% BT-LLT</text>
<text x="319.5" y="187" font-size="12.35">10 mol% BT-LLT</text>
<text x="319.5" y="202" font-size="12.35">20 mol% BT-LLT</text>
<line x1="301.5" y1="211.5" x2="323" y2="211.5" stroke="#3c3c3c" stroke-width="1.2" stroke-dasharray="1.1 0.8"/>
<text x="327.25" y="216.25" font-size="12.35">Fit</text>
</svg>
</body></html>
